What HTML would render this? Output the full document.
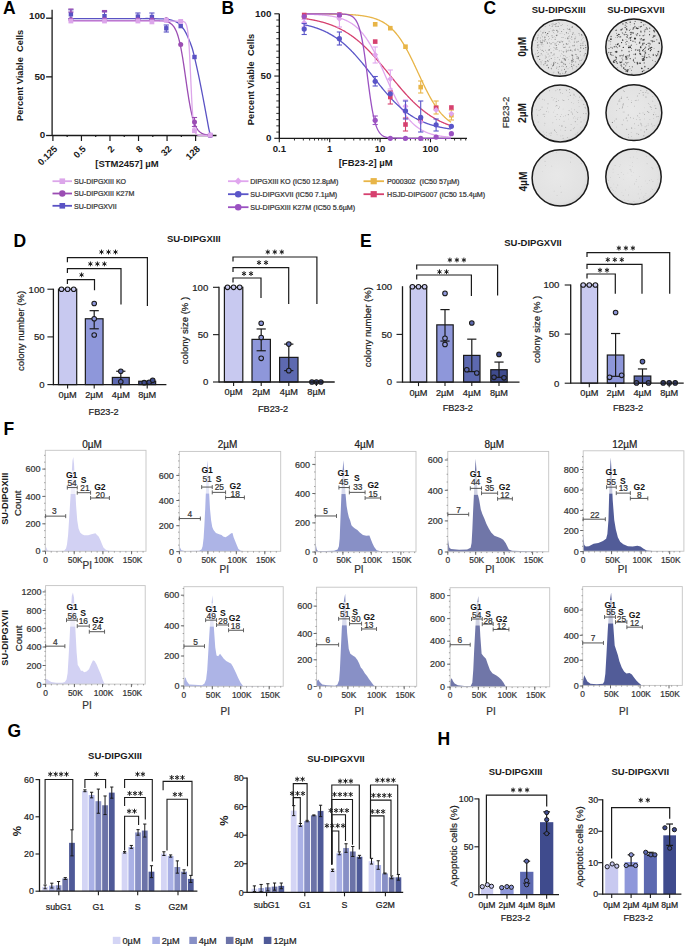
<!DOCTYPE html>
<html><head><meta charset="utf-8"><style>
html,body{margin:0;padding:0;background:#fff;}
svg{display:block;}
text{font-family:"Liberation Sans",sans-serif;}
</style></head><body>
<svg width="685" height="947" viewBox="0 0 685 947">
<rect width="685" height="947" fill="#fff"/>
<text x="3" y="13.7" font-size="17.5" font-weight="bold" text-anchor="start" fill="#000">A</text>
<line x1="52.1" y1="9.7" x2="52.1" y2="136" stroke="#1a1a1a" stroke-width="1.3"/>
<line x1="46.1" y1="18.2" x2="52.1" y2="18.2" stroke="#1a1a1a" stroke-width="1.3"/>
<text x="45.3" y="19.2" font-size="9.8" font-weight="bold" text-anchor="end" fill="#1a1a1a">100</text>
<line x1="46.1" y1="76.85" x2="52.1" y2="76.85" stroke="#1a1a1a" stroke-width="1.3"/>
<text x="45.3" y="79.65" font-size="9.8" font-weight="bold" text-anchor="end" fill="#1a1a1a">50</text>
<line x1="46.1" y1="135.5" x2="52.1" y2="135.5" stroke="#1a1a1a" stroke-width="1.3"/>
<text x="45.3" y="137.7" font-size="9.8" font-weight="bold" text-anchor="end" fill="#1a1a1a">0</text>
<text x="23.4" y="75.4" font-size="9.3" font-weight="bold" text-anchor="middle" fill="#1a1a1a" transform="rotate(-90 23.4 75.4)">Percent Viable  Cells</text>
<line x1="52.1" y1="135.5" x2="216.5" y2="135.5" stroke="#1a1a1a" stroke-width="1.3"/>
<line x1="52.9" y1="135.5" x2="52.9" y2="141" stroke="#1a1a1a" stroke-width="1.2"/>
<line x1="67.17" y1="135.5" x2="67.17" y2="137.1" stroke="#1a1a1a" stroke-width="1.2"/>
<line x1="81.44" y1="135.5" x2="81.44" y2="141" stroke="#1a1a1a" stroke-width="1.2"/>
<line x1="95.71" y1="135.5" x2="95.71" y2="137.1" stroke="#1a1a1a" stroke-width="1.2"/>
<line x1="109.98" y1="135.5" x2="109.98" y2="141" stroke="#1a1a1a" stroke-width="1.2"/>
<line x1="124.25" y1="135.5" x2="124.25" y2="137.1" stroke="#1a1a1a" stroke-width="1.2"/>
<line x1="138.52" y1="135.5" x2="138.52" y2="141" stroke="#1a1a1a" stroke-width="1.2"/>
<line x1="152.79" y1="135.5" x2="152.79" y2="137.1" stroke="#1a1a1a" stroke-width="1.2"/>
<line x1="167.06" y1="135.5" x2="167.06" y2="141" stroke="#1a1a1a" stroke-width="1.2"/>
<line x1="181.33" y1="135.5" x2="181.33" y2="137.1" stroke="#1a1a1a" stroke-width="1.2"/>
<line x1="195.6" y1="135.5" x2="195.6" y2="141" stroke="#1a1a1a" stroke-width="1.2"/>
<line x1="209.87" y1="135.5" x2="209.87" y2="137.1" stroke="#1a1a1a" stroke-width="1.2"/>
<text x="57.9" y="149.5" font-size="9.3" font-weight="bold" text-anchor="end" fill="#1a1a1a" transform="rotate(-45 57.9 149.5)">0.125</text>
<text x="86.44" y="149.5" font-size="9.3" font-weight="bold" text-anchor="end" fill="#1a1a1a" transform="rotate(-45 86.44 149.5)">0.5</text>
<text x="114.98" y="149.5" font-size="9.3" font-weight="bold" text-anchor="end" fill="#1a1a1a" transform="rotate(-45 114.98 149.5)">2</text>
<text x="143.52" y="149.5" font-size="9.3" font-weight="bold" text-anchor="end" fill="#1a1a1a" transform="rotate(-45 143.52 149.5)">8</text>
<text x="172.06" y="149.5" font-size="9.3" font-weight="bold" text-anchor="end" fill="#1a1a1a" transform="rotate(-45 172.06 149.5)">32</text>
<text x="200.6" y="149.5" font-size="9.3" font-weight="bold" text-anchor="end" fill="#1a1a1a" transform="rotate(-45 200.6 149.5)">128</text>
<text x="127" y="167" font-size="9.5" font-weight="bold" text-anchor="middle" fill="#1a1a1a">[STM2457] µM</text>
<path d="M142.87 18.54 C144.06 18.54 146.44 18.47 150 18.54 C153.56 18.62 160.69 18.71 164.26 18.97 C167.82 19.23 169.01 19.4 171.39 20.11 C173.76 20.83 176.38 21.61 178.51 23.25 C180.65 24.89 182.55 27.41 184.22 29.95 C185.88 32.49 187.19 35.53 188.49 38.5 C189.8 41.47 191.06 44.68 192.06 47.77 C193.06 50.86 193.41 52.52 194.48 57.04 C195.55 61.55 197.1 68.33 198.47 74.86 C199.85 81.39 201.33 88.88 202.75 96.25 C204.18 103.61 205.96 113.35 207.03 119.06 C208.1 124.76 208.57 127.8 209.17 130.46 C209.76 133.12 210.36 134.27 210.59 135.03" fill="none" stroke="#5a52c4" stroke-width="1.3"/>
<line x1="70.9" y1="18.6" x2="142.9" y2="18.6" stroke="#5a52c4" stroke-width="1.3"/>
<path d="M70.23 20.55 L70.63 20.55 L71.04 20.55 L71.45 20.55 L71.86 20.55 L72.26 20.55 L72.67 20.55 L73.08 20.55 L73.49 20.55 L73.89 20.55 L74.3 20.55 L74.71 20.55 L75.12 20.55 L75.53 20.55 L75.93 20.55 L76.34 20.55 L76.75 20.55 L77.16 20.55 L77.56 20.55 L77.97 20.55 L78.38 20.55 L78.79 20.55 L79.19 20.55 L79.6 20.55 L80.01 20.55 L80.42 20.55 L80.83 20.55 L81.23 20.55 L81.64 20.55 L82.05 20.55 L82.46 20.55 L82.86 20.55 L83.27 20.55 L83.68 20.55 L84.09 20.55 L84.49 20.55 L84.9 20.55 L85.31 20.55 L85.72 20.55 L86.13 20.55 L86.53 20.55 L86.94 20.55 L87.35 20.55 L87.76 20.55 L88.16 20.55 L88.57 20.55 L88.98 20.55 L89.39 20.55 L89.79 20.55 L90.2 20.55 L90.61 20.55 L91.02 20.55 L91.43 20.55 L91.83 20.55 L92.24 20.55 L92.65 20.55 L93.06 20.55 L93.46 20.55 L93.87 20.55 L94.28 20.55 L94.69 20.55 L95.09 20.55 L95.5 20.55 L95.91 20.55 L96.32 20.55 L96.72 20.55 L97.13 20.55 L97.54 20.55 L97.95 20.55 L98.36 20.55 L98.76 20.55 L99.17 20.55 L99.58 20.55 L99.99 20.55 L100.39 20.55 L100.8 20.55 L101.21 20.55 L101.62 20.55 L102.02 20.55 L102.43 20.55 L102.84 20.55 L103.25 20.55 L103.66 20.55 L104.06 20.55 L104.47 20.55 L104.88 20.55 L105.29 20.55 L105.69 20.55 L106.1 20.55 L106.51 20.55 L106.92 20.55 L107.32 20.55 L107.73 20.55 L108.14 20.55 L108.55 20.55 L108.96 20.55 L109.36 20.55 L109.77 20.55 L110.18 20.55 L110.59 20.55 L110.99 20.55 L111.4 20.55 L111.81 20.55 L112.22 20.55 L112.62 20.55 L113.03 20.55 L113.44 20.55 L113.85 20.55 L114.26 20.55 L114.66 20.55 L115.07 20.55 L115.48 20.55 L115.89 20.55 L116.29 20.55 L116.7 20.55 L117.11 20.55 L117.52 20.55 L117.92 20.55 L118.33 20.55 L118.74 20.55 L119.15 20.55 L119.56 20.55 L119.96 20.55 L120.37 20.55 L120.78 20.55 L121.19 20.55 L121.59 20.55 L122 20.55 L122.41 20.55 L122.82 20.55 L123.22 20.55 L123.63 20.55 L124.04 20.55 L124.45 20.55 L124.85 20.55 L125.26 20.55 L125.67 20.55 L126.08 20.55 L126.49 20.55 L126.89 20.55 L127.3 20.55 L127.71 20.55 L128.12 20.55 L128.52 20.55 L128.93 20.55 L129.34 20.55 L129.75 20.55 L130.15 20.55 L130.56 20.55 L130.97 20.55 L131.38 20.55 L131.79 20.55 L132.19 20.55 L132.6 20.55 L133.01 20.55 L133.42 20.55 L133.82 20.55 L134.23 20.55 L134.64 20.55 L135.05 20.55 L135.45 20.55 L135.86 20.55 L136.27 20.55 L136.68 20.55 L137.09 20.55 L137.49 20.55 L137.9 20.55 L138.31 20.55 L138.72 20.55 L139.12 20.55 L139.53 20.55 L139.94 20.55 L140.35 20.55 L140.75 20.55 L141.16 20.55 L141.57 20.55 L141.98 20.55 L142.39 20.55 L142.79 20.55 L143.2 20.55 L143.61 20.55 L144.02 20.55 L144.42 20.55 L144.83 20.55 L145.24 20.55 L145.65 20.55 L146.05 20.55 L146.46 20.55 L146.87 20.56 L147.28 20.56 L147.69 20.56 L148.09 20.56 L148.5 20.56 L148.91 20.56 L149.32 20.56 L149.72 20.56 L150.13 20.57 L150.54 20.57 L150.95 20.57 L151.35 20.57 L151.76 20.58 L152.17 20.58 L152.58 20.58 L152.98 20.59 L153.39 20.59 L153.8 20.6 L154.21 20.6 L154.62 20.61 L155.02 20.61 L155.43 20.62 L155.84 20.63 L156.25 20.64 L156.65 20.65 L157.06 20.66 L157.47 20.67 L157.88 20.68 L158.28 20.69 L158.69 20.71 L159.1 20.73 L159.51 20.75 L159.92 20.77 L160.32 20.79 L160.73 20.81 L161.14 20.84 L161.55 20.87 L161.95 20.91 L162.36 20.95 L162.77 20.99 L163.18 21.03 L163.58 21.08 L163.99 21.14 L164.4 21.2 L164.81 21.27 L165.22 21.34 L165.62 21.42 L166.03 21.51 L166.44 21.61 L166.85 21.72 L167.25 21.85 L167.66 21.98 L168.07 22.13 L168.48 22.29 L168.88 22.47 L169.29 22.66 L169.7 22.88 L170.11 23.12 L170.52 23.38 L170.92 23.66 L171.33 23.98 L171.74 24.32 L172.15 24.7 L172.55 25.12 L172.96 25.57 L173.37 26.07 L173.78 26.61 L174.18 27.21 L174.59 27.86 L175 28.57 L175.41 29.34 L175.82 30.18 L176.22 31.09 L176.63 32.07 L177.04 33.14 L177.45 34.3 L177.85 35.54 L178.26 36.88 L178.67 38.32 L179.08 39.85 L179.48 41.5 L179.89 43.25 L180.3 45.11 L180.71 47.07 L181.12 49.15 L181.52 51.33 L181.93 53.61 L182.34 55.99 L182.75 58.46 L183.15 61.02 L183.56 63.65 L183.97 66.35 L184.38 69.1 L184.78 71.9 L185.19 74.72 L185.6 77.57 L186.01 80.41 L186.41 83.24 L186.82 86.05 L187.23 88.82 L187.64 91.54 L188.05 94.19 L188.45 96.77 L188.86 99.27 L189.27 101.68 L189.68 104 L190.08 106.21 L190.49 108.32 L190.9 110.32 L191.31 112.21 L191.71 114 L192.12 115.68 L192.53 117.25 L192.94 118.72 L193.35 120.09 L193.75 121.36 L194.16 122.54 L194.57 123.64 L194.98 124.65 L195.38 125.59 L195.79 126.45 L196.2 127.24 L196.61 127.97 L197.01 128.63 L197.42 129.25 L197.83 129.81 L198.24 130.32 L198.65 130.79 L199.05 131.22 L199.46 131.61 L199.87 131.96 L200.28 132.29 L200.68 132.58 L201.09 132.85 L201.5 133.09 L201.91 133.32 L202.31 133.52 L202.72 133.7 L203.13 133.87 L203.54 134.02 L203.95 134.16 L204.35 134.28 L204.76 134.4 L205.17 134.5 L205.58 134.59 L205.98 134.68 L206.39 134.76 L206.8 134.83 L207.21 134.89 L207.61 134.95 L208.02 135 L208.43 135.05 L208.84 135.09 L209.25 135.13 L209.65 135.16 L209.87 135.18" fill="none" stroke="#9b4db3" stroke-width="1.3"/>
<path d="M70.23 21.13 L70.63 21.13 L71.04 21.13 L71.45 21.13 L71.86 21.13 L72.26 21.13 L72.67 21.13 L73.08 21.13 L73.49 21.13 L73.89 21.13 L74.3 21.13 L74.71 21.13 L75.12 21.13 L75.53 21.13 L75.93 21.13 L76.34 21.13 L76.75 21.13 L77.16 21.13 L77.56 21.13 L77.97 21.13 L78.38 21.13 L78.79 21.13 L79.19 21.13 L79.6 21.13 L80.01 21.13 L80.42 21.13 L80.83 21.13 L81.23 21.13 L81.64 21.13 L82.05 21.13 L82.46 21.13 L82.86 21.13 L83.27 21.13 L83.68 21.13 L84.09 21.13 L84.49 21.13 L84.9 21.13 L85.31 21.13 L85.72 21.13 L86.13 21.13 L86.53 21.13 L86.94 21.13 L87.35 21.13 L87.76 21.13 L88.16 21.13 L88.57 21.13 L88.98 21.13 L89.39 21.13 L89.79 21.13 L90.2 21.13 L90.61 21.13 L91.02 21.13 L91.43 21.13 L91.83 21.13 L92.24 21.13 L92.65 21.13 L93.06 21.13 L93.46 21.13 L93.87 21.13 L94.28 21.13 L94.69 21.13 L95.09 21.13 L95.5 21.13 L95.91 21.13 L96.32 21.13 L96.72 21.13 L97.13 21.13 L97.54 21.13 L97.95 21.13 L98.36 21.13 L98.76 21.13 L99.17 21.13 L99.58 21.13 L99.99 21.13 L100.39 21.13 L100.8 21.13 L101.21 21.13 L101.62 21.13 L102.02 21.13 L102.43 21.13 L102.84 21.13 L103.25 21.13 L103.66 21.13 L104.06 21.13 L104.47 21.13 L104.88 21.13 L105.29 21.13 L105.69 21.13 L106.1 21.13 L106.51 21.13 L106.92 21.13 L107.32 21.13 L107.73 21.13 L108.14 21.13 L108.55 21.13 L108.96 21.13 L109.36 21.13 L109.77 21.13 L110.18 21.13 L110.59 21.13 L110.99 21.13 L111.4 21.13 L111.81 21.13 L112.22 21.13 L112.62 21.13 L113.03 21.13 L113.44 21.13 L113.85 21.13 L114.26 21.13 L114.66 21.13 L115.07 21.13 L115.48 21.13 L115.89 21.13 L116.29 21.13 L116.7 21.13 L117.11 21.13 L117.52 21.13 L117.92 21.13 L118.33 21.13 L118.74 21.13 L119.15 21.13 L119.56 21.13 L119.96 21.13 L120.37 21.13 L120.78 21.13 L121.19 21.13 L121.59 21.13 L122 21.13 L122.41 21.13 L122.82 21.13 L123.22 21.13 L123.63 21.13 L124.04 21.13 L124.45 21.13 L124.85 21.13 L125.26 21.13 L125.67 21.13 L126.08 21.13 L126.49 21.13 L126.89 21.13 L127.3 21.13 L127.71 21.13 L128.12 21.13 L128.52 21.13 L128.93 21.13 L129.34 21.13 L129.75 21.13 L130.15 21.13 L130.56 21.13 L130.97 21.13 L131.38 21.13 L131.79 21.13 L132.19 21.13 L132.6 21.13 L133.01 21.13 L133.42 21.13 L133.82 21.13 L134.23 21.13 L134.64 21.13 L135.05 21.13 L135.45 21.13 L135.86 21.13 L136.27 21.13 L136.68 21.13 L137.09 21.13 L137.49 21.13 L137.9 21.13 L138.31 21.13 L138.72 21.13 L139.12 21.13 L139.53 21.13 L139.94 21.13 L140.35 21.13 L140.75 21.13 L141.16 21.13 L141.57 21.13 L141.98 21.13 L142.39 21.13 L142.79 21.13 L143.2 21.13 L143.61 21.13 L144.02 21.13 L144.42 21.13 L144.83 21.13 L145.24 21.13 L145.65 21.13 L146.05 21.13 L146.46 21.13 L146.87 21.13 L147.28 21.13 L147.69 21.13 L148.09 21.13 L148.5 21.13 L148.91 21.13 L149.32 21.13 L149.72 21.13 L150.13 21.13 L150.54 21.13 L150.95 21.13 L151.35 21.13 L151.76 21.13 L152.17 21.13 L152.58 21.13 L152.98 21.13 L153.39 21.13 L153.8 21.13 L154.21 21.13 L154.62 21.13 L155.02 21.13 L155.43 21.13 L155.84 21.13 L156.25 21.13 L156.65 21.13 L157.06 21.13 L157.47 21.13 L157.88 21.13 L158.28 21.13 L158.69 21.13 L159.1 21.13 L159.51 21.13 L159.92 21.13 L160.32 21.13 L160.73 21.13 L161.14 21.13 L161.55 21.13 L161.95 21.13 L162.36 21.13 L162.77 21.13 L163.18 21.13 L163.58 21.13 L163.99 21.13 L164.4 21.13 L164.81 21.13 L165.22 21.13 L165.62 21.13 L166.03 21.13 L166.44 21.13 L166.85 21.13 L167.25 21.13 L167.66 21.13 L168.07 21.13 L168.48 21.13 L168.88 21.13 L169.29 21.13 L169.7 21.13 L170.11 21.13 L170.52 21.13 L170.92 21.13 L171.33 21.13 L171.74 21.13 L172.15 21.13 L172.55 21.13 L172.96 21.13 L173.37 21.13 L173.78 21.13 L174.18 21.13 L174.59 21.13 L175 21.13 L175.41 21.13 L175.82 21.13 L176.22 21.13 L176.63 21.13 L177.04 21.14 L177.45 21.14 L177.85 21.14 L178.26 21.14 L178.67 21.14 L179.08 21.15 L179.48 21.15 L179.89 21.16 L180.3 21.17 L180.71 21.18 L181.12 21.2 L181.52 21.22 L181.93 21.26 L182.34 21.3 L182.75 21.36 L183.15 21.45 L183.56 21.57 L183.97 21.73 L184.38 21.95 L184.78 22.25 L185.19 22.67 L185.6 23.23 L186.01 23.99 L186.41 25.02 L186.82 26.4 L187.23 28.24 L187.64 30.67 L188.05 33.83 L188.45 37.87 L188.86 42.92 L189.27 49.06 L189.68 56.27 L190.08 64.41 L190.49 73.2 L190.9 82.24 L191.31 91.08 L191.71 99.33 L192.12 106.68 L192.53 112.96 L192.94 118.15 L193.35 122.32 L193.75 125.59 L194.16 128.11 L194.57 130.02 L194.98 131.45 L195.38 132.52 L195.79 133.32 L196.2 133.9 L196.61 134.33 L197.01 134.65 L197.42 134.88 L197.83 135.05 L198.24 135.17 L198.65 135.26 L199.05 135.32 L199.46 135.37 L199.87 135.41 L200.28 135.43 L200.68 135.45 L201.09 135.46 L201.5 135.47 L201.91 135.48 L202.31 135.49 L202.72 135.49 L203.13 135.49 L203.54 135.49 L203.95 135.5 L204.35 135.5 L204.76 135.5 L205.17 135.5 L205.58 135.5 L205.98 135.5 L206.39 135.5 L206.8 135.5 L207.21 135.5 L207.61 135.5 L208.02 135.5 L208.43 135.5 L208.84 135.5 L209.25 135.5 L209.65 135.5 L209.87 135.5" fill="none" stroke="#dca6ea" stroke-width="1.3"/>
<line x1="70.9" y1="9.8" x2="70.9" y2="18.5" stroke="#5a52c4" stroke-width="1.1"/>
<line x1="68.3" y1="9.8" x2="73.5" y2="9.8" stroke="#5a52c4" stroke-width="1.1"/>
<line x1="68.3" y1="18.5" x2="73.5" y2="18.5" stroke="#5a52c4" stroke-width="1.1"/>
<rect x="68.7" y="12.1" width="4.4" height="4.4" fill="#5a52c4" stroke="none" stroke-width="1"/>
<line x1="104.5" y1="11.4" x2="104.5" y2="19.5" stroke="#5a52c4" stroke-width="1.1"/>
<line x1="101.9" y1="11.4" x2="107.1" y2="11.4" stroke="#5a52c4" stroke-width="1.1"/>
<line x1="101.9" y1="19.5" x2="107.1" y2="19.5" stroke="#5a52c4" stroke-width="1.1"/>
<rect x="102.3" y="14" width="4.4" height="4.4" fill="#5a52c4" stroke="none" stroke-width="1"/>
<line x1="137.9" y1="13" x2="137.9" y2="19" stroke="#5a52c4" stroke-width="1.1"/>
<line x1="135.3" y1="13" x2="140.5" y2="13" stroke="#5a52c4" stroke-width="1.1"/>
<line x1="135.3" y1="19" x2="140.5" y2="19" stroke="#5a52c4" stroke-width="1.1"/>
<rect x="135.7" y="14.4" width="4.4" height="4.4" fill="#5a52c4" stroke="none" stroke-width="1"/>
<line x1="151.9" y1="13" x2="151.9" y2="19.5" stroke="#5a52c4" stroke-width="1.1"/>
<line x1="149.3" y1="13" x2="154.5" y2="13" stroke="#5a52c4" stroke-width="1.1"/>
<line x1="149.3" y1="19.5" x2="154.5" y2="19.5" stroke="#5a52c4" stroke-width="1.1"/>
<rect x="149.7" y="14.8" width="4.4" height="4.4" fill="#5a52c4" stroke="none" stroke-width="1"/>
<line x1="166.3" y1="25" x2="166.3" y2="32" stroke="#5a52c4" stroke-width="1.1"/>
<line x1="163.7" y1="25" x2="168.9" y2="25" stroke="#5a52c4" stroke-width="1.1"/>
<line x1="163.7" y1="32" x2="168.9" y2="32" stroke="#5a52c4" stroke-width="1.1"/>
<rect x="164.1" y="26.1" width="4.4" height="4.4" fill="#5a52c4" stroke="none" stroke-width="1"/>
<rect x="178.5" y="23.9" width="4.4" height="4.4" fill="#5a52c4" stroke="none" stroke-width="1"/>
<rect x="192.3" y="54.8" width="4.4" height="4.4" fill="#5a52c4" stroke="none" stroke-width="1"/>
<rect x="208" y="133.1" width="4.4" height="4.4" fill="#5a52c4" stroke="none" stroke-width="1"/>
<circle cx="70.9" cy="19.5" r="2.5" fill="#9b4db3" stroke="none" stroke-width="1"/>
<circle cx="104.5" cy="19.5" r="2.5" fill="#9b4db3" stroke="none" stroke-width="1"/>
<circle cx="137.9" cy="19.8" r="2.5" fill="#9b4db3" stroke="none" stroke-width="1"/>
<circle cx="151.9" cy="19.8" r="2.5" fill="#9b4db3" stroke="none" stroke-width="1"/>
<circle cx="166.3" cy="19.8" r="2.5" fill="#9b4db3" stroke="none" stroke-width="1"/>
<circle cx="180.7" cy="44.6" r="2.5" fill="#9b4db3" stroke="none" stroke-width="1"/>
<circle cx="194.5" cy="121.9" r="2.5" fill="#9b4db3" stroke="none" stroke-width="1"/>
<circle cx="210.2" cy="135.3" r="2.5" fill="#9b4db3" stroke="none" stroke-width="1"/>
<line x1="194.5" y1="117.5" x2="194.5" y2="126.5" stroke="#9b4db3" stroke-width="1.1"/>
<line x1="191.9" y1="117.5" x2="197.1" y2="117.5" stroke="#9b4db3" stroke-width="1.1"/>
<line x1="191.9" y1="126.5" x2="197.1" y2="126.5" stroke="#9b4db3" stroke-width="1.1"/>
<line x1="70.9" y1="9" x2="70.9" y2="12" stroke="#9b4db3" stroke-width="1.1"/>
<line x1="68.3" y1="9" x2="73.5" y2="9" stroke="#9b4db3" stroke-width="1.1"/>
<line x1="68.3" y1="12" x2="73.5" y2="12" stroke="#9b4db3" stroke-width="1.1"/>
<line x1="104.5" y1="10.5" x2="104.5" y2="12" stroke="#9b4db3" stroke-width="1.1"/>
<line x1="101.9" y1="10.5" x2="107.1" y2="10.5" stroke="#9b4db3" stroke-width="1.1"/>
<line x1="101.9" y1="12" x2="107.1" y2="12" stroke="#9b4db3" stroke-width="1.1"/>
<rect x="68.5" y="18.6" width="4.8" height="4.8" fill="#dca6ea" stroke="none" stroke-width="1"/>
<rect x="102.1" y="18.6" width="4.8" height="4.8" fill="#dca6ea" stroke="none" stroke-width="1"/>
<rect x="135.5" y="18.6" width="4.8" height="4.8" fill="#dca6ea" stroke="none" stroke-width="1"/>
<rect x="149.5" y="19.5" width="4.8" height="4.8" fill="#dca6ea" stroke="none" stroke-width="1"/>
<rect x="163.9" y="17.9" width="4.8" height="4.8" fill="#dca6ea" stroke="none" stroke-width="1"/>
<rect x="178.3" y="19" width="4.8" height="4.8" fill="#dca6ea" stroke="none" stroke-width="1"/>
<rect x="192.1" y="128.3" width="4.8" height="4.8" fill="#dca6ea" stroke="none" stroke-width="1"/>
<rect x="207.8" y="132.6" width="4.8" height="4.8" fill="#dca6ea" stroke="none" stroke-width="1"/>
<line x1="52.5" y1="181.2" x2="72" y2="181.2" stroke="#dca6ea" stroke-width="1.8"/>
<rect x="59.5" y="178.4" width="5.6" height="5.6" fill="#dca6ea" stroke="none" stroke-width="1"/>
<text x="74" y="184" font-size="7.05" text-anchor="start" fill="#333" stroke="#333" stroke-width="0.22">SU-DIPGXIII KO</text>
<line x1="52.5" y1="193.5" x2="72" y2="193.5" stroke="#9b4db3" stroke-width="1.8"/>
<circle cx="62.3" cy="193.5" r="3.2" fill="#9b4db3" stroke="none" stroke-width="1"/>
<text x="74" y="196.3" font-size="7.05" text-anchor="start" fill="#333" stroke="#333" stroke-width="0.22">SU-DIPGXIII K27M</text>
<line x1="52.5" y1="205.8" x2="72" y2="205.8" stroke="#5a52c4" stroke-width="1.8"/>
<rect x="59.5" y="203" width="5.6" height="5.6" fill="#5a52c4" stroke="none" stroke-width="1"/>
<text x="74" y="208.6" font-size="7.05" text-anchor="start" fill="#333" stroke="#333" stroke-width="0.22">SU-DIPGXVII</text>
<text x="221.5" y="13.7" font-size="17.5" font-weight="bold" text-anchor="start" fill="#000">B</text>
<line x1="279.3" y1="13.8" x2="279.3" y2="138.8" stroke="#1a1a1a" stroke-width="1.4"/>
<line x1="274.3" y1="138.3" x2="279.3" y2="138.3" stroke="#1a1a1a" stroke-width="1.1"/>
<text x="271.4" y="141.3" font-size="9.8" font-weight="bold" text-anchor="end" fill="#1a1a1a">0</text>
<line x1="276.3" y1="132.08" x2="279.3" y2="132.08" stroke="#1a1a1a" stroke-width="0.9"/>
<line x1="276.3" y1="125.85" x2="279.3" y2="125.85" stroke="#1a1a1a" stroke-width="0.9"/>
<line x1="276.3" y1="119.63" x2="279.3" y2="119.63" stroke="#1a1a1a" stroke-width="0.9"/>
<line x1="276.3" y1="113.4" x2="279.3" y2="113.4" stroke="#1a1a1a" stroke-width="0.9"/>
<line x1="276.3" y1="107.18" x2="279.3" y2="107.18" stroke="#1a1a1a" stroke-width="0.9"/>
<line x1="276.3" y1="100.95" x2="279.3" y2="100.95" stroke="#1a1a1a" stroke-width="0.9"/>
<line x1="276.3" y1="94.73" x2="279.3" y2="94.73" stroke="#1a1a1a" stroke-width="0.9"/>
<line x1="276.3" y1="88.5" x2="279.3" y2="88.5" stroke="#1a1a1a" stroke-width="0.9"/>
<line x1="276.3" y1="82.28" x2="279.3" y2="82.28" stroke="#1a1a1a" stroke-width="0.9"/>
<line x1="274.3" y1="76.05" x2="279.3" y2="76.05" stroke="#1a1a1a" stroke-width="1.1"/>
<text x="271.4" y="79.05" font-size="9.8" font-weight="bold" text-anchor="end" fill="#1a1a1a">50</text>
<line x1="276.3" y1="69.83" x2="279.3" y2="69.83" stroke="#1a1a1a" stroke-width="0.9"/>
<line x1="276.3" y1="63.6" x2="279.3" y2="63.6" stroke="#1a1a1a" stroke-width="0.9"/>
<line x1="276.3" y1="57.38" x2="279.3" y2="57.38" stroke="#1a1a1a" stroke-width="0.9"/>
<line x1="276.3" y1="51.15" x2="279.3" y2="51.15" stroke="#1a1a1a" stroke-width="0.9"/>
<line x1="276.3" y1="44.92" x2="279.3" y2="44.92" stroke="#1a1a1a" stroke-width="0.9"/>
<line x1="276.3" y1="38.7" x2="279.3" y2="38.7" stroke="#1a1a1a" stroke-width="0.9"/>
<line x1="276.3" y1="32.48" x2="279.3" y2="32.48" stroke="#1a1a1a" stroke-width="0.9"/>
<line x1="276.3" y1="26.25" x2="279.3" y2="26.25" stroke="#1a1a1a" stroke-width="0.9"/>
<line x1="276.3" y1="20.03" x2="279.3" y2="20.03" stroke="#1a1a1a" stroke-width="0.9"/>
<line x1="274.3" y1="13.8" x2="279.3" y2="13.8" stroke="#1a1a1a" stroke-width="1.1"/>
<text x="271.4" y="16.8" font-size="9.8" font-weight="bold" text-anchor="end" fill="#1a1a1a">100</text>
<text x="254" y="79.5" font-size="9.3" font-weight="bold" text-anchor="middle" fill="#1a1a1a" transform="rotate(-90 254 79.5)">Percent Viable  Cells</text>
<line x1="279.3" y1="138.3" x2="467" y2="138.3" stroke="#1a1a1a" stroke-width="1.3"/>
<line x1="279.3" y1="138.3" x2="279.3" y2="142.3" stroke="#1a1a1a" stroke-width="1.1"/>
<line x1="294.47" y1="138.3" x2="294.47" y2="140.5" stroke="#1a1a1a" stroke-width="0.9"/>
<line x1="303.35" y1="138.3" x2="303.35" y2="140.5" stroke="#1a1a1a" stroke-width="0.9"/>
<line x1="309.64" y1="138.3" x2="309.64" y2="140.5" stroke="#1a1a1a" stroke-width="0.9"/>
<line x1="314.53" y1="138.3" x2="314.53" y2="140.5" stroke="#1a1a1a" stroke-width="0.9"/>
<line x1="318.52" y1="138.3" x2="318.52" y2="140.5" stroke="#1a1a1a" stroke-width="0.9"/>
<line x1="321.89" y1="138.3" x2="321.89" y2="140.5" stroke="#1a1a1a" stroke-width="0.9"/>
<line x1="324.82" y1="138.3" x2="324.82" y2="140.5" stroke="#1a1a1a" stroke-width="0.9"/>
<line x1="327.39" y1="138.3" x2="327.39" y2="140.5" stroke="#1a1a1a" stroke-width="0.9"/>
<line x1="329.7" y1="138.3" x2="329.7" y2="142.3" stroke="#1a1a1a" stroke-width="1.1"/>
<line x1="344.87" y1="138.3" x2="344.87" y2="140.5" stroke="#1a1a1a" stroke-width="0.9"/>
<line x1="353.75" y1="138.3" x2="353.75" y2="140.5" stroke="#1a1a1a" stroke-width="0.9"/>
<line x1="360.04" y1="138.3" x2="360.04" y2="140.5" stroke="#1a1a1a" stroke-width="0.9"/>
<line x1="364.93" y1="138.3" x2="364.93" y2="140.5" stroke="#1a1a1a" stroke-width="0.9"/>
<line x1="368.92" y1="138.3" x2="368.92" y2="140.5" stroke="#1a1a1a" stroke-width="0.9"/>
<line x1="372.29" y1="138.3" x2="372.29" y2="140.5" stroke="#1a1a1a" stroke-width="0.9"/>
<line x1="375.22" y1="138.3" x2="375.22" y2="140.5" stroke="#1a1a1a" stroke-width="0.9"/>
<line x1="377.79" y1="138.3" x2="377.79" y2="140.5" stroke="#1a1a1a" stroke-width="0.9"/>
<line x1="380.1" y1="138.3" x2="380.1" y2="142.3" stroke="#1a1a1a" stroke-width="1.1"/>
<line x1="395.27" y1="138.3" x2="395.27" y2="140.5" stroke="#1a1a1a" stroke-width="0.9"/>
<line x1="404.15" y1="138.3" x2="404.15" y2="140.5" stroke="#1a1a1a" stroke-width="0.9"/>
<line x1="410.44" y1="138.3" x2="410.44" y2="140.5" stroke="#1a1a1a" stroke-width="0.9"/>
<line x1="415.33" y1="138.3" x2="415.33" y2="140.5" stroke="#1a1a1a" stroke-width="0.9"/>
<line x1="419.32" y1="138.3" x2="419.32" y2="140.5" stroke="#1a1a1a" stroke-width="0.9"/>
<line x1="422.69" y1="138.3" x2="422.69" y2="140.5" stroke="#1a1a1a" stroke-width="0.9"/>
<line x1="425.62" y1="138.3" x2="425.62" y2="140.5" stroke="#1a1a1a" stroke-width="0.9"/>
<line x1="428.19" y1="138.3" x2="428.19" y2="140.5" stroke="#1a1a1a" stroke-width="0.9"/>
<line x1="430.5" y1="138.3" x2="430.5" y2="142.3" stroke="#1a1a1a" stroke-width="1.1"/>
<line x1="445.67" y1="138.3" x2="445.67" y2="140.5" stroke="#1a1a1a" stroke-width="0.9"/>
<line x1="454.55" y1="138.3" x2="454.55" y2="140.5" stroke="#1a1a1a" stroke-width="0.9"/>
<line x1="460.84" y1="138.3" x2="460.84" y2="140.5" stroke="#1a1a1a" stroke-width="0.9"/>
<line x1="465.73" y1="138.3" x2="465.73" y2="140.5" stroke="#1a1a1a" stroke-width="0.9"/>
<text x="279.3" y="152.3" font-size="9.6" font-weight="bold" text-anchor="middle" fill="#1a1a1a">0.1</text>
<text x="329.7" y="152.3" font-size="9.6" font-weight="bold" text-anchor="middle" fill="#1a1a1a">1</text>
<text x="380.1" y="152.3" font-size="9.6" font-weight="bold" text-anchor="middle" fill="#1a1a1a">10</text>
<text x="430.5" y="152.3" font-size="9.6" font-weight="bold" text-anchor="middle" fill="#1a1a1a">100</text>
<text x="365.7" y="166" font-size="9.5" font-weight="bold" text-anchor="middle" fill="#1a1a1a">[FB23-2] µM</text>
<path d="M304.06 13.83 L304.5 13.83 L304.93 13.83 L305.36 13.83 L305.8 13.83 L306.23 13.83 L306.67 13.83 L307.1 13.84 L307.53 13.84 L307.97 13.84 L308.4 13.84 L308.83 13.84 L309.27 13.84 L309.7 13.84 L310.13 13.84 L310.57 13.85 L311 13.85 L311.43 13.85 L311.87 13.85 L312.3 13.85 L312.73 13.85 L313.17 13.85 L313.6 13.86 L314.03 13.86 L314.47 13.86 L314.9 13.86 L315.33 13.86 L315.77 13.87 L316.2 13.87 L316.63 13.87 L317.07 13.87 L317.5 13.88 L317.93 13.88 L318.37 13.88 L318.8 13.88 L319.24 13.89 L319.67 13.89 L320.1 13.89 L320.54 13.89 L320.97 13.9 L321.4 13.9 L321.84 13.9 L322.27 13.91 L322.7 13.91 L323.14 13.91 L323.57 13.92 L324 13.92 L324.44 13.92 L324.87 13.93 L325.3 13.93 L325.74 13.94 L326.17 13.94 L326.6 13.95 L327.04 13.95 L327.47 13.96 L327.9 13.96 L328.34 13.97 L328.77 13.97 L329.2 13.98 L329.64 13.98 L330.07 13.99 L330.5 13.99 L330.94 14 L331.37 14.01 L331.81 14.01 L332.24 14.02 L332.67 14.03 L333.11 14.03 L333.54 14.04 L333.97 14.05 L334.41 14.06 L334.84 14.07 L335.27 14.08 L335.71 14.08 L336.14 14.09 L336.57 14.1 L337.01 14.11 L337.44 14.12 L337.87 14.13 L338.31 14.14 L338.74 14.15 L339.17 14.17 L339.61 14.18 L340.04 14.19 L340.47 14.2 L340.91 14.21 L341.34 14.23 L341.77 14.24 L342.21 14.26 L342.64 14.27 L343.08 14.29 L343.51 14.3 L343.94 14.32 L344.38 14.33 L344.81 14.35 L345.24 14.37 L345.68 14.39 L346.11 14.41 L346.54 14.42 L346.98 14.45 L347.41 14.47 L347.84 14.49 L348.28 14.51 L348.71 14.53 L349.14 14.56 L349.58 14.58 L350.01 14.6 L350.44 14.63 L350.88 14.66 L351.31 14.68 L351.74 14.71 L352.18 14.74 L352.61 14.77 L353.04 14.8 L353.48 14.83 L353.91 14.87 L354.34 14.9 L354.78 14.94 L355.21 14.97 L355.65 15.01 L356.08 15.05 L356.51 15.09 L356.95 15.13 L357.38 15.17 L357.81 15.21 L358.25 15.26 L358.68 15.31 L359.11 15.35 L359.55 15.4 L359.98 15.45 L360.41 15.51 L360.85 15.56 L361.28 15.62 L361.71 15.67 L362.15 15.73 L362.58 15.79 L363.01 15.86 L363.45 15.92 L363.88 15.99 L364.31 16.06 L364.75 16.13 L365.18 16.2 L365.61 16.28 L366.05 16.36 L366.48 16.44 L366.91 16.52 L367.35 16.61 L367.78 16.7 L368.22 16.79 L368.65 16.88 L369.08 16.98 L369.52 17.08 L369.95 17.18 L370.38 17.28 L370.82 17.39 L371.25 17.5 L371.68 17.62 L372.12 17.74 L372.55 17.86 L372.98 17.99 L373.42 18.12 L373.85 18.25 L374.28 18.39 L374.72 18.53 L375.15 18.68 L375.58 18.83 L376.02 18.98 L376.45 19.14 L376.88 19.3 L377.32 19.47 L377.75 19.65 L378.18 19.83 L378.62 20.01 L379.05 20.2 L379.48 20.39 L379.92 20.59 L380.35 20.8 L380.79 21.01 L381.22 21.23 L381.65 21.45 L382.09 21.68 L382.52 21.92 L382.95 22.16 L383.39 22.41 L383.82 22.67 L384.25 22.93 L384.69 23.2 L385.12 23.48 L385.55 23.76 L385.99 24.06 L386.42 24.36 L386.85 24.67 L387.29 24.98 L387.72 25.31 L388.15 25.64 L388.59 25.98 L389.02 26.33 L389.45 26.69 L389.89 27.06 L390.32 27.44 L390.75 27.83 L391.19 28.22 L391.62 28.63 L392.05 29.04 L392.49 29.47 L392.92 29.9 L393.36 30.35 L393.79 30.81 L394.22 31.27 L394.66 31.75 L395.09 32.24 L395.52 32.74 L395.96 33.25 L396.39 33.77 L396.82 34.3 L397.26 34.84 L397.69 35.39 L398.12 35.96 L398.56 36.54 L398.99 37.12 L399.42 37.72 L399.86 38.33 L400.29 38.95 L400.72 39.59 L401.16 40.23 L401.59 40.89 L402.02 41.56 L402.46 42.23 L402.89 42.92 L403.32 43.62 L403.76 44.34 L404.19 45.06 L404.62 45.79 L405.06 46.54 L405.49 47.29 L405.93 48.06 L406.36 48.84 L406.79 49.62 L407.23 50.42 L407.66 51.23 L408.09 52.04 L408.53 52.86 L408.96 53.7 L409.39 54.54 L409.83 55.39 L410.26 56.25 L410.69 57.11 L411.13 57.99 L411.56 58.87 L411.99 59.76 L412.43 60.65 L412.86 61.55 L413.29 62.45 L413.73 63.36 L414.16 64.28 L414.59 65.2 L415.03 66.12 L415.46 67.05 L415.89 67.97 L416.33 68.91 L416.76 69.84 L417.19 70.77 L417.63 71.71 L418.06 72.65 L418.5 73.58 L418.93 74.52 L419.36 75.46 L419.8 76.39 L420.23 77.32 L420.66 78.25 L421.1 79.18 L421.53 80.11 L421.96 81.03 L422.4 81.94 L422.83 82.86 L423.26 83.77 L423.7 84.67 L424.13 85.57 L424.56 86.46 L425 87.34 L425.43 88.22 L425.86 89.09 L426.3 89.95 L426.73 90.81 L427.16 91.66 L427.6 92.49 L428.03 93.32 L428.46 94.15 L428.9 94.96 L429.33 95.76 L429.76 96.55 L430.2 97.33 L430.63 98.11 L431.07 98.87 L431.5 99.62 L431.93 100.36 L432.37 101.09 L432.8 101.81 L433.23 102.52 L433.67 103.21 L434.1 103.9 L434.53 104.57 L434.97 105.24 L435.4 105.89 L435.83 106.53 L436.27 107.16 L436.7 107.78 L437.13 108.38 L437.57 108.98 L438 109.56 L438.43 110.13 L438.87 110.69 L439.3 111.24 L439.73 111.78 L440.17 112.31 L440.6 112.82 L441.03 113.33 L441.47 113.82 L441.9 114.31 L442.33 114.78 L442.77 115.24 L443.2 115.69 L443.64 116.14 L444.07 116.57 L444.5 116.99 L444.94 117.4 L445.37 117.8 L445.8 118.2 L446.24 118.58 L446.67 118.96 L447.1 119.32 L447.54 119.68 L447.97 120.02 L448.4 120.36 L448.84 120.69 L449.27 121.01 L449.7 121.33 L450.14 121.63 L450.57 121.93 L451 122.22" fill="none" stroke="#e8b548" stroke-width="1.3"/>
<path d="M304.06 18.5 L304.5 18.56 L304.93 18.62 L305.36 18.68 L305.8 18.74 L306.23 18.81 L306.67 18.87 L307.1 18.94 L307.53 19.01 L307.97 19.08 L308.4 19.15 L308.83 19.22 L309.27 19.29 L309.7 19.37 L310.13 19.44 L310.57 19.52 L311 19.59 L311.43 19.67 L311.87 19.75 L312.3 19.83 L312.73 19.92 L313.17 20 L313.6 20.09 L314.03 20.17 L314.47 20.26 L314.9 20.35 L315.33 20.44 L315.77 20.53 L316.2 20.63 L316.63 20.72 L317.07 20.82 L317.5 20.92 L317.93 21.02 L318.37 21.12 L318.8 21.23 L319.24 21.33 L319.67 21.44 L320.1 21.55 L320.54 21.66 L320.97 21.77 L321.4 21.88 L321.84 22 L322.27 22.12 L322.7 22.24 L323.14 22.36 L323.57 22.48 L324 22.61 L324.44 22.73 L324.87 22.86 L325.3 22.99 L325.74 23.13 L326.17 23.26 L326.6 23.4 L327.04 23.54 L327.47 23.68 L327.9 23.82 L328.34 23.97 L328.77 24.12 L329.2 24.27 L329.64 24.42 L330.07 24.58 L330.5 24.74 L330.94 24.89 L331.37 25.06 L331.81 25.22 L332.24 25.39 L332.67 25.56 L333.11 25.73 L333.54 25.91 L333.97 26.08 L334.41 26.26 L334.84 26.45 L335.27 26.63 L335.71 26.82 L336.14 27.01 L336.57 27.2 L337.01 27.4 L337.44 27.6 L337.87 27.8 L338.31 28 L338.74 28.21 L339.17 28.42 L339.61 28.63 L340.04 28.85 L340.47 29.07 L340.91 29.29 L341.34 29.52 L341.77 29.74 L342.21 29.98 L342.64 30.21 L343.08 30.45 L343.51 30.69 L343.94 30.93 L344.38 31.18 L344.81 31.43 L345.24 31.68 L345.68 31.94 L346.11 32.2 L346.54 32.46 L346.98 32.73 L347.41 33 L347.84 33.27 L348.28 33.55 L348.71 33.83 L349.14 34.12 L349.58 34.4 L350.01 34.69 L350.44 34.99 L350.88 35.29 L351.31 35.59 L351.74 35.89 L352.18 36.2 L352.61 36.51 L353.04 36.83 L353.48 37.15 L353.91 37.47 L354.34 37.8 L354.78 38.13 L355.21 38.46 L355.65 38.8 L356.08 39.14 L356.51 39.49 L356.95 39.83 L357.38 40.19 L357.81 40.54 L358.25 40.9 L358.68 41.26 L359.11 41.63 L359.55 42 L359.98 42.37 L360.41 42.75 L360.85 43.13 L361.28 43.52 L361.71 43.91 L362.15 44.3 L362.58 44.69 L363.01 45.09 L363.45 45.5 L363.88 45.9 L364.31 46.31 L364.75 46.72 L365.18 47.14 L365.61 47.56 L366.05 47.98 L366.48 48.41 L366.91 48.84 L367.35 49.28 L367.78 49.71 L368.22 50.15 L368.65 50.6 L369.08 51.04 L369.52 51.49 L369.95 51.95 L370.38 52.4 L370.82 52.86 L371.25 53.32 L371.68 53.79 L372.12 54.26 L372.55 54.73 L372.98 55.2 L373.42 55.68 L373.85 56.16 L374.28 56.64 L374.72 57.12 L375.15 57.61 L375.58 58.1 L376.02 58.59 L376.45 59.09 L376.88 59.58 L377.32 60.08 L377.75 60.59 L378.18 61.09 L378.62 61.59 L379.05 62.1 L379.48 62.61 L379.92 63.12 L380.35 63.64 L380.79 64.15 L381.22 64.67 L381.65 65.18 L382.09 65.7 L382.52 66.22 L382.95 66.75 L383.39 67.27 L383.82 67.8 L384.25 68.32 L384.69 68.85 L385.12 69.38 L385.55 69.9 L385.99 70.43 L386.42 70.96 L386.85 71.49 L387.29 72.03 L387.72 72.56 L388.15 73.09 L388.59 73.62 L389.02 74.15 L389.45 74.69 L389.89 75.22 L390.32 75.75 L390.75 76.28 L391.19 76.82 L391.62 77.35 L392.05 77.88 L392.49 78.41 L392.92 78.94 L393.36 79.47 L393.79 80 L394.22 80.53 L394.66 81.05 L395.09 81.58 L395.52 82.1 L395.96 82.63 L396.39 83.15 L396.82 83.67 L397.26 84.19 L397.69 84.71 L398.12 85.23 L398.56 85.74 L398.99 86.26 L399.42 86.77 L399.86 87.28 L400.29 87.79 L400.72 88.3 L401.16 88.8 L401.59 89.3 L402.02 89.8 L402.46 90.3 L402.89 90.8 L403.32 91.29 L403.76 91.78 L404.19 92.27 L404.62 92.75 L405.06 93.24 L405.49 93.72 L405.93 94.2 L406.36 94.67 L406.79 95.14 L407.23 95.61 L407.66 96.08 L408.09 96.54 L408.53 97 L408.96 97.46 L409.39 97.91 L409.83 98.37 L410.26 98.81 L410.69 99.26 L411.13 99.7 L411.56 100.14 L411.99 100.57 L412.43 101.01 L412.86 101.43 L413.29 101.86 L413.73 102.28 L414.16 102.7 L414.59 103.11 L415.03 103.53 L415.46 103.93 L415.89 104.34 L416.33 104.74 L416.76 105.14 L417.19 105.53 L417.63 105.92 L418.06 106.31 L418.5 106.69 L418.93 107.07 L419.36 107.44 L419.8 107.81 L420.23 108.18 L420.66 108.55 L421.1 108.91 L421.53 109.27 L421.96 109.62 L422.4 109.97 L422.83 110.32 L423.26 110.66 L423.7 111 L424.13 111.33 L424.56 111.66 L425 111.99 L425.43 112.32 L425.86 112.64 L426.3 112.96 L426.73 113.27 L427.16 113.58 L427.6 113.89 L428.03 114.19 L428.46 114.49 L428.9 114.78 L429.33 115.08 L429.76 115.37 L430.2 115.65 L430.63 115.93 L431.07 116.21 L431.5 116.49 L431.93 116.76 L432.37 117.03 L432.8 117.29 L433.23 117.55 L433.67 117.81 L434.1 118.07 L434.53 118.32 L434.97 118.57 L435.4 118.81 L435.83 119.06 L436.27 119.29 L436.7 119.53 L437.13 119.76 L437.57 119.99 L438 120.22 L438.43 120.44 L438.87 120.66 L439.3 120.88 L439.73 121.09 L440.17 121.31 L440.6 121.51 L441.03 121.72 L441.47 121.92 L441.9 122.12 L442.33 122.32 L442.77 122.52 L443.2 122.71 L443.64 122.9 L444.07 123.08 L444.5 123.27 L444.94 123.45 L445.37 123.63 L445.8 123.8 L446.24 123.97 L446.67 124.15 L447.1 124.31 L447.54 124.48 L447.97 124.64 L448.4 124.8 L448.84 124.96 L449.27 125.12 L449.7 125.27 L450.14 125.42 L450.57 125.57 L451 125.72" fill="none" stroke="#d6416f" stroke-width="1.3"/>
<path d="M304.06 14.12 L304.5 14.13 L304.93 14.14 L305.36 14.15 L305.8 14.17 L306.23 14.18 L306.67 14.19 L307.1 14.2 L307.53 14.22 L307.97 14.23 L308.4 14.24 L308.83 14.26 L309.27 14.27 L309.7 14.29 L310.13 14.3 L310.57 14.32 L311 14.33 L311.43 14.35 L311.87 14.37 L312.3 14.39 L312.73 14.41 L313.17 14.43 L313.6 14.45 L314.03 14.47 L314.47 14.49 L314.9 14.51 L315.33 14.53 L315.77 14.56 L316.2 14.58 L316.63 14.61 L317.07 14.63 L317.5 14.66 L317.93 14.69 L318.37 14.71 L318.8 14.74 L319.24 14.77 L319.67 14.8 L320.1 14.84 L320.54 14.87 L320.97 14.9 L321.4 14.94 L321.84 14.97 L322.27 15.01 L322.7 15.05 L323.14 15.09 L323.57 15.13 L324 15.17 L324.44 15.22 L324.87 15.26 L325.3 15.31 L325.74 15.36 L326.17 15.41 L326.6 15.46 L327.04 15.51 L327.47 15.56 L327.9 15.62 L328.34 15.68 L328.77 15.74 L329.2 15.8 L329.64 15.86 L330.07 15.93 L330.5 16 L330.94 16.06 L331.37 16.14 L331.81 16.21 L332.24 16.29 L332.67 16.36 L333.11 16.44 L333.54 16.53 L333.97 16.61 L334.41 16.7 L334.84 16.79 L335.27 16.89 L335.71 16.98 L336.14 17.08 L336.57 17.19 L337.01 17.29 L337.44 17.4 L337.87 17.51 L338.31 17.63 L338.74 17.75 L339.17 17.87 L339.61 18 L340.04 18.13 L340.47 18.26 L340.91 18.4 L341.34 18.55 L341.77 18.69 L342.21 18.84 L342.64 19 L343.08 19.16 L343.51 19.32 L343.94 19.49 L344.38 19.67 L344.81 19.85 L345.24 20.03 L345.68 20.22 L346.11 20.42 L346.54 20.62 L346.98 20.83 L347.41 21.04 L347.84 21.26 L348.28 21.49 L348.71 21.72 L349.14 21.96 L349.58 22.2 L350.01 22.45 L350.44 22.71 L350.88 22.98 L351.31 23.25 L351.74 23.53 L352.18 23.82 L352.61 24.11 L353.04 24.42 L353.48 24.73 L353.91 25.05 L354.34 25.38 L354.78 25.71 L355.21 26.06 L355.65 26.42 L356.08 26.78 L356.51 27.15 L356.95 27.53 L357.38 27.93 L357.81 28.33 L358.25 28.74 L358.68 29.16 L359.11 29.59 L359.55 30.03 L359.98 30.49 L360.41 30.95 L360.85 31.42 L361.28 31.91 L361.71 32.41 L362.15 32.91 L362.58 33.43 L363.01 33.96 L363.45 34.5 L363.88 35.05 L364.31 35.62 L364.75 36.19 L365.18 36.78 L365.61 37.38 L366.05 37.99 L366.48 38.62 L366.91 39.25 L367.35 39.9 L367.78 40.56 L368.22 41.23 L368.65 41.91 L369.08 42.61 L369.52 43.32 L369.95 44.04 L370.38 44.77 L370.82 45.51 L371.25 46.27 L371.68 47.03 L372.12 47.81 L372.55 48.6 L372.98 49.4 L373.42 50.21 L373.85 51.03 L374.28 51.86 L374.72 52.71 L375.15 53.56 L375.58 54.42 L376.02 55.29 L376.45 56.17 L376.88 57.06 L377.32 57.96 L377.75 58.87 L378.18 59.78 L378.62 60.71 L379.05 61.64 L379.48 62.57 L379.92 63.52 L380.35 64.47 L380.79 65.42 L381.22 66.38 L381.65 67.34 L382.09 68.31 L382.52 69.29 L382.95 70.26 L383.39 71.24 L383.82 72.22 L384.25 73.21 L384.69 74.19 L385.12 75.18 L385.55 76.16 L385.99 77.15 L386.42 78.13 L386.85 79.12 L387.29 80.1 L387.72 81.08 L388.15 82.06 L388.59 83.04 L389.02 84.01 L389.45 84.98 L389.89 85.94 L390.32 86.9 L390.75 87.85 L391.19 88.8 L391.62 89.74 L392.05 90.68 L392.49 91.61 L392.92 92.53 L393.36 93.44 L393.79 94.34 L394.22 95.24 L394.66 96.13 L395.09 97.01 L395.52 97.88 L395.96 98.74 L396.39 99.59 L396.82 100.43 L397.26 101.26 L397.69 102.08 L398.12 102.89 L398.56 103.68 L398.99 104.47 L399.42 105.24 L399.86 106.01 L400.29 106.76 L400.72 107.5 L401.16 108.23 L401.59 108.95 L402.02 109.65 L402.46 110.34 L402.89 111.02 L403.32 111.69 L403.76 112.35 L404.19 112.99 L404.62 113.63 L405.06 114.25 L405.49 114.86 L405.93 115.45 L406.36 116.04 L406.79 116.61 L407.23 117.17 L407.66 117.72 L408.09 118.26 L408.53 118.79 L408.96 119.3 L409.39 119.81 L409.83 120.3 L410.26 120.78 L410.69 121.26 L411.13 121.72 L411.56 122.17 L411.99 122.61 L412.43 123.04 L412.86 123.46 L413.29 123.86 L413.73 124.26 L414.16 124.65 L414.59 125.03 L415.03 125.41 L415.46 125.77 L415.89 126.12 L416.33 126.46 L416.76 126.8 L417.19 127.12 L417.63 127.44 L418.06 127.75 L418.5 128.05 L418.93 128.35 L419.36 128.64 L419.8 128.91 L420.23 129.19 L420.66 129.45 L421.1 129.71 L421.53 129.96 L421.96 130.2 L422.4 130.44 L422.83 130.67 L423.26 130.89 L423.7 131.11 L424.13 131.32 L424.56 131.53 L425 131.73 L425.43 131.92 L425.86 132.11 L426.3 132.29 L426.73 132.47 L427.16 132.65 L427.6 132.81 L428.03 132.98 L428.46 133.14 L428.9 133.29 L429.33 133.44 L429.76 133.59 L430.2 133.73 L430.63 133.87 L431.07 134 L431.5 134.13 L431.93 134.26 L432.37 134.38 L432.8 134.5 L433.23 134.61 L433.67 134.72 L434.1 134.83 L434.53 134.94 L434.97 135.04 L435.4 135.14 L435.83 135.23 L436.27 135.33 L436.7 135.42 L437.13 135.51 L437.57 135.59 L438 135.67 L438.43 135.75 L438.87 135.83 L439.3 135.91 L439.73 135.98 L440.17 136.05 L440.6 136.12 L441.03 136.19 L441.47 136.25 L441.9 136.31 L442.33 136.38 L442.77 136.43 L443.2 136.49 L443.64 136.55 L444.07 136.6 L444.5 136.65 L444.94 136.7 L445.37 136.75 L445.8 136.8 L446.24 136.85 L446.67 136.89 L447.1 136.94 L447.54 136.98 L447.97 137.02 L448.4 137.06 L448.84 137.1 L449.27 137.13 L449.7 137.17 L450.14 137.2 L450.57 137.24 L451 137.27" fill="none" stroke="#e0a6ee" stroke-width="1.3"/>
<path d="M304.06 24.71 L304.5 24.8 L304.93 24.89 L305.36 24.99 L305.8 25.08 L306.23 25.18 L306.67 25.28 L307.1 25.38 L307.53 25.48 L307.97 25.58 L308.4 25.69 L308.83 25.79 L309.27 25.9 L309.7 26.02 L310.13 26.13 L310.57 26.24 L311 26.36 L311.43 26.48 L311.87 26.6 L312.3 26.73 L312.73 26.85 L313.17 26.98 L313.6 27.11 L314.03 27.24 L314.47 27.38 L314.9 27.51 L315.33 27.65 L315.77 27.8 L316.2 27.94 L316.63 28.09 L317.07 28.24 L317.5 28.39 L317.93 28.54 L318.37 28.7 L318.8 28.86 L319.24 29.02 L319.67 29.19 L320.1 29.36 L320.54 29.53 L320.97 29.7 L321.4 29.88 L321.84 30.06 L322.27 30.24 L322.7 30.42 L323.14 30.61 L323.57 30.8 L324 31 L324.44 31.2 L324.87 31.4 L325.3 31.6 L325.74 31.81 L326.17 32.02 L326.6 32.23 L327.04 32.45 L327.47 32.67 L327.9 32.89 L328.34 33.12 L328.77 33.35 L329.2 33.59 L329.64 33.82 L330.07 34.07 L330.5 34.31 L330.94 34.56 L331.37 34.81 L331.81 35.07 L332.24 35.33 L332.67 35.59 L333.11 35.86 L333.54 36.13 L333.97 36.4 L334.41 36.68 L334.84 36.97 L335.27 37.25 L335.71 37.54 L336.14 37.84 L336.57 38.14 L337.01 38.44 L337.44 38.75 L337.87 39.06 L338.31 39.37 L338.74 39.69 L339.17 40.01 L339.61 40.34 L340.04 40.67 L340.47 41.01 L340.91 41.35 L341.34 41.69 L341.77 42.04 L342.21 42.39 L342.64 42.75 L343.08 43.11 L343.51 43.48 L343.94 43.84 L344.38 44.22 L344.81 44.6 L345.24 44.98 L345.68 45.36 L346.11 45.75 L346.54 46.15 L346.98 46.55 L347.41 46.95 L347.84 47.36 L348.28 47.77 L348.71 48.18 L349.14 48.6 L349.58 49.03 L350.01 49.46 L350.44 49.89 L350.88 50.32 L351.31 50.76 L351.74 51.21 L352.18 51.65 L352.61 52.11 L353.04 52.56 L353.48 53.02 L353.91 53.48 L354.34 53.95 L354.78 54.42 L355.21 54.89 L355.65 55.37 L356.08 55.85 L356.51 56.34 L356.95 56.82 L357.38 57.32 L357.81 57.81 L358.25 58.31 L358.68 58.81 L359.11 59.31 L359.55 59.82 L359.98 60.33 L360.41 60.84 L360.85 61.36 L361.28 61.87 L361.71 62.39 L362.15 62.92 L362.58 63.44 L363.01 63.97 L363.45 64.5 L363.88 65.03 L364.31 65.57 L364.75 66.1 L365.18 66.64 L365.61 67.18 L366.05 67.72 L366.48 68.27 L366.91 68.81 L367.35 69.36 L367.78 69.9 L368.22 70.45 L368.65 71 L369.08 71.55 L369.52 72.1 L369.95 72.66 L370.38 73.21 L370.82 73.76 L371.25 74.32 L371.68 74.87 L372.12 75.43 L372.55 75.98 L372.98 76.54 L373.42 77.09 L373.85 77.64 L374.28 78.2 L374.72 78.75 L375.15 79.31 L375.58 79.86 L376.02 80.41 L376.45 80.96 L376.88 81.51 L377.32 82.06 L377.75 82.61 L378.18 83.15 L378.62 83.7 L379.05 84.24 L379.48 84.78 L379.92 85.33 L380.35 85.86 L380.79 86.4 L381.22 86.94 L381.65 87.47 L382.09 88 L382.52 88.53 L382.95 89.05 L383.39 89.58 L383.82 90.1 L384.25 90.62 L384.69 91.13 L385.12 91.65 L385.55 92.16 L385.99 92.66 L386.42 93.17 L386.85 93.67 L387.29 94.17 L387.72 94.66 L388.15 95.15 L388.59 95.64 L389.02 96.13 L389.45 96.61 L389.89 97.09 L390.32 97.56 L390.75 98.03 L391.19 98.5 L391.62 98.97 L392.05 99.43 L392.49 99.88 L392.92 100.33 L393.36 100.78 L393.79 101.23 L394.22 101.67 L394.66 102.1 L395.09 102.54 L395.52 102.97 L395.96 103.39 L396.39 103.81 L396.82 104.23 L397.26 104.64 L397.69 105.05 L398.12 105.45 L398.56 105.85 L398.99 106.25 L399.42 106.64 L399.86 107.03 L400.29 107.41 L400.72 107.79 L401.16 108.16 L401.59 108.53 L402.02 108.9 L402.46 109.26 L402.89 109.62 L403.32 109.97 L403.76 110.32 L404.19 110.67 L404.62 111.01 L405.06 111.34 L405.49 111.68 L405.93 112 L406.36 112.33 L406.79 112.65 L407.23 112.97 L407.66 113.28 L408.09 113.58 L408.53 113.89 L408.96 114.19 L409.39 114.48 L409.83 114.78 L410.26 115.06 L410.69 115.35 L411.13 115.63 L411.56 115.9 L411.99 116.17 L412.43 116.44 L412.86 116.71 L413.29 116.97 L413.73 117.23 L414.16 117.48 L414.59 117.73 L415.03 117.97 L415.46 118.22 L415.89 118.45 L416.33 118.69 L416.76 118.92 L417.19 119.15 L417.63 119.37 L418.06 119.6 L418.5 119.81 L418.93 120.03 L419.36 120.24 L419.8 120.45 L420.23 120.65 L420.66 120.85 L421.1 121.05 L421.53 121.25 L421.96 121.44 L422.4 121.63 L422.83 121.81 L423.26 122 L423.7 122.18 L424.13 122.36 L424.56 122.53 L425 122.7 L425.43 122.87 L425.86 123.04 L426.3 123.2 L426.73 123.36 L427.16 123.52 L427.6 123.67 L428.03 123.83 L428.46 123.98 L428.9 124.12 L429.33 124.27 L429.76 124.41 L430.2 124.55 L430.63 124.69 L431.07 124.82 L431.5 124.96 L431.93 125.09 L432.37 125.22 L432.8 125.34 L433.23 125.47 L433.67 125.59 L434.1 125.71 L434.53 125.83 L434.97 125.94 L435.4 126.06 L435.83 126.17 L436.27 126.28 L436.7 126.39 L437.13 126.49 L437.57 126.6 L438 126.7 L438.43 126.8 L438.87 126.9 L439.3 126.99 L439.73 127.09 L440.17 127.18 L440.6 127.28 L441.03 127.37 L441.47 127.45 L441.9 127.54 L442.33 127.63 L442.77 127.71 L443.2 127.79 L443.64 127.87 L444.07 127.95 L444.5 128.03 L444.94 128.11 L445.37 128.18 L445.8 128.26 L446.24 128.33 L446.67 128.4 L447.1 128.47 L447.54 128.54 L447.97 128.6 L448.4 128.67 L448.84 128.74 L449.27 128.8 L449.7 128.86 L450.14 128.92 L450.57 128.98 L451 129.04" fill="none" stroke="#5a55c8" stroke-width="1.3"/>
<path d="M304.06 13.8 L304.5 13.8 L304.93 13.8 L305.36 13.8 L305.8 13.8 L306.23 13.8 L306.67 13.8 L307.1 13.8 L307.53 13.8 L307.97 13.8 L308.4 13.8 L308.83 13.8 L309.27 13.8 L309.7 13.8 L310.13 13.8 L310.57 13.8 L311 13.8 L311.43 13.8 L311.87 13.8 L312.3 13.8 L312.73 13.8 L313.17 13.8 L313.6 13.8 L314.03 13.8 L314.47 13.8 L314.9 13.8 L315.33 13.8 L315.77 13.8 L316.2 13.8 L316.63 13.8 L317.07 13.8 L317.5 13.8 L317.93 13.8 L318.37 13.8 L318.8 13.8 L319.24 13.8 L319.67 13.8 L320.1 13.8 L320.54 13.8 L320.97 13.8 L321.4 13.8 L321.84 13.8 L322.27 13.8 L322.7 13.8 L323.14 13.8 L323.57 13.8 L324 13.8 L324.44 13.8 L324.87 13.8 L325.3 13.8 L325.74 13.8 L326.17 13.8 L326.6 13.8 L327.04 13.8 L327.47 13.81 L327.9 13.81 L328.34 13.81 L328.77 13.81 L329.2 13.81 L329.64 13.81 L330.07 13.81 L330.5 13.81 L330.94 13.81 L331.37 13.81 L331.81 13.82 L332.24 13.82 L332.67 13.82 L333.11 13.82 L333.54 13.83 L333.97 13.83 L334.41 13.83 L334.84 13.83 L335.27 13.84 L335.71 13.84 L336.14 13.85 L336.57 13.85 L337.01 13.86 L337.44 13.87 L337.87 13.87 L338.31 13.88 L338.74 13.89 L339.17 13.9 L339.61 13.92 L340.04 13.93 L340.47 13.94 L340.91 13.96 L341.34 13.98 L341.77 14 L342.21 14.02 L342.64 14.05 L343.08 14.07 L343.51 14.11 L343.94 14.14 L344.38 14.18 L344.81 14.22 L345.24 14.27 L345.68 14.33 L346.11 14.39 L346.54 14.45 L346.98 14.53 L347.41 14.61 L347.84 14.71 L348.28 14.81 L348.71 14.92 L349.14 15.05 L349.58 15.19 L350.01 15.35 L350.44 15.53 L350.88 15.72 L351.31 15.94 L351.74 16.18 L352.18 16.45 L352.61 16.75 L353.04 17.08 L353.48 17.45 L353.91 17.85 L354.34 18.3 L354.78 18.8 L355.21 19.35 L355.65 19.96 L356.08 20.63 L356.51 21.37 L356.95 22.18 L357.38 23.07 L357.81 24.05 L358.25 25.12 L358.68 26.29 L359.11 27.57 L359.55 28.96 L359.98 30.47 L360.41 32.11 L360.85 33.88 L361.28 35.78 L361.71 37.82 L362.15 40 L362.58 42.33 L363.01 44.79 L363.45 47.39 L363.88 50.13 L364.31 53 L364.75 55.98 L365.18 59.07 L365.61 62.25 L366.05 65.51 L366.48 68.83 L366.91 72.19 L367.35 75.58 L367.78 78.96 L368.22 82.33 L368.65 85.67 L369.08 88.95 L369.52 92.15 L369.95 95.27 L370.38 98.28 L370.82 101.18 L371.25 103.95 L371.68 106.6 L372.12 109.1 L372.55 111.46 L372.98 113.69 L373.42 115.77 L373.85 117.71 L374.28 119.51 L374.72 121.18 L375.15 122.73 L375.58 124.15 L376.02 125.46 L376.45 126.66 L376.88 127.76 L377.32 128.77 L377.75 129.68 L378.18 130.52 L378.62 131.27 L379.05 131.96 L379.48 132.59 L379.92 133.15 L380.35 133.66 L380.79 134.13 L381.22 134.54 L381.65 134.92 L382.09 135.26 L382.52 135.57 L382.95 135.84 L383.39 136.09 L383.82 136.32 L384.25 136.52 L384.69 136.7 L385.12 136.86 L385.55 137.01 L385.99 137.14 L386.42 137.26 L386.85 137.37 L387.29 137.46 L387.72 137.55 L388.15 137.63 L388.59 137.69 L389.02 137.76 L389.45 137.81 L389.89 137.86 L390.32 137.91 L390.75 137.95 L391.19 137.98 L391.62 138.02 L392.05 138.05 L392.49 138.07 L392.92 138.1 L393.36 138.12 L393.79 138.14 L394.22 138.15 L394.66 138.17 L395.09 138.18 L395.52 138.19 L395.96 138.2 L396.39 138.21 L396.82 138.22 L397.26 138.23 L397.69 138.24 L398.12 138.24 L398.56 138.25 L398.99 138.26 L399.42 138.26 L399.86 138.26 L400.29 138.27 L400.72 138.27 L401.16 138.27 L401.59 138.28 L402.02 138.28 L402.46 138.28 L402.89 138.28 L403.32 138.29 L403.76 138.29 L404.19 138.29 L404.62 138.29 L405.06 138.29 L405.49 138.29 L405.93 138.29 L406.36 138.29 L406.79 138.29 L407.23 138.29 L407.66 138.29 L408.09 138.3 L408.53 138.3 L408.96 138.3 L409.39 138.3 L409.83 138.3 L410.26 138.3 L410.69 138.3 L411.13 138.3 L411.56 138.3 L411.99 138.3 L412.43 138.3 L412.86 138.3 L413.29 138.3 L413.73 138.3 L414.16 138.3 L414.59 138.3 L415.03 138.3 L415.46 138.3 L415.89 138.3 L416.33 138.3 L416.76 138.3 L417.19 138.3 L417.63 138.3 L418.06 138.3 L418.5 138.3 L418.93 138.3 L419.36 138.3 L419.8 138.3 L420.23 138.3 L420.66 138.3 L421.1 138.3 L421.53 138.3 L421.96 138.3 L422.4 138.3 L422.83 138.3 L423.26 138.3 L423.7 138.3 L424.13 138.3 L424.56 138.3 L425 138.3 L425.43 138.3 L425.86 138.3 L426.3 138.3 L426.73 138.3 L427.16 138.3 L427.6 138.3 L428.03 138.3 L428.46 138.3 L428.9 138.3 L429.33 138.3 L429.76 138.3 L430.2 138.3 L430.63 138.3 L431.07 138.3 L431.5 138.3 L431.93 138.3 L432.37 138.3 L432.8 138.3 L433.23 138.3 L433.67 138.3 L434.1 138.3 L434.53 138.3 L434.97 138.3 L435.4 138.3 L435.83 138.3 L436.27 138.3 L436.7 138.3 L437.13 138.3 L437.57 138.3 L438 138.3 L438.43 138.3 L438.87 138.3 L439.3 138.3 L439.73 138.3 L440.17 138.3 L440.6 138.3 L441.03 138.3 L441.47 138.3 L441.9 138.3 L442.33 138.3 L442.77 138.3 L443.2 138.3 L443.64 138.3 L444.07 138.3 L444.5 138.3 L444.94 138.3 L445.37 138.3 L445.8 138.3 L446.24 138.3 L446.67 138.3 L447.1 138.3 L447.54 138.3 L447.97 138.3 L448.4 138.3 L448.84 138.3 L449.27 138.3 L449.7 138.3 L450.14 138.3 L450.57 138.3 L451 138.3" fill="none" stroke="#9b52c2" stroke-width="1.3"/>
<rect x="301.9" y="14.7" width="4.6" height="4.6" fill="#e8b548" stroke="none" stroke-width="1"/>
<rect x="372.9" y="22" width="4.6" height="4.6" fill="#e8b548" stroke="none" stroke-width="1"/>
<rect x="388" y="25.9" width="4.6" height="4.6" fill="#e8b548" stroke="none" stroke-width="1"/>
<rect x="403.2" y="44.4" width="4.6" height="4.6" fill="#e8b548" stroke="none" stroke-width="1"/>
<rect x="418.4" y="84.8" width="4.6" height="4.6" fill="#e8b548" stroke="none" stroke-width="1"/>
<rect x="433.8" y="105.5" width="4.6" height="4.6" fill="#e8b548" stroke="none" stroke-width="1"/>
<rect x="449.1" y="112.9" width="4.6" height="4.6" fill="#e8b548" stroke="none" stroke-width="1"/>
<line x1="420.7" y1="81" x2="420.7" y2="93" stroke="#e8b548" stroke-width="1.1"/>
<line x1="418.1" y1="81" x2="423.3" y2="81" stroke="#e8b548" stroke-width="1.1"/>
<line x1="418.1" y1="93" x2="423.3" y2="93" stroke="#e8b548" stroke-width="1.1"/>
<line x1="436.1" y1="101" x2="436.1" y2="114" stroke="#e8b548" stroke-width="1.1"/>
<line x1="433.5" y1="101" x2="438.7" y2="101" stroke="#e8b548" stroke-width="1.1"/>
<line x1="433.5" y1="114" x2="438.7" y2="114" stroke="#e8b548" stroke-width="1.1"/>
<line x1="451.4" y1="110" x2="451.4" y2="120" stroke="#e8b548" stroke-width="1.1"/>
<line x1="448.8" y1="110" x2="454" y2="110" stroke="#e8b548" stroke-width="1.1"/>
<line x1="448.8" y1="120" x2="454" y2="120" stroke="#e8b548" stroke-width="1.1"/>
<rect x="301.9" y="12.7" width="4.6" height="4.6" fill="#d6416f" stroke="none" stroke-width="1"/>
<rect x="337.1" y="12.3" width="4.6" height="4.6" fill="#d6416f" stroke="none" stroke-width="1"/>
<rect x="372.9" y="39.3" width="4.6" height="4.6" fill="#d6416f" stroke="none" stroke-width="1"/>
<rect x="388" y="94.7" width="4.6" height="4.6" fill="#d6416f" stroke="none" stroke-width="1"/>
<rect x="403.2" y="122.2" width="4.6" height="4.6" fill="#d6416f" stroke="none" stroke-width="1"/>
<rect x="418.4" y="116.9" width="4.6" height="4.6" fill="#d6416f" stroke="none" stroke-width="1"/>
<rect x="433.8" y="105.5" width="4.6" height="4.6" fill="#d6416f" stroke="none" stroke-width="1"/>
<rect x="449.1" y="105.2" width="4.6" height="4.6" fill="#d6416f" stroke="none" stroke-width="1"/>
<line x1="390.3" y1="91" x2="390.3" y2="104" stroke="#d6416f" stroke-width="1.1"/>
<line x1="387.7" y1="91" x2="392.9" y2="91" stroke="#d6416f" stroke-width="1.1"/>
<line x1="387.7" y1="104" x2="392.9" y2="104" stroke="#d6416f" stroke-width="1.1"/>
<line x1="405.5" y1="118" x2="405.5" y2="131" stroke="#d6416f" stroke-width="1.1"/>
<line x1="402.9" y1="118" x2="408.1" y2="118" stroke="#d6416f" stroke-width="1.1"/>
<line x1="402.9" y1="131" x2="408.1" y2="131" stroke="#d6416f" stroke-width="1.1"/>
<path d="M304.2 19.7 L307.2 22.7 L304.2 25.7 L301.2 22.7 Z" fill="#e0a6ee" stroke="none" stroke-width="1"/>
<path d="M339.4 15.7 L342.4 18.7 L339.4 21.7 L336.4 18.7 Z" fill="#e0a6ee" stroke="none" stroke-width="1"/>
<path d="M375.2 51.8 L378.2 54.8 L375.2 57.8 L372.2 54.8 Z" fill="#e0a6ee" stroke="none" stroke-width="1"/>
<path d="M390.3 76 L393.3 79 L390.3 82 L387.3 79 Z" fill="#e0a6ee" stroke="none" stroke-width="1"/>
<path d="M405.5 103.3 L408.5 106.3 L405.5 109.3 L402.5 106.3 Z" fill="#e0a6ee" stroke="none" stroke-width="1"/>
<path d="M420.7 118.9 L423.7 121.9 L420.7 124.9 L417.7 121.9 Z" fill="#e0a6ee" stroke="none" stroke-width="1"/>
<path d="M436.1 107 L439.1 110 L436.1 113 L433.1 110 Z" fill="#e0a6ee" stroke="none" stroke-width="1"/>
<path d="M451.4 110.7 L454.4 113.7 L451.4 116.7 L448.4 113.7 Z" fill="#e0a6ee" stroke="none" stroke-width="1"/>
<line x1="304.2" y1="19.5" x2="304.2" y2="27" stroke="#e0a6ee" stroke-width="1.1"/>
<line x1="301.6" y1="19.5" x2="306.8" y2="19.5" stroke="#e0a6ee" stroke-width="1.1"/>
<line x1="301.6" y1="27" x2="306.8" y2="27" stroke="#e0a6ee" stroke-width="1.1"/>
<line x1="339.4" y1="14" x2="339.4" y2="27" stroke="#e0a6ee" stroke-width="1.1"/>
<line x1="336.8" y1="14" x2="342" y2="14" stroke="#e0a6ee" stroke-width="1.1"/>
<line x1="336.8" y1="27" x2="342" y2="27" stroke="#e0a6ee" stroke-width="1.1"/>
<line x1="375.2" y1="47" x2="375.2" y2="63" stroke="#e0a6ee" stroke-width="1.1"/>
<line x1="372.6" y1="47" x2="377.8" y2="47" stroke="#e0a6ee" stroke-width="1.1"/>
<line x1="372.6" y1="63" x2="377.8" y2="63" stroke="#e0a6ee" stroke-width="1.1"/>
<line x1="390.3" y1="70" x2="390.3" y2="89" stroke="#e0a6ee" stroke-width="1.1"/>
<line x1="387.7" y1="70" x2="392.9" y2="70" stroke="#e0a6ee" stroke-width="1.1"/>
<line x1="387.7" y1="89" x2="392.9" y2="89" stroke="#e0a6ee" stroke-width="1.1"/>
<line x1="405.5" y1="100" x2="405.5" y2="112" stroke="#e0a6ee" stroke-width="1.1"/>
<line x1="402.9" y1="100" x2="408.1" y2="100" stroke="#e0a6ee" stroke-width="1.1"/>
<line x1="402.9" y1="112" x2="408.1" y2="112" stroke="#e0a6ee" stroke-width="1.1"/>
<circle cx="304.2" cy="29.1" r="2.6" fill="#5a55c8" stroke="none" stroke-width="1"/>
<circle cx="339.4" cy="38.7" r="2.6" fill="#5a55c8" stroke="none" stroke-width="1"/>
<circle cx="375.2" cy="81.3" r="2.6" fill="#5a55c8" stroke="none" stroke-width="1"/>
<circle cx="390.3" cy="93.8" r="2.6" fill="#5a55c8" stroke="none" stroke-width="1"/>
<circle cx="405.5" cy="110.8" r="2.6" fill="#5a55c8" stroke="none" stroke-width="1"/>
<circle cx="420.7" cy="117.4" r="2.6" fill="#5a55c8" stroke="none" stroke-width="1"/>
<circle cx="436.1" cy="124.8" r="2.6" fill="#5a55c8" stroke="none" stroke-width="1"/>
<circle cx="451.4" cy="126.3" r="2.6" fill="#5a55c8" stroke="none" stroke-width="1"/>
<line x1="304.2" y1="23.5" x2="304.2" y2="34.5" stroke="#5a55c8" stroke-width="1.1"/>
<line x1="301.6" y1="23.5" x2="306.8" y2="23.5" stroke="#5a55c8" stroke-width="1.1"/>
<line x1="301.6" y1="34.5" x2="306.8" y2="34.5" stroke="#5a55c8" stroke-width="1.1"/>
<line x1="339.4" y1="32" x2="339.4" y2="45" stroke="#5a55c8" stroke-width="1.1"/>
<line x1="336.8" y1="32" x2="342" y2="32" stroke="#5a55c8" stroke-width="1.1"/>
<line x1="336.8" y1="45" x2="342" y2="45" stroke="#5a55c8" stroke-width="1.1"/>
<line x1="375.2" y1="76.5" x2="375.2" y2="86" stroke="#5a55c8" stroke-width="1.1"/>
<line x1="372.6" y1="76.5" x2="377.8" y2="76.5" stroke="#5a55c8" stroke-width="1.1"/>
<line x1="372.6" y1="86" x2="377.8" y2="86" stroke="#5a55c8" stroke-width="1.1"/>
<line x1="405.5" y1="101" x2="405.5" y2="119" stroke="#5a55c8" stroke-width="1.1"/>
<line x1="402.9" y1="101" x2="408.1" y2="101" stroke="#5a55c8" stroke-width="1.1"/>
<line x1="402.9" y1="119" x2="408.1" y2="119" stroke="#5a55c8" stroke-width="1.1"/>
<line x1="420.7" y1="101" x2="420.7" y2="132" stroke="#5a55c8" stroke-width="1.1"/>
<line x1="418.1" y1="101" x2="423.3" y2="101" stroke="#5a55c8" stroke-width="1.1"/>
<line x1="418.1" y1="132" x2="423.3" y2="132" stroke="#5a55c8" stroke-width="1.1"/>
<line x1="436.1" y1="119" x2="436.1" y2="131" stroke="#5a55c8" stroke-width="1.1"/>
<line x1="433.5" y1="119" x2="438.7" y2="119" stroke="#5a55c8" stroke-width="1.1"/>
<line x1="433.5" y1="131" x2="438.7" y2="131" stroke="#5a55c8" stroke-width="1.1"/>
<circle cx="304.2" cy="16.6" r="2.6" fill="#9b52c2" stroke="none" stroke-width="1"/>
<circle cx="339.4" cy="15" r="2.6" fill="#9b52c2" stroke="none" stroke-width="1"/>
<circle cx="375.2" cy="120.3" r="2.6" fill="#9b52c2" stroke="none" stroke-width="1"/>
<circle cx="390.3" cy="138.3" r="2.6" fill="#9b52c2" stroke="none" stroke-width="1"/>
<circle cx="405.5" cy="138.3" r="2.6" fill="#9b52c2" stroke="none" stroke-width="1"/>
<circle cx="420.7" cy="138.3" r="2.6" fill="#9b52c2" stroke="none" stroke-width="1"/>
<circle cx="436.1" cy="137.1" r="2.6" fill="#9b52c2" stroke="none" stroke-width="1"/>
<circle cx="451.4" cy="133.7" r="2.6" fill="#9b52c2" stroke="none" stroke-width="1"/>
<line x1="375.2" y1="116" x2="375.2" y2="124.5" stroke="#9b52c2" stroke-width="1.1"/>
<line x1="372.6" y1="116" x2="377.8" y2="116" stroke="#9b52c2" stroke-width="1.1"/>
<line x1="372.6" y1="124.5" x2="377.8" y2="124.5" stroke="#9b52c2" stroke-width="1.1"/>
<line x1="228" y1="181.2" x2="248.5" y2="181.2" stroke="#e0a6ee" stroke-width="1.8"/>
<path d="M238.2 177.6 L241.8 181.2 L238.2 184.8 L234.6 181.2 Z" fill="#e0a6ee" stroke="none" stroke-width="1"/>
<text x="250.2" y="183.9" font-size="7.15" text-anchor="start" fill="#333" stroke="#333" stroke-width="0.22">DIPGXIII KO (IC50 12.8µM)</text>
<line x1="228" y1="194.2" x2="248.5" y2="194.2" stroke="#5a55c8" stroke-width="1.8"/>
<circle cx="238.2" cy="194.2" r="3.3" fill="#5a55c8" stroke="none" stroke-width="1"/>
<text x="250.2" y="196.9" font-size="7.15" text-anchor="start" fill="#333" stroke="#333" stroke-width="0.22">SU-DIPGXVII (IC50 7.1µM)</text>
<line x1="228" y1="207.2" x2="248.5" y2="207.2" stroke="#9b52c2" stroke-width="1.8"/>
<circle cx="238.2" cy="207.2" r="3.3" fill="#9b52c2" stroke="none" stroke-width="1"/>
<text x="250.2" y="209.9" font-size="7.15" text-anchor="start" fill="#333" stroke="#333" stroke-width="0.22">SU-DIPGXIII K27M (IC50 5.6µM)</text>
<line x1="363.5" y1="181.2" x2="384" y2="181.2" stroke="#e8b548" stroke-width="1.8"/>
<rect x="370.6" y="178.1" width="6.2" height="6.2" fill="#e8b548" stroke="none" stroke-width="1"/>
<text x="387" y="183.9" font-size="7.15" text-anchor="start" fill="#333" stroke="#333" stroke-width="0.22">P000302  (IC50 57µM)</text>
<line x1="363.5" y1="194.2" x2="384" y2="194.2" stroke="#d6416f" stroke-width="1.8"/>
<rect x="370.6" y="191.1" width="6.2" height="6.2" fill="#d6416f" stroke="none" stroke-width="1"/>
<text x="387" y="196.9" font-size="7.15" text-anchor="start" fill="#333" stroke="#333" stroke-width="0.22">HSJD-DIPG007 (IC50 15.4µM)</text>
<text x="483.5" y="13.7" font-size="17.5" font-weight="bold" text-anchor="start" fill="#000">C</text>
<text x="558.7" y="12.6" font-size="9.5" font-weight="bold" text-anchor="middle" fill="#1a1a1a">SU-DIPGXIII</text>
<text x="635.9" y="12.6" font-size="9.5" font-weight="bold" text-anchor="middle" fill="#1a1a1a">SU-DIPGXVII</text>
<text x="526" y="46.8" font-size="10.2" font-weight="bold" text-anchor="middle" fill="#1a1a1a" transform="rotate(-90 526 46.8)">0µM</text>
<text x="525.8" y="113" font-size="10.2" font-weight="bold" text-anchor="middle" fill="#1a1a1a" transform="rotate(-90 525.8 113)">2µM</text>
<text x="527.5" y="181.6" font-size="10.2" font-weight="bold" text-anchor="middle" fill="#1a1a1a" transform="rotate(-90 527.5 181.6)">4µM</text>
<text x="509.3" y="112.5" font-size="9.6" text-anchor="middle" fill="#333" stroke="#333" stroke-width="0.22" transform="rotate(-90 509.3 112.5)">FB23-2</text>
<defs><radialGradient id="pgr" cx="45%" cy="45%" r="60%"><stop offset="0" stop-color="#e8e8e8"/><stop offset="0.8" stop-color="#e2e2e2"/><stop offset="1" stop-color="#d6d6d6"/></radialGradient></defs>
<circle cx="559.9" cy="48" r="28.3" fill="url(#pgr)" stroke="none" stroke-width="1"/>
<g fill="#2a2a2a"><circle cx="541.24" cy="53.76" r="0.58" fill-opacity="0.48"/><circle cx="539.92" cy="47.01" r="0.36" fill-opacity="0.51"/><circle cx="543.98" cy="31.07" r="0.33" fill-opacity="0.40"/><circle cx="579.68" cy="60.67" r="0.51" fill-opacity="0.27"/><circle cx="585.38" cy="45.14" r="0.5" fill-opacity="0.56"/><circle cx="561.66" cy="50.67" r="0.46" fill-opacity="0.28"/><circle cx="564.61" cy="59.94" r="0.31" fill-opacity="0.48"/><circle cx="537.6" cy="56.74" r="0.46" fill-opacity="0.57"/><circle cx="538.66" cy="48.03" r="0.44" fill-opacity="0.39"/><circle cx="585.94" cy="47.62" r="0.55" fill-opacity="0.60"/><circle cx="554.91" cy="59.47" r="0.39" fill-opacity="0.29"/><circle cx="561.59" cy="31.57" r="0.55" fill-opacity="0.44"/><circle cx="583.09" cy="41.74" r="0.3" fill-opacity="0.35"/><circle cx="575.02" cy="38.44" r="0.59" fill-opacity="0.45"/><circle cx="578.46" cy="57.17" r="0.53" fill-opacity="0.38"/><circle cx="572.75" cy="55.84" r="0.59" fill-opacity="0.63"/><circle cx="569.46" cy="56.75" r="0.33" fill-opacity="0.28"/><circle cx="563.1" cy="37.48" r="0.47" fill-opacity="0.47"/><circle cx="568.03" cy="68.8" r="0.34" fill-opacity="0.57"/><circle cx="572.49" cy="59.32" r="0.36" fill-opacity="0.38"/><circle cx="582.91" cy="43.75" r="0.39" fill-opacity="0.69"/><circle cx="563.9" cy="63.89" r="0.56" fill-opacity="0.57"/><circle cx="580.87" cy="63.3" r="0.36" fill-opacity="0.38"/><circle cx="562.03" cy="33.18" r="0.39" fill-opacity="0.29"/><circle cx="576.71" cy="58.69" r="0.37" fill-opacity="0.55"/><circle cx="547.74" cy="60.68" r="0.59" fill-opacity="0.49"/><circle cx="538.22" cy="37.03" r="0.35" fill-opacity="0.33"/><circle cx="579.7" cy="35.16" r="0.37" fill-opacity="0.34"/><circle cx="558.22" cy="22.75" r="0.36" fill-opacity="0.73"/><circle cx="574.87" cy="34.32" r="0.43" fill-opacity="0.30"/><circle cx="584.76" cy="54.17" r="0.37" fill-opacity="0.60"/><circle cx="558.86" cy="71.67" r="0.48" fill-opacity="0.40"/><circle cx="569.9" cy="67.76" r="0.32" fill-opacity="0.36"/><circle cx="537.46" cy="39.22" r="0.48" fill-opacity="0.39"/><circle cx="570.13" cy="42.15" r="0.3" fill-opacity="0.38"/><circle cx="553.85" cy="50.15" r="0.35" fill-opacity="0.43"/><circle cx="551.39" cy="43.85" r="0.41" fill-opacity="0.70"/><circle cx="580.9" cy="45.41" r="0.51" fill-opacity="0.54"/><circle cx="563.01" cy="51.77" r="0.31" fill-opacity="0.71"/><circle cx="552.13" cy="23.6" r="0.31" fill-opacity="0.57"/><circle cx="537.73" cy="50.48" r="0.4" fill-opacity="0.75"/><circle cx="577.07" cy="56.78" r="0.52" fill-opacity="0.70"/><circle cx="558.13" cy="26.18" r="0.54" fill-opacity="0.71"/><circle cx="547" cy="65.33" r="0.57" fill-opacity="0.69"/><circle cx="539.77" cy="59.54" r="0.56" fill-opacity="0.54"/><circle cx="548.49" cy="36.59" r="0.47" fill-opacity="0.55"/><circle cx="578.18" cy="58.08" r="0.6" fill-opacity="0.69"/><circle cx="557.68" cy="31.89" r="0.52" fill-opacity="0.54"/><circle cx="537.65" cy="56.72" r="0.33" fill-opacity="0.63"/><circle cx="579.79" cy="51.77" r="0.44" fill-opacity="0.37"/><circle cx="554.03" cy="30.56" r="0.48" fill-opacity="0.71"/><circle cx="559.8" cy="50.77" r="0.39" fill-opacity="0.59"/><circle cx="563.06" cy="58.28" r="0.57" fill-opacity="0.58"/><circle cx="536.88" cy="56.79" r="0.4" fill-opacity="0.58"/><circle cx="565.35" cy="64.24" r="0.54" fill-opacity="0.71"/><circle cx="571.72" cy="36.94" r="0.47" fill-opacity="0.41"/><circle cx="571.96" cy="61.88" r="0.55" fill-opacity="0.67"/><circle cx="553.76" cy="23.31" r="0.38" fill-opacity="0.33"/><circle cx="546.86" cy="52.18" r="0.36" fill-opacity="0.46"/><circle cx="546.99" cy="34.97" r="0.39" fill-opacity="0.67"/><circle cx="577.34" cy="46.02" r="0.32" fill-opacity="0.27"/><circle cx="563.61" cy="44.19" r="0.51" fill-opacity="0.54"/><circle cx="551.48" cy="69.64" r="0.31" fill-opacity="0.32"/><circle cx="555.96" cy="49.15" r="0.55" fill-opacity="0.37"/><circle cx="563.48" cy="52.38" r="0.49" fill-opacity="0.47"/><circle cx="545.44" cy="32.6" r="0.54" fill-opacity="0.73"/><circle cx="555.24" cy="37.32" r="0.44" fill-opacity="0.34"/><circle cx="577.79" cy="49.21" r="0.51" fill-opacity="0.34"/><circle cx="557.75" cy="63.2" r="0.51" fill-opacity="0.51"/><circle cx="542.82" cy="33.05" r="0.42" fill-opacity="0.65"/><circle cx="566.31" cy="43.72" r="0.58" fill-opacity="0.61"/><circle cx="571.94" cy="60.81" r="0.49" fill-opacity="0.70"/><circle cx="545.82" cy="61.76" r="0.56" fill-opacity="0.65"/><circle cx="576.59" cy="41.9" r="0.5" fill-opacity="0.35"/><circle cx="555.76" cy="24.76" r="0.49" fill-opacity="0.61"/><circle cx="565.56" cy="72.1" r="0.59" fill-opacity="0.74"/><circle cx="537.31" cy="42.66" r="0.4" fill-opacity="0.70"/><circle cx="569.4" cy="35.87" r="0.32" fill-opacity="0.47"/><circle cx="538.16" cy="40.89" r="0.45" fill-opacity="0.26"/><circle cx="562.3" cy="41.85" r="0.54" fill-opacity="0.34"/><circle cx="548.11" cy="67.94" r="0.34" fill-opacity="0.32"/><circle cx="537.82" cy="45.7" r="0.55" fill-opacity="0.59"/><circle cx="577.16" cy="41.88" r="0.58" fill-opacity="0.29"/><circle cx="563.28" cy="66.64" r="0.39" fill-opacity="0.61"/><circle cx="547.77" cy="33.55" r="0.55" fill-opacity="0.53"/><circle cx="553.81" cy="62.92" r="0.55" fill-opacity="0.70"/><circle cx="566.14" cy="71.25" r="0.59" fill-opacity="0.51"/><circle cx="549.41" cy="42.82" r="0.46" fill-opacity="0.50"/><circle cx="556.47" cy="45.33" r="0.59" fill-opacity="0.51"/><circle cx="540.95" cy="61.66" r="0.47" fill-opacity="0.50"/><circle cx="557.47" cy="41.76" r="0.46" fill-opacity="0.46"/><circle cx="584.07" cy="41.29" r="0.38" fill-opacity="0.49"/><circle cx="571.9" cy="60.3" r="0.54" fill-opacity="0.70"/><circle cx="545.36" cy="50.16" r="0.36" fill-opacity="0.56"/><circle cx="568.27" cy="43.75" r="0.53" fill-opacity="0.26"/><circle cx="564.18" cy="59.68" r="0.51" fill-opacity="0.41"/><circle cx="547.27" cy="64.21" r="0.33" fill-opacity="0.62"/><circle cx="573.27" cy="61" r="0.38" fill-opacity="0.35"/><circle cx="542.96" cy="44.73" r="0.41" fill-opacity="0.46"/><circle cx="549.65" cy="46.09" r="0.36" fill-opacity="0.57"/><circle cx="547.65" cy="33.48" r="0.56" fill-opacity="0.56"/><circle cx="567.73" cy="38.14" r="0.52" fill-opacity="0.66"/><circle cx="571.91" cy="39.58" r="0.39" fill-opacity="0.71"/><circle cx="565.08" cy="73.56" r="0.57" fill-opacity="0.32"/><circle cx="561.39" cy="70.2" r="0.38" fill-opacity="0.30"/><circle cx="568.27" cy="33.26" r="0.54" fill-opacity="0.31"/><circle cx="542.2" cy="60.39" r="0.31" fill-opacity="0.35"/><circle cx="549.63" cy="25.3" r="0.59" fill-opacity="0.31"/><circle cx="537.19" cy="47.19" r="0.45" fill-opacity="0.59"/><circle cx="562.49" cy="54.43" r="0.33" fill-opacity="0.27"/><circle cx="542.15" cy="42.03" r="0.47" fill-opacity="0.32"/><circle cx="564.61" cy="58.8" r="0.55" fill-opacity="0.75"/><circle cx="567.12" cy="44.43" r="0.32" fill-opacity="0.73"/><circle cx="537.72" cy="53.39" r="0.4" fill-opacity="0.48"/><circle cx="542.86" cy="46.36" r="0.48" fill-opacity="0.26"/><circle cx="552.64" cy="25.14" r="0.35" fill-opacity="0.48"/><circle cx="558.79" cy="31.42" r="0.36" fill-opacity="0.33"/><circle cx="556.67" cy="47.74" r="0.57" fill-opacity="0.65"/><circle cx="553.1" cy="24.76" r="0.49" fill-opacity="0.45"/><circle cx="544.88" cy="37.14" r="0.59" fill-opacity="0.65"/><circle cx="558.61" cy="72.88" r="0.52" fill-opacity="0.64"/><circle cx="566.47" cy="32.73" r="0.57" fill-opacity="0.69"/><circle cx="552.13" cy="26.5" r="0.53" fill-opacity="0.45"/><circle cx="558.71" cy="41.17" r="0.4" fill-opacity="0.48"/><circle cx="575.43" cy="49.04" r="0.49" fill-opacity="0.56"/><circle cx="562.75" cy="73.21" r="0.5" fill-opacity="0.42"/><circle cx="549.32" cy="31.38" r="0.46" fill-opacity="0.44"/><circle cx="580.82" cy="47.99" r="0.51" fill-opacity="0.63"/><circle cx="563.81" cy="47.51" r="0.48" fill-opacity="0.62"/><circle cx="559.21" cy="64.52" r="0.32" fill-opacity="0.35"/><circle cx="554.08" cy="53.77" r="0.38" fill-opacity="0.70"/><circle cx="542.21" cy="42.25" r="0.59" fill-opacity="0.53"/><circle cx="580.74" cy="47.36" r="0.54" fill-opacity="0.29"/><circle cx="541.3" cy="34.92" r="0.31" fill-opacity="0.72"/><circle cx="569.51" cy="63.13" r="0.35" fill-opacity="0.50"/><circle cx="555.06" cy="43.94" r="0.58" fill-opacity="0.46"/><circle cx="540" cy="44.62" r="0.41" fill-opacity="0.39"/><circle cx="548.93" cy="31.83" r="0.39" fill-opacity="0.61"/><circle cx="559.02" cy="50.96" r="0.37" fill-opacity="0.27"/><circle cx="572.46" cy="66.88" r="0.42" fill-opacity="0.70"/><circle cx="559.84" cy="42.15" r="0.6" fill-opacity="0.72"/><circle cx="582.13" cy="59.07" r="0.43" fill-opacity="0.49"/><circle cx="572.6" cy="45.84" r="0.46" fill-opacity="0.72"/><circle cx="556.86" cy="30.4" r="0.59" fill-opacity="0.66"/><circle cx="552.86" cy="42.63" r="0.49" fill-opacity="0.48"/><circle cx="561.61" cy="53.7" r="0.46" fill-opacity="0.31"/><circle cx="539.93" cy="55.49" r="0.44" fill-opacity="0.38"/><circle cx="545.2" cy="39.65" r="0.53" fill-opacity="0.52"/><circle cx="585.37" cy="47.62" r="0.52" fill-opacity="0.37"/><circle cx="578.51" cy="64.18" r="0.54" fill-opacity="0.56"/><circle cx="551.28" cy="58.52" r="0.51" fill-opacity="0.53"/><circle cx="542.48" cy="36.69" r="0.53" fill-opacity="0.34"/><circle cx="560.07" cy="73.83" r="0.57" fill-opacity="0.69"/><circle cx="566.14" cy="49.58" r="0.38" fill-opacity="0.46"/><circle cx="553.93" cy="42.15" r="0.46" fill-opacity="0.29"/><circle cx="578.27" cy="59.09" r="0.47" fill-opacity="0.57"/><circle cx="547.28" cy="60.91" r="0.36" fill-opacity="0.42"/><circle cx="559.12" cy="24.11" r="0.32" fill-opacity="0.31"/><circle cx="567.39" cy="28.8" r="0.53" fill-opacity="0.36"/><circle cx="548.11" cy="54.07" r="0.54" fill-opacity="0.43"/><circle cx="545.13" cy="26.65" r="0.4" fill-opacity="0.52"/><circle cx="559.29" cy="22.96" r="0.43" fill-opacity="0.43"/><circle cx="579.92" cy="61.98" r="0.32" fill-opacity="0.29"/><circle cx="543.19" cy="40.86" r="0.51" fill-opacity="0.40"/><circle cx="561.05" cy="40.89" r="0.36" fill-opacity="0.58"/><circle cx="572.43" cy="55.07" r="0.52" fill-opacity="0.60"/><circle cx="557.87" cy="57.66" r="0.41" fill-opacity="0.61"/><circle cx="553.93" cy="54.66" r="0.51" fill-opacity="0.53"/><circle cx="581.96" cy="35.61" r="0.57" fill-opacity="0.47"/><circle cx="564.61" cy="34.38" r="0.4" fill-opacity="0.45"/><circle cx="582.54" cy="38.15" r="0.37" fill-opacity="0.43"/><circle cx="549.45" cy="59.76" r="0.42" fill-opacity="0.44"/><circle cx="566.54" cy="66.44" r="0.54" fill-opacity="0.52"/><circle cx="570.01" cy="31.23" r="0.35" fill-opacity="0.63"/><circle cx="570.05" cy="38.58" r="0.31" fill-opacity="0.51"/><circle cx="540.99" cy="42.62" r="0.59" fill-opacity="0.58"/><circle cx="562.11" cy="41.78" r="0.46" fill-opacity="0.64"/><circle cx="566.34" cy="51.76" r="0.52" fill-opacity="0.70"/><circle cx="577.81" cy="58.55" r="0.34" fill-opacity="0.62"/><circle cx="552.23" cy="37.59" r="0.37" fill-opacity="0.63"/><circle cx="537.29" cy="44.92" r="0.42" fill-opacity="0.42"/><circle cx="580.88" cy="43.76" r="0.45" fill-opacity="0.52"/><circle cx="555.91" cy="26.4" r="0.57" fill-opacity="0.46"/><circle cx="569.72" cy="29.09" r="0.56" fill-opacity="0.65"/><circle cx="572.27" cy="26.73" r="0.59" fill-opacity="0.57"/><circle cx="538.15" cy="44.72" r="0.54" fill-opacity="0.46"/><circle cx="551.14" cy="52.78" r="0.52" fill-opacity="0.75"/><circle cx="552.32" cy="55.53" r="0.36" fill-opacity="0.46"/><circle cx="553.19" cy="72.81" r="0.32" fill-opacity="0.40"/><circle cx="575.68" cy="61.88" r="0.53" fill-opacity="0.34"/><circle cx="576.24" cy="54.75" r="0.48" fill-opacity="0.70"/><circle cx="568.28" cy="49.95" r="0.36" fill-opacity="0.36"/><circle cx="561.92" cy="70.01" r="0.48" fill-opacity="0.36"/><circle cx="565.4" cy="60.7" r="0.35" fill-opacity="0.63"/><circle cx="552.59" cy="65.89" r="0.55" fill-opacity="0.49"/><circle cx="558.28" cy="72.53" r="0.57" fill-opacity="0.42"/><circle cx="535.49" cy="40.52" r="0.44" fill-opacity="0.36"/><circle cx="584.08" cy="55.81" r="0.54" fill-opacity="0.44"/><circle cx="541.44" cy="44.77" r="0.38" fill-opacity="0.75"/><circle cx="552.92" cy="37.36" r="0.3" fill-opacity="0.49"/><circle cx="543.79" cy="64.83" r="0.51" fill-opacity="0.55"/><circle cx="565.59" cy="56.63" r="0.4" fill-opacity="0.38"/><circle cx="572.67" cy="34.27" r="0.49" fill-opacity="0.75"/><circle cx="557.92" cy="66.98" r="0.35" fill-opacity="0.64"/><circle cx="583.55" cy="48.2" r="0.55" fill-opacity="0.66"/><circle cx="571.68" cy="54.71" r="0.51" fill-opacity="0.30"/><circle cx="542.17" cy="50.23" r="0.59" fill-opacity="0.54"/><circle cx="568.88" cy="36.77" r="0.54" fill-opacity="0.46"/><circle cx="566.72" cy="44.07" r="0.55" fill-opacity="0.35"/><circle cx="541.67" cy="42.91" r="0.35" fill-opacity="0.67"/><circle cx="554.42" cy="61.48" r="0.32" fill-opacity="0.40"/><circle cx="538.29" cy="52.51" r="0.41" fill-opacity="0.59"/><circle cx="572.8" cy="58.11" r="0.44" fill-opacity="0.73"/><circle cx="570.04" cy="29.49" r="0.3" fill-opacity="0.44"/><circle cx="556.74" cy="35.68" r="0.47" fill-opacity="0.48"/><circle cx="585.83" cy="49.71" r="0.54" fill-opacity="0.35"/><circle cx="549.41" cy="38.63" r="0.41" fill-opacity="0.52"/><circle cx="555.38" cy="62.47" r="0.42" fill-opacity="0.58"/><circle cx="559.43" cy="59.66" r="0.52" fill-opacity="0.41"/><circle cx="578.32" cy="41.37" r="0.52" fill-opacity="0.42"/><circle cx="563.58" cy="40.98" r="0.34" fill-opacity="0.30"/><circle cx="550.26" cy="28.26" r="0.35" fill-opacity="0.45"/><circle cx="570.34" cy="30.83" r="0.33" fill-opacity="0.36"/><circle cx="564.97" cy="55.67" r="0.42" fill-opacity="0.29"/><circle cx="574.88" cy="39.84" r="0.45" fill-opacity="0.57"/><circle cx="562.4" cy="24.48" r="0.42" fill-opacity="0.42"/><circle cx="557.14" cy="49.7" r="0.42" fill-opacity="0.60"/><circle cx="582.94" cy="45.38" r="0.5" fill-opacity="0.55"/><circle cx="574.81" cy="49.75" r="0.4" fill-opacity="0.58"/><circle cx="572.49" cy="57.93" r="0.45" fill-opacity="0.64"/><circle cx="569.19" cy="29.83" r="0.35" fill-opacity="0.63"/><circle cx="575.75" cy="36.94" r="0.41" fill-opacity="0.50"/><circle cx="573.76" cy="65.14" r="0.6" fill-opacity="0.51"/><circle cx="554.75" cy="24.7" r="0.36" fill-opacity="0.72"/><circle cx="551.8" cy="39.68" r="0.32" fill-opacity="0.37"/><circle cx="540.58" cy="37.93" r="0.4" fill-opacity="0.71"/><circle cx="548.48" cy="61.6" r="0.34" fill-opacity="0.74"/><circle cx="576.24" cy="66.68" r="0.46" fill-opacity="0.53"/><circle cx="547.43" cy="43.03" r="0.57" fill-opacity="0.75"/><circle cx="568.23" cy="29.55" r="0.34" fill-opacity="0.66"/><circle cx="553.97" cy="72" r="0.37" fill-opacity="0.54"/><circle cx="565.36" cy="38.17" r="0.46" fill-opacity="0.29"/><circle cx="570.75" cy="50.21" r="0.6" fill-opacity="0.72"/><circle cx="552.02" cy="35.86" r="0.5" fill-opacity="0.62"/><circle cx="545.12" cy="61.59" r="0.54" fill-opacity="0.26"/><circle cx="565.47" cy="64.97" r="0.34" fill-opacity="0.44"/><circle cx="550.04" cy="43.4" r="0.46" fill-opacity="0.38"/><circle cx="546.21" cy="41.76" r="0.49" fill-opacity="0.27"/><circle cx="555.17" cy="39.27" r="0.59" fill-opacity="0.55"/><circle cx="543.46" cy="51.15" r="0.49" fill-opacity="0.59"/><circle cx="561.04" cy="25.4" r="0.45" fill-opacity="0.75"/><circle cx="572.61" cy="27.48" r="0.42" fill-opacity="0.47"/><circle cx="537.17" cy="38" r="0.46" fill-opacity="0.51"/><circle cx="537.3" cy="58.25" r="0.4" fill-opacity="0.28"/><circle cx="556.12" cy="23.53" r="0.52" fill-opacity="0.55"/><circle cx="560.07" cy="33.59" r="0.48" fill-opacity="0.28"/><circle cx="572.28" cy="60.3" r="0.45" fill-opacity="0.45"/><circle cx="580.51" cy="54.98" r="0.46" fill-opacity="0.37"/><circle cx="554.21" cy="63.4" r="0.37" fill-opacity="0.28"/><circle cx="581.68" cy="34.43" r="0.5" fill-opacity="0.68"/><circle cx="539.28" cy="59.1" r="0.37" fill-opacity="0.62"/><circle cx="537.25" cy="37.89" r="0.33" fill-opacity="0.65"/><circle cx="573.53" cy="61.43" r="0.59" fill-opacity="0.25"/><circle cx="560.44" cy="62.27" r="0.4" fill-opacity="0.28"/><circle cx="578.53" cy="33.57" r="0.42" fill-opacity="0.43"/><circle cx="555.1" cy="45.14" r="0.31" fill-opacity="0.70"/><circle cx="553.35" cy="65.22" r="0.58" fill-opacity="0.74"/><circle cx="548.21" cy="50.03" r="0.39" fill-opacity="0.71"/><circle cx="569.1" cy="41.03" r="0.55" fill-opacity="0.43"/><circle cx="549.24" cy="49.86" r="0.56" fill-opacity="0.75"/><circle cx="566.06" cy="67.82" r="0.36" fill-opacity="0.69"/><circle cx="567.99" cy="50.63" r="0.52" fill-opacity="0.41"/><circle cx="579.62" cy="33.73" r="0.51" fill-opacity="0.32"/><circle cx="551.48" cy="24.17" r="0.43" fill-opacity="0.29"/><circle cx="562.32" cy="62.26" r="0.51" fill-opacity="0.35"/><circle cx="565.22" cy="59.49" r="0.5" fill-opacity="0.65"/><circle cx="545.12" cy="63.25" r="0.57" fill-opacity="0.54"/><circle cx="561.78" cy="62.19" r="0.58" fill-opacity="0.58"/><circle cx="556.4" cy="68.58" r="0.33" fill-opacity="0.74"/><circle cx="542.25" cy="54.95" r="0.46" fill-opacity="0.27"/><circle cx="548.62" cy="39.84" r="0.38" fill-opacity="0.65"/><circle cx="571.8" cy="55.26" r="0.53" fill-opacity="0.37"/><circle cx="556.39" cy="67" r="0.36" fill-opacity="0.70"/><circle cx="564.67" cy="47.63" r="0.44" fill-opacity="0.63"/><circle cx="541.06" cy="64.67" r="0.45" fill-opacity="0.34"/><circle cx="540.22" cy="40.78" r="0.41" fill-opacity="0.58"/><circle cx="563.76" cy="29.64" r="0.45" fill-opacity="0.67"/><circle cx="552.34" cy="30.75" r="0.59" fill-opacity="0.34"/><circle cx="561.87" cy="37.58" r="0.48" fill-opacity="0.37"/><circle cx="538.54" cy="56.39" r="0.54" fill-opacity="0.65"/><circle cx="561.51" cy="66.18" r="0.37" fill-opacity="0.54"/><circle cx="554.99" cy="48.03" r="0.48" fill-opacity="0.61"/><circle cx="538.01" cy="37.25" r="0.35" fill-opacity="0.33"/><circle cx="578.17" cy="50.05" r="0.43" fill-opacity="0.47"/><circle cx="558.01" cy="71.25" r="0.32" fill-opacity="0.70"/><circle cx="542.44" cy="39.93" r="0.54" fill-opacity="0.37"/><circle cx="568.73" cy="59.57" r="0.31" fill-opacity="0.41"/><circle cx="546.21" cy="34.95" r="0.38" fill-opacity="0.54"/><circle cx="579.98" cy="60.48" r="0.35" fill-opacity="0.38"/><circle cx="571.54" cy="66.3" r="0.55" fill-opacity="0.64"/><circle cx="575.41" cy="54.27" r="0.41" fill-opacity="0.36"/><circle cx="565.16" cy="47.01" r="0.45" fill-opacity="0.63"/><circle cx="569.79" cy="47.14" r="0.44" fill-opacity="0.62"/><circle cx="572.32" cy="51.12" r="0.57" fill-opacity="0.32"/><circle cx="548.76" cy="56.88" r="0.43" fill-opacity="0.29"/><circle cx="585.35" cy="53.57" r="0.53" fill-opacity="0.62"/><circle cx="561.56" cy="61.03" r="0.47" fill-opacity="0.37"/><circle cx="535.43" cy="54.03" r="0.41" fill-opacity="0.42"/><circle cx="580.16" cy="45.6" r="0.31" fill-opacity="0.45"/><circle cx="556.18" cy="42.9" r="0.4" fill-opacity="0.60"/><circle cx="573.11" cy="32.91" r="0.57" fill-opacity="0.48"/><circle cx="541.16" cy="62.93" r="0.41" fill-opacity="0.64"/><circle cx="563.22" cy="63.02" r="0.36" fill-opacity="0.52"/><circle cx="565.97" cy="58.1" r="0.36" fill-opacity="0.48"/><circle cx="553.62" cy="64.28" r="0.6" fill-opacity="0.59"/><circle cx="567.58" cy="39.03" r="0.41" fill-opacity="0.29"/><circle cx="554.24" cy="33.33" r="0.38" fill-opacity="0.26"/><circle cx="565.44" cy="60.17" r="0.42" fill-opacity="0.71"/><circle cx="556.97" cy="34.79" r="0.41" fill-opacity="0.33"/><circle cx="574.33" cy="41.93" r="0.53" fill-opacity="0.61"/><circle cx="563.01" cy="45.95" r="0.4" fill-opacity="0.44"/><circle cx="581.15" cy="60.24" r="0.4" fill-opacity="0.64"/><circle cx="553.83" cy="47.26" r="0.42" fill-opacity="0.37"/><circle cx="569.71" cy="50.57" r="0.48" fill-opacity="0.27"/><circle cx="553.42" cy="63.71" r="0.46" fill-opacity="0.32"/><circle cx="556.31" cy="35.17" r="0.52" fill-opacity="0.58"/><circle cx="567.01" cy="57.43" r="0.38" fill-opacity="0.61"/><circle cx="546.46" cy="57.09" r="0.56" fill-opacity="0.36"/><circle cx="555.89" cy="62.8" r="0.36" fill-opacity="0.27"/><circle cx="580.38" cy="51.18" r="0.47" fill-opacity="0.65"/><circle cx="573.98" cy="45.82" r="0.5" fill-opacity="0.71"/><circle cx="564.47" cy="69.18" r="0.5" fill-opacity="0.73"/><circle cx="568.46" cy="38.7" r="0.49" fill-opacity="0.29"/><circle cx="545.21" cy="55.17" r="0.32" fill-opacity="0.44"/><circle cx="551.22" cy="64.23" r="0.38" fill-opacity="0.33"/><circle cx="545.18" cy="58.35" r="0.35" fill-opacity="0.58"/><circle cx="560.41" cy="55.95" r="0.4" fill-opacity="0.46"/><circle cx="571.53" cy="64.18" r="0.51" fill-opacity="0.53"/><circle cx="558.68" cy="44.23" r="0.42" fill-opacity="0.43"/><circle cx="575.22" cy="54.39" r="0.32" fill-opacity="0.50"/><circle cx="544.57" cy="38.82" r="0.4" fill-opacity="0.38"/><circle cx="575.11" cy="50.26" r="0.57" fill-opacity="0.53"/><circle cx="558.31" cy="69.27" r="0.36" fill-opacity="0.48"/><circle cx="540.8" cy="31.1" r="0.41" fill-opacity="0.54"/><circle cx="581.34" cy="39.88" r="0.49" fill-opacity="0.56"/><circle cx="545.64" cy="56.93" r="0.38" fill-opacity="0.66"/><circle cx="571.64" cy="36.94" r="0.57" fill-opacity="0.27"/><circle cx="572.12" cy="62.01" r="0.39" fill-opacity="0.43"/><circle cx="569.9" cy="46.54" r="0.36" fill-opacity="0.36"/><circle cx="554.53" cy="36.56" r="0.3" fill-opacity="0.52"/><circle cx="549.86" cy="55.9" r="0.45" fill-opacity="0.58"/><circle cx="540.21" cy="41.86" r="0.47" fill-opacity="0.67"/><circle cx="574.68" cy="45.07" r="0.4" fill-opacity="0.69"/><circle cx="551.34" cy="68.36" r="0.51" fill-opacity="0.59"/><circle cx="582.99" cy="42.67" r="0.35" fill-opacity="0.56"/><circle cx="540.34" cy="49.15" r="0.41" fill-opacity="0.39"/><circle cx="559.78" cy="28.93" r="0.37" fill-opacity="0.37"/><circle cx="554.9" cy="57.81" r="0.45" fill-opacity="0.31"/><circle cx="566.21" cy="50.65" r="0.33" fill-opacity="0.60"/><circle cx="573.22" cy="59.41" r="0.53" fill-opacity="0.49"/><circle cx="572.58" cy="68.72" r="0.56" fill-opacity="0.28"/><circle cx="559.44" cy="66.59" r="0.54" fill-opacity="0.45"/><circle cx="557.12" cy="35.2" r="0.51" fill-opacity="0.41"/><circle cx="548.47" cy="67.66" r="0.55" fill-opacity="0.66"/><circle cx="544.47" cy="41.04" r="0.51" fill-opacity="0.56"/><circle cx="571.28" cy="27.6" r="0.34" fill-opacity="0.44"/><circle cx="553.81" cy="37.03" r="0.36" fill-opacity="0.26"/><circle cx="538.15" cy="35.04" r="0.59" fill-opacity="0.32"/><circle cx="553.44" cy="32.38" r="0.49" fill-opacity="0.45"/><circle cx="583.61" cy="37.45" r="0.31" fill-opacity="0.61"/><circle cx="563.85" cy="51.64" r="0.39" fill-opacity="0.62"/><circle cx="568.94" cy="47.64" r="0.4" fill-opacity="0.26"/><circle cx="542.4" cy="43.21" r="0.41" fill-opacity="0.40"/><circle cx="567.35" cy="25.29" r="0.39" fill-opacity="0.45"/><circle cx="543.04" cy="32.6" r="0.59" fill-opacity="0.44"/><circle cx="553.26" cy="29.89" r="0.54" fill-opacity="0.32"/><circle cx="563.77" cy="55.61" r="0.58" fill-opacity="0.38"/><circle cx="550.87" cy="48.67" r="0.4" fill-opacity="0.26"/><circle cx="550.84" cy="44.02" r="0.49" fill-opacity="0.39"/><circle cx="562.45" cy="65.94" r="0.41" fill-opacity="0.38"/></g>
<circle cx="559.9" cy="48" r="28.3" fill="none" stroke="#1c1c1c" stroke-width="1.5"/>
<circle cx="633.9" cy="47.1" r="28.1" fill="url(#pgr)" stroke="none" stroke-width="1"/>
<g fill="#2a2a2a"><circle cx="630.33" cy="47.34" r="0.82" fill-opacity="0.89"/><circle cx="639.36" cy="49.8" r="0.85" fill-opacity="0.53"/><circle cx="630.8" cy="34.51" r="0.76" fill-opacity="0.73"/><circle cx="641.51" cy="38.53" r="0.53" fill-opacity="0.82"/><circle cx="615.95" cy="44.73" r="0.51" fill-opacity="0.90"/><circle cx="636.4" cy="28.07" r="0.81" fill-opacity="0.90"/><circle cx="637.48" cy="63.71" r="0.82" fill-opacity="0.98"/><circle cx="630.29" cy="38.48" r="0.57" fill-opacity="0.92"/><circle cx="639.56" cy="43.08" r="0.84" fill-opacity="0.60"/><circle cx="649.68" cy="31.63" r="0.49" fill-opacity="0.83"/><circle cx="648.92" cy="48.56" r="0.54" fill-opacity="0.81"/><circle cx="636.71" cy="44.14" r="0.46" fill-opacity="0.85"/><circle cx="639.98" cy="53.5" r="0.82" fill-opacity="0.81"/><circle cx="642.47" cy="71.47" r="0.71" fill-opacity="0.87"/><circle cx="627.78" cy="62.48" r="0.47" fill-opacity="0.82"/><circle cx="640.97" cy="32.12" r="0.61" fill-opacity="0.75"/><circle cx="621.54" cy="64.96" r="0.51" fill-opacity="0.79"/><circle cx="630.15" cy="37.61" r="0.69" fill-opacity="0.61"/><circle cx="639.18" cy="62.91" r="0.5" fill-opacity="0.82"/><circle cx="624.01" cy="64.25" r="0.7" fill-opacity="0.63"/><circle cx="654.07" cy="48.71" r="0.41" fill-opacity="0.69"/><circle cx="644.66" cy="35.08" r="0.53" fill-opacity="0.55"/><circle cx="634.9" cy="38.79" r="0.7" fill-opacity="0.73"/><circle cx="637.25" cy="62.45" r="0.67" fill-opacity="0.85"/><circle cx="643.61" cy="24.93" r="0.7" fill-opacity="0.58"/><circle cx="614.91" cy="60.34" r="0.7" fill-opacity="0.80"/><circle cx="659.42" cy="43.3" r="0.58" fill-opacity="0.91"/><circle cx="626.07" cy="22.44" r="0.43" fill-opacity="0.73"/><circle cx="627.17" cy="37.05" r="0.85" fill-opacity="0.60"/><circle cx="644.04" cy="59.83" r="0.73" fill-opacity="0.54"/><circle cx="643.16" cy="35.71" r="0.61" fill-opacity="0.94"/><circle cx="642.7" cy="60.19" r="0.56" fill-opacity="0.92"/><circle cx="646.8" cy="57.62" r="0.65" fill-opacity="0.99"/><circle cx="655.38" cy="61.55" r="0.65" fill-opacity="0.53"/><circle cx="611.65" cy="54.8" r="0.56" fill-opacity="0.62"/><circle cx="608.71" cy="52.5" r="0.66" fill-opacity="0.59"/><circle cx="645.51" cy="47.23" r="0.78" fill-opacity="0.58"/><circle cx="617.59" cy="44.52" r="0.68" fill-opacity="0.93"/><circle cx="631.61" cy="48.49" r="0.47" fill-opacity="0.91"/><circle cx="631.51" cy="37.13" r="0.64" fill-opacity="0.51"/><circle cx="626.16" cy="58.98" r="0.74" fill-opacity="0.89"/><circle cx="630.23" cy="58.52" r="0.64" fill-opacity="0.83"/><circle cx="643.16" cy="39.97" r="0.85" fill-opacity="0.78"/><circle cx="618.88" cy="36.37" r="0.68" fill-opacity="0.63"/><circle cx="635.31" cy="54.49" r="0.76" fill-opacity="0.69"/><circle cx="629.45" cy="54.75" r="0.54" fill-opacity="0.77"/><circle cx="629.42" cy="66.49" r="0.5" fill-opacity="0.55"/><circle cx="626.8" cy="63.66" r="0.5" fill-opacity="0.87"/><circle cx="650.39" cy="48.03" r="0.83" fill-opacity="0.50"/><circle cx="649.09" cy="43.28" r="0.67" fill-opacity="0.68"/><circle cx="618.51" cy="34.5" r="0.54" fill-opacity="0.75"/><circle cx="634.04" cy="41.14" r="0.44" fill-opacity="0.63"/><circle cx="615.85" cy="30.53" r="0.44" fill-opacity="0.79"/><circle cx="642.83" cy="60.12" r="0.55" fill-opacity="0.66"/><circle cx="638.85" cy="26.94" r="0.43" fill-opacity="0.88"/><circle cx="646.47" cy="27.63" r="0.69" fill-opacity="0.51"/><circle cx="634.24" cy="27.38" r="0.4" fill-opacity="0.87"/><circle cx="622.91" cy="23.88" r="0.81" fill-opacity="0.54"/><circle cx="613" cy="55.3" r="0.57" fill-opacity="0.72"/><circle cx="644.71" cy="56.99" r="0.73" fill-opacity="0.54"/><circle cx="611.22" cy="55.53" r="0.45" fill-opacity="0.56"/><circle cx="652.48" cy="41.56" r="0.82" fill-opacity="0.61"/><circle cx="610.79" cy="41.73" r="0.46" fill-opacity="0.94"/><circle cx="650.59" cy="50.43" r="0.57" fill-opacity="0.84"/><circle cx="612.41" cy="47.96" r="0.57" fill-opacity="0.89"/><circle cx="616.47" cy="58.63" r="0.41" fill-opacity="0.91"/><circle cx="617.28" cy="63.3" r="0.71" fill-opacity="0.73"/><circle cx="611.8" cy="52.44" r="0.47" fill-opacity="0.85"/><circle cx="649.18" cy="56.85" r="0.68" fill-opacity="0.68"/><circle cx="657.77" cy="54.06" r="0.76" fill-opacity="0.63"/><circle cx="621.57" cy="42.61" r="0.65" fill-opacity="0.99"/><circle cx="616.52" cy="52.06" r="0.5" fill-opacity="0.88"/><circle cx="650.25" cy="48.12" r="0.85" fill-opacity="0.68"/><circle cx="629.08" cy="47.48" r="0.83" fill-opacity="0.88"/><circle cx="652.65" cy="60.31" r="0.5" fill-opacity="0.60"/><circle cx="626.96" cy="41.37" r="0.74" fill-opacity="0.79"/><circle cx="652.99" cy="37.21" r="0.56" fill-opacity="0.98"/><circle cx="627.81" cy="70.3" r="0.73" fill-opacity="0.63"/><circle cx="644.65" cy="55" r="0.7" fill-opacity="0.64"/><circle cx="633.34" cy="54.21" r="0.41" fill-opacity="0.90"/><circle cx="643.22" cy="60.31" r="0.77" fill-opacity="0.77"/><circle cx="610.52" cy="54.18" r="0.64" fill-opacity="0.83"/><circle cx="635.98" cy="34.06" r="0.42" fill-opacity="0.97"/><circle cx="636.8" cy="34.93" r="0.6" fill-opacity="0.69"/><circle cx="651.17" cy="40.71" r="0.65" fill-opacity="0.67"/><circle cx="635.53" cy="49.97" r="0.73" fill-opacity="0.65"/><circle cx="621.02" cy="64.95" r="0.56" fill-opacity="0.57"/><circle cx="628.94" cy="38.74" r="0.59" fill-opacity="0.57"/><circle cx="659.13" cy="42.98" r="0.81" fill-opacity="0.77"/><circle cx="630.64" cy="40.24" r="0.71" fill-opacity="0.81"/><circle cx="639.91" cy="41.43" r="0.46" fill-opacity="0.60"/><circle cx="658.58" cy="51.73" r="0.8" fill-opacity="0.54"/><circle cx="633.44" cy="59.22" r="0.52" fill-opacity="0.58"/><circle cx="640.99" cy="39.78" r="0.59" fill-opacity="0.90"/><circle cx="641.18" cy="22.29" r="0.66" fill-opacity="0.95"/><circle cx="644.9" cy="66.97" r="0.47" fill-opacity="0.96"/><circle cx="627.19" cy="57.09" r="0.41" fill-opacity="0.52"/><circle cx="626.86" cy="29.81" r="0.66" fill-opacity="0.88"/><circle cx="640.65" cy="47.13" r="0.76" fill-opacity="0.99"/><circle cx="621.35" cy="55.33" r="0.56" fill-opacity="0.51"/><circle cx="632.37" cy="66.86" r="0.64" fill-opacity="0.67"/><circle cx="621.86" cy="50.61" r="0.8" fill-opacity="0.59"/><circle cx="644.27" cy="39.67" r="0.81" fill-opacity="0.59"/><circle cx="618.52" cy="34.34" r="0.66" fill-opacity="0.79"/><circle cx="651.32" cy="49.47" r="0.55" fill-opacity="0.86"/><circle cx="638.67" cy="28.67" r="0.44" fill-opacity="0.88"/><circle cx="625.56" cy="42.27" r="0.46" fill-opacity="0.83"/><circle cx="631.47" cy="70.31" r="0.46" fill-opacity="0.89"/><circle cx="621.79" cy="66.68" r="0.57" fill-opacity="0.64"/><circle cx="632.95" cy="29.26" r="0.77" fill-opacity="0.51"/><circle cx="629.07" cy="51.61" r="0.81" fill-opacity="0.57"/><circle cx="626.13" cy="34.49" r="0.55" fill-opacity="0.97"/><circle cx="623.52" cy="54.64" r="0.46" fill-opacity="0.84"/><circle cx="630.18" cy="22.14" r="0.6" fill-opacity="0.69"/><circle cx="635.27" cy="38.47" r="0.84" fill-opacity="0.86"/><circle cx="644.4" cy="57.36" r="0.66" fill-opacity="0.64"/><circle cx="640.85" cy="31.34" r="0.76" fill-opacity="0.63"/><circle cx="626.16" cy="57.04" r="0.84" fill-opacity="0.97"/><circle cx="643.87" cy="70.51" r="0.69" fill-opacity="0.55"/><circle cx="649.58" cy="34.65" r="0.56" fill-opacity="1.00"/><circle cx="643.55" cy="49.51" r="0.61" fill-opacity="0.84"/><circle cx="617.43" cy="37.44" r="0.53" fill-opacity="0.52"/><circle cx="645.09" cy="24.3" r="0.41" fill-opacity="0.71"/><circle cx="628.94" cy="42.88" r="0.41" fill-opacity="0.67"/><circle cx="616.66" cy="51.31" r="0.65" fill-opacity="0.84"/><circle cx="622.99" cy="55.77" r="0.66" fill-opacity="0.81"/><circle cx="622.69" cy="40.29" r="0.83" fill-opacity="0.75"/><circle cx="616.28" cy="30.15" r="0.7" fill-opacity="0.73"/><circle cx="653.71" cy="36.11" r="0.82" fill-opacity="0.66"/><circle cx="616.05" cy="59.45" r="0.55" fill-opacity="0.82"/><circle cx="651.83" cy="47.46" r="0.45" fill-opacity="0.87"/><circle cx="621.36" cy="29.7" r="0.7" fill-opacity="0.70"/><circle cx="645.06" cy="31.07" r="0.43" fill-opacity="0.66"/><circle cx="642.97" cy="50.81" r="0.41" fill-opacity="0.77"/><circle cx="633.49" cy="27.97" r="0.77" fill-opacity="0.90"/><circle cx="619.43" cy="37.58" r="0.43" fill-opacity="0.54"/><circle cx="642.35" cy="58.96" r="0.7" fill-opacity="0.75"/><circle cx="620.89" cy="29.97" r="0.6" fill-opacity="0.65"/><circle cx="642.83" cy="56.37" r="0.73" fill-opacity="0.64"/><circle cx="645.27" cy="29.44" r="0.72" fill-opacity="0.52"/><circle cx="654.12" cy="41.39" r="0.61" fill-opacity="0.82"/><circle cx="613.6" cy="61.88" r="0.79" fill-opacity="0.99"/><circle cx="648.84" cy="54.61" r="0.54" fill-opacity="0.59"/><circle cx="635.21" cy="21.43" r="0.68" fill-opacity="0.56"/><circle cx="656.41" cy="55.78" r="0.75" fill-opacity="0.89"/><circle cx="611.08" cy="36.51" r="0.69" fill-opacity="0.75"/><circle cx="631.53" cy="50.22" r="0.47" fill-opacity="0.90"/><circle cx="619.85" cy="61.7" r="0.54" fill-opacity="0.64"/><circle cx="631.82" cy="32.38" r="0.55" fill-opacity="0.96"/><circle cx="627.53" cy="71.56" r="0.68" fill-opacity="0.98"/><circle cx="627.06" cy="58.96" r="0.64" fill-opacity="0.74"/><circle cx="634.44" cy="23.75" r="0.64" fill-opacity="0.64"/><circle cx="622.68" cy="59.95" r="0.58" fill-opacity="0.67"/><circle cx="627.11" cy="70.14" r="0.79" fill-opacity="0.77"/><circle cx="621.92" cy="58.29" r="0.44" fill-opacity="0.71"/><circle cx="616.15" cy="57.45" r="0.76" fill-opacity="0.96"/><circle cx="652.66" cy="40.66" r="0.59" fill-opacity="0.51"/><circle cx="641.67" cy="45.87" r="0.47" fill-opacity="0.78"/><circle cx="622.21" cy="57.83" r="0.42" fill-opacity="0.53"/><circle cx="644.79" cy="48.47" r="0.51" fill-opacity="0.95"/><circle cx="651.56" cy="47.34" r="0.68" fill-opacity="0.93"/><circle cx="610.96" cy="47.36" r="0.51" fill-opacity="0.91"/><circle cx="626.37" cy="36.59" r="0.46" fill-opacity="0.53"/><circle cx="640.85" cy="47.84" r="0.58" fill-opacity="0.73"/><circle cx="627.16" cy="55.85" r="0.66" fill-opacity="0.66"/><circle cx="644.32" cy="56.87" r="0.5" fill-opacity="0.93"/><circle cx="620.07" cy="55.83" r="0.8" fill-opacity="0.63"/><circle cx="629.39" cy="30.36" r="0.56" fill-opacity="0.72"/><circle cx="625.71" cy="65.85" r="0.59" fill-opacity="0.65"/><circle cx="616.78" cy="52.06" r="0.8" fill-opacity="0.73"/><circle cx="654.41" cy="31.8" r="0.75" fill-opacity="0.70"/><circle cx="633.1" cy="33.03" r="0.73" fill-opacity="0.97"/><circle cx="625.56" cy="32.19" r="0.69" fill-opacity="0.61"/><circle cx="609.03" cy="40.86" r="0.55" fill-opacity="0.86"/><circle cx="626" cy="39.66" r="0.44" fill-opacity="0.69"/><circle cx="626.12" cy="71.2" r="0.74" fill-opacity="0.72"/><circle cx="645.29" cy="50.93" r="0.69" fill-opacity="0.53"/><circle cx="630.36" cy="32.43" r="0.56" fill-opacity="0.74"/><circle cx="619.42" cy="34.57" r="0.46" fill-opacity="0.89"/><circle cx="630.2" cy="22.12" r="0.52" fill-opacity="0.78"/><circle cx="623.32" cy="47.42" r="0.68" fill-opacity="0.95"/><circle cx="628.24" cy="69.65" r="0.59" fill-opacity="0.57"/><circle cx="615.63" cy="51.75" r="0.85" fill-opacity="0.78"/><circle cx="620.34" cy="65.13" r="0.43" fill-opacity="0.65"/><circle cx="625.25" cy="25.17" r="0.57" fill-opacity="0.64"/><circle cx="629.98" cy="46.16" r="0.57" fill-opacity="0.83"/><circle cx="649.04" cy="45.96" r="0.68" fill-opacity="0.60"/><circle cx="649.7" cy="28.53" r="0.49" fill-opacity="0.51"/><circle cx="608.99" cy="48.49" r="0.55" fill-opacity="0.81"/><circle cx="623.75" cy="68.11" r="0.81" fill-opacity="0.92"/><circle cx="658.33" cy="51.39" r="0.75" fill-opacity="0.64"/><circle cx="621.75" cy="61.95" r="0.67" fill-opacity="0.66"/><circle cx="654.17" cy="36.24" r="0.8" fill-opacity="0.59"/><circle cx="614.12" cy="60.4" r="0.56" fill-opacity="0.88"/><circle cx="644.8" cy="32.87" r="0.43" fill-opacity="0.75"/><circle cx="647.06" cy="29.02" r="0.74" fill-opacity="0.84"/><circle cx="648.47" cy="49.35" r="0.67" fill-opacity="0.88"/><circle cx="618.15" cy="43.76" r="0.76" fill-opacity="0.71"/><circle cx="619.41" cy="34.39" r="0.42" fill-opacity="0.58"/><circle cx="655.48" cy="54.67" r="0.5" fill-opacity="0.51"/><circle cx="639.78" cy="50.39" r="0.52" fill-opacity="0.51"/><circle cx="622.66" cy="39.76" r="0.45" fill-opacity="0.92"/><circle cx="619.48" cy="46.03" r="0.8" fill-opacity="0.88"/><circle cx="622.29" cy="28.95" r="0.63" fill-opacity="0.71"/><circle cx="616.18" cy="46.64" r="0.64" fill-opacity="0.77"/><circle cx="643.47" cy="39.44" r="0.41" fill-opacity="0.65"/><circle cx="617.31" cy="47.75" r="0.49" fill-opacity="0.93"/><circle cx="625.18" cy="27.4" r="0.74" fill-opacity="0.73"/><circle cx="610.93" cy="39.17" r="0.85" fill-opacity="0.96"/><circle cx="645.39" cy="52.9" r="0.84" fill-opacity="0.77"/><circle cx="625.07" cy="69.47" r="0.63" fill-opacity="1.00"/><circle cx="639.7" cy="51.7" r="0.58" fill-opacity="0.82"/><circle cx="644.2" cy="30.82" r="0.43" fill-opacity="0.85"/><circle cx="625.55" cy="56.34" r="0.6" fill-opacity="0.77"/><circle cx="615.73" cy="37.44" r="0.41" fill-opacity="0.61"/><circle cx="635.45" cy="53.91" r="0.74" fill-opacity="0.67"/><circle cx="626.21" cy="44.13" r="0.69" fill-opacity="0.63"/><circle cx="630.25" cy="24.84" r="0.43" fill-opacity="0.52"/><circle cx="641.29" cy="56.09" r="0.41" fill-opacity="0.58"/><circle cx="648.07" cy="43.28" r="0.52" fill-opacity="0.91"/><circle cx="635.99" cy="49.15" r="0.42" fill-opacity="0.78"/><circle cx="639.71" cy="35.46" r="0.72" fill-opacity="0.59"/><circle cx="646.34" cy="44.59" r="0.53" fill-opacity="0.96"/><circle cx="644.14" cy="51.6" r="0.51" fill-opacity="0.64"/><circle cx="626.06" cy="22.69" r="0.7" fill-opacity="0.81"/><circle cx="630.2" cy="29.29" r="0.43" fill-opacity="0.75"/><circle cx="628.29" cy="45.99" r="0.41" fill-opacity="0.99"/><circle cx="629.09" cy="55.84" r="0.67" fill-opacity="0.96"/><circle cx="620.57" cy="36.85" r="0.69" fill-opacity="0.81"/><circle cx="628.56" cy="47.62" r="0.64" fill-opacity="0.98"/><circle cx="643.99" cy="43.25" r="0.68" fill-opacity="0.87"/><circle cx="632.88" cy="41.3" r="0.77" fill-opacity="0.57"/><circle cx="641.57" cy="68.08" r="0.69" fill-opacity="0.57"/><circle cx="643.65" cy="58.7" r="0.84" fill-opacity="0.90"/><circle cx="635.28" cy="58" r="0.6" fill-opacity="0.72"/><circle cx="610.53" cy="52.7" r="0.64" fill-opacity="0.69"/><circle cx="642.69" cy="43.23" r="0.54" fill-opacity="0.99"/><circle cx="641.87" cy="68.41" r="0.75" fill-opacity="0.93"/><circle cx="630.33" cy="37.48" r="0.57" fill-opacity="0.85"/><circle cx="627.28" cy="23.32" r="0.42" fill-opacity="0.64"/><circle cx="631.16" cy="33.54" r="0.48" fill-opacity="0.70"/><circle cx="634.75" cy="38.45" r="0.84" fill-opacity="0.87"/><circle cx="620.85" cy="62.46" r="0.83" fill-opacity="0.95"/><circle cx="653.84" cy="30.6" r="0.78" fill-opacity="0.83"/><circle cx="644.09" cy="60.02" r="0.65" fill-opacity="0.57"/><circle cx="652.89" cy="54.92" r="0.53" fill-opacity="0.66"/><circle cx="640.13" cy="63.27" r="0.79" fill-opacity="0.99"/><circle cx="634.68" cy="62.32" r="0.64" fill-opacity="0.63"/><circle cx="616.61" cy="33.21" r="0.45" fill-opacity="0.84"/><circle cx="622.71" cy="33.34" r="0.63" fill-opacity="0.51"/><circle cx="654.17" cy="35.84" r="0.48" fill-opacity="0.73"/><circle cx="627.61" cy="35.26" r="0.65" fill-opacity="0.62"/><circle cx="637.63" cy="28.46" r="0.68" fill-opacity="0.96"/><circle cx="642.77" cy="44.73" r="0.67" fill-opacity="0.84"/><circle cx="644.61" cy="31.25" r="0.49" fill-opacity="0.84"/><circle cx="624.35" cy="34.59" r="0.82" fill-opacity="0.57"/><circle cx="633.39" cy="60.19" r="0.61" fill-opacity="0.92"/><circle cx="653.41" cy="54.45" r="0.61" fill-opacity="0.55"/><circle cx="640.14" cy="38.82" r="0.56" fill-opacity="0.55"/><circle cx="649.76" cy="28" r="0.57" fill-opacity="0.82"/><circle cx="615.39" cy="56.36" r="0.51" fill-opacity="0.53"/><circle cx="625.9" cy="62.39" r="0.53" fill-opacity="0.71"/><circle cx="614.29" cy="46.72" r="0.67" fill-opacity="0.75"/><circle cx="642.66" cy="50.49" r="0.67" fill-opacity="0.84"/><circle cx="637.6" cy="33.65" r="0.61" fill-opacity="0.75"/><circle cx="614.31" cy="62.39" r="0.62" fill-opacity="0.70"/><circle cx="617.73" cy="67.32" r="0.42" fill-opacity="0.70"/><circle cx="610.31" cy="44.07" r="0.44" fill-opacity="0.62"/><circle cx="640.57" cy="54.25" r="0.81" fill-opacity="0.86"/><circle cx="615.42" cy="60.12" r="0.46" fill-opacity="0.95"/><circle cx="653.46" cy="55.48" r="0.5" fill-opacity="0.72"/><circle cx="657.68" cy="54.98" r="0.55" fill-opacity="0.57"/><circle cx="637.77" cy="50.26" r="0.69" fill-opacity="0.74"/><circle cx="636.88" cy="35.71" r="0.42" fill-opacity="0.80"/><circle cx="626.07" cy="70.63" r="0.49" fill-opacity="0.82"/><circle cx="641.5" cy="26.21" r="0.54" fill-opacity="0.86"/><circle cx="635.36" cy="42.08" r="0.63" fill-opacity="0.57"/><circle cx="656.81" cy="39.66" r="0.51" fill-opacity="0.78"/><circle cx="644.85" cy="66.57" r="0.74" fill-opacity="0.67"/><circle cx="626.61" cy="26.25" r="0.61" fill-opacity="0.56"/><circle cx="616.34" cy="61.7" r="0.78" fill-opacity="0.74"/><circle cx="631.84" cy="74.28" r="0.67" fill-opacity="0.56"/><circle cx="617.34" cy="35.39" r="0.75" fill-opacity="0.80"/><circle cx="650.12" cy="43.97" r="0.69" fill-opacity="0.69"/><circle cx="620.01" cy="62.63" r="0.56" fill-opacity="0.68"/><circle cx="640.45" cy="26.83" r="0.78" fill-opacity="0.69"/><circle cx="633.79" cy="61.64" r="0.45" fill-opacity="0.90"/><circle cx="628.72" cy="62.16" r="0.45" fill-opacity="0.57"/><circle cx="639.74" cy="42.39" r="0.51" fill-opacity="0.88"/><circle cx="622.17" cy="32.49" r="0.49" fill-opacity="0.65"/><circle cx="630" cy="68.87" r="0.41" fill-opacity="0.82"/><circle cx="628.68" cy="57.16" r="0.45" fill-opacity="0.54"/><circle cx="631.36" cy="45.18" r="0.6" fill-opacity="0.80"/><circle cx="650.3" cy="50.75" r="0.56" fill-opacity="0.99"/><circle cx="655.23" cy="35.81" r="0.66" fill-opacity="0.56"/><circle cx="650.21" cy="57.48" r="0.44" fill-opacity="0.55"/><circle cx="648.22" cy="68.55" r="0.66" fill-opacity="0.95"/><circle cx="634.94" cy="26.31" r="0.61" fill-opacity="0.89"/><circle cx="644.2" cy="62.89" r="0.59" fill-opacity="0.76"/><circle cx="626.59" cy="28.97" r="0.75" fill-opacity="0.91"/></g>
<circle cx="633.9" cy="47.1" r="28.1" fill="none" stroke="#1c1c1c" stroke-width="1.5"/>
<circle cx="560.2" cy="113.5" r="28.5" fill="url(#pgr)" stroke="none" stroke-width="1"/>
<g fill="#2a2a2a"><circle cx="568.58" cy="118.99" r="0.31" fill-opacity="0.26"/><circle cx="574.35" cy="109.77" r="0.39" fill-opacity="0.39"/><circle cx="547.42" cy="108.03" r="0.46" fill-opacity="0.33"/><circle cx="573.52" cy="94.05" r="0.3" fill-opacity="0.42"/><circle cx="580.82" cy="127.15" r="0.31" fill-opacity="0.31"/><circle cx="562.58" cy="93.42" r="0.43" fill-opacity="0.37"/><circle cx="548.44" cy="111.97" r="0.39" fill-opacity="0.30"/><circle cx="556.32" cy="105.83" r="0.33" fill-opacity="0.28"/><circle cx="540.57" cy="109.38" r="0.3" fill-opacity="0.59"/><circle cx="568.48" cy="99.57" r="0.33" fill-opacity="0.53"/><circle cx="571.18" cy="111.9" r="0.45" fill-opacity="0.53"/><circle cx="571.29" cy="108.88" r="0.32" fill-opacity="0.27"/><circle cx="563.13" cy="138.28" r="0.48" fill-opacity="0.39"/><circle cx="571.07" cy="124.71" r="0.35" fill-opacity="0.46"/><circle cx="555.86" cy="90.74" r="0.39" fill-opacity="0.38"/><circle cx="544.52" cy="116.71" r="0.39" fill-opacity="0.47"/><circle cx="556.58" cy="98.92" r="0.41" fill-opacity="0.26"/><circle cx="575.9" cy="118.09" r="0.37" fill-opacity="0.21"/><circle cx="575.26" cy="121.72" r="0.49" fill-opacity="0.54"/><circle cx="574.74" cy="116.29" r="0.37" fill-opacity="0.32"/><circle cx="573.36" cy="128.83" r="0.47" fill-opacity="0.35"/><circle cx="564.01" cy="121.14" r="0.3" fill-opacity="0.51"/><circle cx="562.89" cy="135.72" r="0.46" fill-opacity="0.23"/><circle cx="565.73" cy="127.2" r="0.45" fill-opacity="0.49"/><circle cx="554.44" cy="130.21" r="0.37" fill-opacity="0.39"/><circle cx="563.84" cy="100.55" r="0.46" fill-opacity="0.57"/><circle cx="539.46" cy="98.23" r="0.49" fill-opacity="0.27"/><circle cx="571.96" cy="112.87" r="0.46" fill-opacity="0.25"/><circle cx="554.52" cy="130.04" r="0.47" fill-opacity="0.47"/><circle cx="567.33" cy="137.38" r="0.47" fill-opacity="0.40"/><circle cx="573.55" cy="117.9" r="0.36" fill-opacity="0.37"/><circle cx="579.18" cy="106.34" r="0.46" fill-opacity="0.23"/><circle cx="560.84" cy="135.98" r="0.37" fill-opacity="0.29"/><circle cx="565.67" cy="115.79" r="0.38" fill-opacity="0.42"/><circle cx="544.21" cy="125.13" r="0.36" fill-opacity="0.21"/><circle cx="553.23" cy="99.95" r="0.4" fill-opacity="0.35"/><circle cx="559.45" cy="119.44" r="0.36" fill-opacity="0.32"/><circle cx="563.59" cy="116.49" r="0.4" fill-opacity="0.21"/><circle cx="571.64" cy="102.62" r="0.39" fill-opacity="0.41"/><circle cx="568.48" cy="114.76" r="0.46" fill-opacity="0.42"/><circle cx="544.79" cy="114.15" r="0.45" fill-opacity="0.40"/><circle cx="566.52" cy="90.3" r="0.48" fill-opacity="0.49"/><circle cx="551.98" cy="97.63" r="0.41" fill-opacity="0.43"/><circle cx="536.7" cy="109.74" r="0.47" fill-opacity="0.22"/><circle cx="560.46" cy="92.86" r="0.42" fill-opacity="0.56"/><circle cx="577.45" cy="119.06" r="0.38" fill-opacity="0.58"/><circle cx="570.29" cy="130.46" r="0.33" fill-opacity="0.50"/><circle cx="537.7" cy="115.05" r="0.36" fill-opacity="0.55"/><circle cx="572.65" cy="114.05" r="0.45" fill-opacity="0.55"/><circle cx="562.55" cy="99.91" r="0.32" fill-opacity="0.48"/><circle cx="559.45" cy="107.07" r="0.49" fill-opacity="0.41"/><circle cx="578.01" cy="117.31" r="0.37" fill-opacity="0.24"/><circle cx="579.31" cy="96.73" r="0.32" fill-opacity="0.38"/><circle cx="557.04" cy="134.83" r="0.32" fill-opacity="0.33"/><circle cx="544.91" cy="123.16" r="0.39" fill-opacity="0.44"/><circle cx="583.81" cy="104.19" r="0.48" fill-opacity="0.53"/><circle cx="561.96" cy="126.38" r="0.39" fill-opacity="0.46"/><circle cx="547.99" cy="103.87" r="0.5" fill-opacity="0.32"/><circle cx="568.07" cy="114.46" r="0.34" fill-opacity="0.49"/><circle cx="563.1" cy="108.98" r="0.35" fill-opacity="0.30"/><circle cx="565.87" cy="89.24" r="0.35" fill-opacity="0.24"/><circle cx="585.56" cy="108.14" r="0.44" fill-opacity="0.39"/><circle cx="559.74" cy="90.47" r="0.4" fill-opacity="0.31"/><circle cx="539.06" cy="110.13" r="0.36" fill-opacity="0.46"/><circle cx="575.86" cy="134.15" r="0.34" fill-opacity="0.29"/><circle cx="585.04" cy="107.17" r="0.49" fill-opacity="0.54"/><circle cx="574.04" cy="94.1" r="0.41" fill-opacity="0.23"/><circle cx="557.45" cy="89.61" r="0.47" fill-opacity="0.22"/><circle cx="581.03" cy="121.95" r="0.4" fill-opacity="0.56"/><circle cx="577.75" cy="112.48" r="0.44" fill-opacity="0.47"/><circle cx="554.67" cy="98.54" r="0.43" fill-opacity="0.23"/><circle cx="578.3" cy="100.36" r="0.46" fill-opacity="0.38"/><circle cx="565.12" cy="130.47" r="0.44" fill-opacity="0.42"/><circle cx="561.45" cy="114.51" r="0.38" fill-opacity="0.30"/><circle cx="562" cy="125.75" r="0.38" fill-opacity="0.48"/><circle cx="578.68" cy="102.26" r="0.3" fill-opacity="0.55"/><circle cx="542.77" cy="99.28" r="0.42" fill-opacity="0.34"/><circle cx="556.46" cy="119.45" r="0.43" fill-opacity="0.22"/><circle cx="549.66" cy="90.71" r="0.43" fill-opacity="0.44"/><circle cx="569.4" cy="89.43" r="0.46" fill-opacity="0.60"/><circle cx="557.12" cy="114.3" r="0.42" fill-opacity="0.46"/><circle cx="573.62" cy="97.9" r="0.37" fill-opacity="0.20"/><circle cx="570.29" cy="95.32" r="0.5" fill-opacity="0.44"/><circle cx="574.1" cy="95.04" r="0.5" fill-opacity="0.38"/><circle cx="573.43" cy="103.53" r="0.3" fill-opacity="0.33"/><circle cx="544.63" cy="134.57" r="0.38" fill-opacity="0.31"/><circle cx="557.22" cy="105.86" r="0.36" fill-opacity="0.36"/><circle cx="574.64" cy="127.82" r="0.38" fill-opacity="0.52"/><circle cx="546.34" cy="135.5" r="0.34" fill-opacity="0.41"/><circle cx="560.67" cy="116.6" r="0.36" fill-opacity="0.56"/><circle cx="555.46" cy="131.26" r="0.4" fill-opacity="0.31"/><circle cx="553.63" cy="112.04" r="0.37" fill-opacity="0.31"/><circle cx="569.42" cy="92.35" r="0.44" fill-opacity="0.44"/><circle cx="575.33" cy="96.66" r="0.31" fill-opacity="0.25"/><circle cx="559.88" cy="89.4" r="0.5" fill-opacity="0.51"/><circle cx="571.04" cy="130.08" r="0.42" fill-opacity="0.44"/><circle cx="577.38" cy="132.85" r="0.4" fill-opacity="0.31"/><circle cx="576.4" cy="111.55" r="0.31" fill-opacity="0.47"/><circle cx="559.45" cy="125.76" r="0.36" fill-opacity="0.44"/><circle cx="551.09" cy="132.91" r="0.48" fill-opacity="0.60"/><circle cx="579.55" cy="97.28" r="0.35" fill-opacity="0.53"/><circle cx="577.15" cy="124.22" r="0.32" fill-opacity="0.24"/><circle cx="569.09" cy="110.54" r="0.44" fill-opacity="0.41"/><circle cx="583.62" cy="113.68" r="0.31" fill-opacity="0.55"/><circle cx="567.93" cy="96.66" r="0.39" fill-opacity="0.21"/><circle cx="558.59" cy="108.55" r="0.41" fill-opacity="0.57"/><circle cx="556.28" cy="105.42" r="0.44" fill-opacity="0.48"/><circle cx="549.16" cy="133.8" r="0.42" fill-opacity="0.37"/><circle cx="546.57" cy="111.27" r="0.36" fill-opacity="0.56"/><circle cx="546.68" cy="132.23" r="0.37" fill-opacity="0.28"/><circle cx="586.01" cy="113.73" r="0.45" fill-opacity="0.59"/><circle cx="554.63" cy="110.01" r="0.33" fill-opacity="0.22"/><circle cx="544.41" cy="100.05" r="0.49" fill-opacity="0.32"/><circle cx="561.5" cy="125.8" r="0.33" fill-opacity="0.21"/><circle cx="543.17" cy="114.17" r="0.37" fill-opacity="0.58"/><circle cx="550.88" cy="135.53" r="0.41" fill-opacity="0.24"/><circle cx="580.38" cy="117.3" r="0.47" fill-opacity="0.22"/><circle cx="556.44" cy="101.39" r="0.44" fill-opacity="0.53"/><circle cx="558.34" cy="100.63" r="0.33" fill-opacity="0.59"/><circle cx="582.01" cy="100.73" r="0.41" fill-opacity="0.22"/><circle cx="543.16" cy="131.92" r="0.31" fill-opacity="0.32"/><circle cx="584.01" cy="119.98" r="0.37" fill-opacity="0.23"/><circle cx="552.86" cy="122.83" r="0.39" fill-opacity="0.45"/><circle cx="555.74" cy="106.66" r="0.41" fill-opacity="0.22"/><circle cx="538.14" cy="121.99" r="0.35" fill-opacity="0.53"/><circle cx="560.81" cy="129.98" r="0.46" fill-opacity="0.20"/><circle cx="542.04" cy="107.08" r="0.44" fill-opacity="0.58"/><circle cx="555.95" cy="101.81" r="0.34" fill-opacity="0.39"/><circle cx="556.37" cy="132.68" r="0.32" fill-opacity="0.48"/><circle cx="555.11" cy="116.44" r="0.32" fill-opacity="0.57"/></g>
<circle cx="560.2" cy="113.5" r="28.5" fill="none" stroke="#1c1c1c" stroke-width="1.5"/>
<circle cx="633.9" cy="112.7" r="27.9" fill="url(#pgr)" stroke="none" stroke-width="1"/>
<g fill="#2a2a2a"><circle cx="647.97" cy="93.11" r="0.4" fill-opacity="0.59"/><circle cx="644.44" cy="131.89" r="0.54" fill-opacity="0.28"/><circle cx="643.03" cy="112.94" r="0.32" fill-opacity="0.52"/><circle cx="619.96" cy="101.73" r="0.33" fill-opacity="0.46"/><circle cx="640.03" cy="119.82" r="0.45" fill-opacity="0.46"/><circle cx="641.24" cy="90.52" r="0.33" fill-opacity="0.32"/><circle cx="645.04" cy="126.86" r="0.31" fill-opacity="0.55"/><circle cx="624.28" cy="91.69" r="0.42" fill-opacity="0.56"/><circle cx="645.8" cy="92.55" r="0.5" fill-opacity="0.29"/><circle cx="630.46" cy="117.74" r="0.49" fill-opacity="0.39"/><circle cx="647.68" cy="111.52" r="0.41" fill-opacity="0.55"/><circle cx="655.83" cy="108.35" r="0.52" fill-opacity="0.57"/><circle cx="631.16" cy="132.7" r="0.32" fill-opacity="0.47"/><circle cx="651.37" cy="107.33" r="0.34" fill-opacity="0.43"/><circle cx="649.9" cy="119.68" r="0.32" fill-opacity="0.37"/><circle cx="643.04" cy="92.58" r="0.51" fill-opacity="0.38"/><circle cx="628.28" cy="114.88" r="0.5" fill-opacity="0.43"/><circle cx="625.7" cy="118.05" r="0.41" fill-opacity="0.23"/><circle cx="639.18" cy="117.65" r="0.41" fill-opacity="0.25"/><circle cx="643.27" cy="94.95" r="0.52" fill-opacity="0.42"/><circle cx="641.16" cy="124.09" r="0.51" fill-opacity="0.43"/><circle cx="621.5" cy="96.45" r="0.31" fill-opacity="0.28"/><circle cx="612.44" cy="122.55" r="0.54" fill-opacity="0.44"/><circle cx="633.57" cy="118.23" r="0.44" fill-opacity="0.36"/><circle cx="644.49" cy="107.78" r="0.35" fill-opacity="0.21"/><circle cx="656.62" cy="116.84" r="0.52" fill-opacity="0.26"/><circle cx="653.32" cy="114.58" r="0.36" fill-opacity="0.45"/><circle cx="652.79" cy="101.01" r="0.37" fill-opacity="0.44"/><circle cx="628.39" cy="134.41" r="0.36" fill-opacity="0.55"/><circle cx="623.34" cy="90.85" r="0.39" fill-opacity="0.58"/><circle cx="622.57" cy="106.26" r="0.46" fill-opacity="0.32"/><circle cx="637.78" cy="116.05" r="0.45" fill-opacity="0.30"/><circle cx="652.22" cy="126.02" r="0.34" fill-opacity="0.50"/><circle cx="631.67" cy="128.03" r="0.53" fill-opacity="0.53"/><circle cx="646.8" cy="90.77" r="0.45" fill-opacity="0.57"/><circle cx="619.82" cy="99.05" r="0.38" fill-opacity="0.35"/><circle cx="622.33" cy="107.28" r="0.46" fill-opacity="0.55"/><circle cx="631.64" cy="100.72" r="0.31" fill-opacity="0.35"/><circle cx="612.25" cy="122.21" r="0.44" fill-opacity="0.41"/><circle cx="618.85" cy="100.92" r="0.47" fill-opacity="0.42"/><circle cx="622.09" cy="108.64" r="0.33" fill-opacity="0.38"/><circle cx="652.82" cy="96.35" r="0.37" fill-opacity="0.43"/><circle cx="616.7" cy="110.71" r="0.34" fill-opacity="0.52"/><circle cx="644.45" cy="118.97" r="0.37" fill-opacity="0.28"/><circle cx="636.43" cy="119.5" r="0.43" fill-opacity="0.27"/><circle cx="621.46" cy="97.15" r="0.46" fill-opacity="0.39"/><circle cx="623.27" cy="103.63" r="0.42" fill-opacity="0.48"/><circle cx="638.65" cy="134.19" r="0.45" fill-opacity="0.59"/><circle cx="619.72" cy="99.99" r="0.49" fill-opacity="0.32"/><circle cx="622.14" cy="124.83" r="0.48" fill-opacity="0.49"/><circle cx="643.84" cy="135.75" r="0.55" fill-opacity="0.40"/><circle cx="654.15" cy="112.13" r="0.4" fill-opacity="0.23"/><circle cx="653.54" cy="114.85" r="0.48" fill-opacity="0.45"/><circle cx="637.37" cy="96.09" r="0.49" fill-opacity="0.44"/><circle cx="621.24" cy="98.49" r="0.47" fill-opacity="0.42"/><circle cx="651.69" cy="124.08" r="0.48" fill-opacity="0.37"/><circle cx="651.41" cy="109.35" r="0.34" fill-opacity="0.40"/><circle cx="627.33" cy="120.83" r="0.52" fill-opacity="0.27"/><circle cx="631.41" cy="102.4" r="0.43" fill-opacity="0.60"/><circle cx="654.11" cy="125.31" r="0.3" fill-opacity="0.59"/><circle cx="648.34" cy="103.34" r="0.46" fill-opacity="0.38"/><circle cx="641.81" cy="125.83" r="0.41" fill-opacity="0.55"/><circle cx="648.13" cy="125.1" r="0.42" fill-opacity="0.42"/><circle cx="639.13" cy="93.5" r="0.38" fill-opacity="0.58"/><circle cx="623.02" cy="104.91" r="0.44" fill-opacity="0.55"/><circle cx="653.71" cy="118.65" r="0.42" fill-opacity="0.32"/><circle cx="640.57" cy="123.12" r="0.41" fill-opacity="0.37"/><circle cx="623.16" cy="104.75" r="0.46" fill-opacity="0.39"/><circle cx="640.42" cy="90.59" r="0.36" fill-opacity="0.59"/><circle cx="619.65" cy="108.42" r="0.36" fill-opacity="0.49"/><circle cx="614.3" cy="120.92" r="0.36" fill-opacity="0.54"/><circle cx="631.73" cy="136.57" r="0.41" fill-opacity="0.36"/><circle cx="617.48" cy="104" r="0.44" fill-opacity="0.42"/><circle cx="654.97" cy="105.85" r="0.32" fill-opacity="0.60"/><circle cx="639.77" cy="113.27" r="0.5" fill-opacity="0.31"/><circle cx="644.5" cy="114.68" r="0.42" fill-opacity="0.54"/><circle cx="644.27" cy="114" r="0.3" fill-opacity="0.22"/><circle cx="626.73" cy="129.22" r="0.54" fill-opacity="0.46"/><circle cx="645.98" cy="97.07" r="0.53" fill-opacity="0.47"/><circle cx="634.89" cy="128.35" r="0.42" fill-opacity="0.24"/><circle cx="649.77" cy="104.51" r="0.35" fill-opacity="0.40"/><circle cx="638.47" cy="100.06" r="0.45" fill-opacity="0.24"/><circle cx="634.5" cy="123.81" r="0.43" fill-opacity="0.48"/><circle cx="636.93" cy="133.81" r="0.45" fill-opacity="0.50"/><circle cx="648.73" cy="112.29" r="0.55" fill-opacity="0.38"/><circle cx="623.09" cy="112.04" r="0.32" fill-opacity="0.46"/><circle cx="637.72" cy="115.59" r="0.32" fill-opacity="0.42"/><circle cx="638.29" cy="125.14" r="0.49" fill-opacity="0.38"/><circle cx="646.65" cy="129.62" r="0.55" fill-opacity="0.45"/><circle cx="616.16" cy="119.08" r="0.48" fill-opacity="0.54"/><circle cx="636.74" cy="100.21" r="0.5" fill-opacity="0.24"/><circle cx="646.57" cy="125.91" r="0.35" fill-opacity="0.42"/><circle cx="628.61" cy="137.1" r="0.41" fill-opacity="0.53"/><circle cx="650.16" cy="106.82" r="0.49" fill-opacity="0.40"/><circle cx="626.59" cy="118.05" r="0.46" fill-opacity="0.57"/><circle cx="628.39" cy="99.32" r="0.43" fill-opacity="0.34"/><circle cx="616.38" cy="126.96" r="0.3" fill-opacity="0.39"/><circle cx="624.07" cy="111.96" r="0.48" fill-opacity="0.30"/><circle cx="623.39" cy="120" r="0.45" fill-opacity="0.37"/><circle cx="627.13" cy="97.37" r="0.5" fill-opacity="0.42"/><circle cx="648.14" cy="123.75" r="0.36" fill-opacity="0.32"/><circle cx="650.76" cy="106.99" r="0.48" fill-opacity="0.26"/><circle cx="627.83" cy="106.27" r="0.36" fill-opacity="0.25"/><circle cx="658.08" cy="116.5" r="0.54" fill-opacity="0.35"/><circle cx="655.85" cy="114.45" r="0.47" fill-opacity="0.22"/><circle cx="634.6" cy="106.06" r="0.36" fill-opacity="0.51"/><circle cx="635.24" cy="100.34" r="0.43" fill-opacity="0.52"/><circle cx="619.09" cy="101.41" r="0.35" fill-opacity="0.23"/><circle cx="640.98" cy="129.91" r="0.45" fill-opacity="0.38"/><circle cx="621.23" cy="98.14" r="0.46" fill-opacity="0.36"/></g>
<circle cx="633.9" cy="112.7" r="27.9" fill="none" stroke="#1c1c1c" stroke-width="1.5"/>
<circle cx="560.2" cy="177.9" r="28.1" fill="url(#pgr)" stroke="none" stroke-width="1"/>
<g fill="#2a2a2a"><circle cx="570.52" cy="162.09" r="0.43" fill-opacity="0.35"/><circle cx="570.89" cy="157.81" r="0.4" fill-opacity="0.26"/><circle cx="560.32" cy="186.19" r="0.4" fill-opacity="0.20"/><circle cx="545.59" cy="165.44" r="0.39" fill-opacity="0.24"/><circle cx="561.15" cy="192.14" r="0.4" fill-opacity="0.33"/><circle cx="554.12" cy="191.07" r="0.37" fill-opacity="0.24"/><circle cx="545.03" cy="161.26" r="0.42" fill-opacity="0.31"/><circle cx="556.28" cy="152.67" r="0.37" fill-opacity="0.24"/><circle cx="551.78" cy="166.08" r="0.42" fill-opacity="0.23"/><circle cx="542.71" cy="171.37" r="0.35" fill-opacity="0.15"/><circle cx="557.04" cy="195.49" r="0.44" fill-opacity="0.18"/><circle cx="581.13" cy="163.26" r="0.42" fill-opacity="0.21"/></g>
<circle cx="560.2" cy="177.9" r="28.1" fill="none" stroke="#1c1c1c" stroke-width="1.5"/>
<circle cx="633.5" cy="176.7" r="27.7" fill="url(#pgr)" stroke="none" stroke-width="1"/>
<g fill="#2a2a2a"><circle cx="657.25" cy="179.58" r="0.31" fill-opacity="0.17"/><circle cx="652.9" cy="168.85" r="0.42" fill-opacity="0.31"/><circle cx="641.4" cy="193" r="0.31" fill-opacity="0.19"/><circle cx="610.46" cy="177.31" r="0.34" fill-opacity="0.27"/><circle cx="641.67" cy="186.7" r="0.31" fill-opacity="0.25"/><circle cx="615.05" cy="165.6" r="0.36" fill-opacity="0.33"/><circle cx="630.19" cy="157.76" r="0.43" fill-opacity="0.14"/><circle cx="628.54" cy="194.98" r="0.39" fill-opacity="0.34"/><circle cx="631.13" cy="171.73" r="0.44" fill-opacity="0.22"/><circle cx="639.64" cy="198.1" r="0.39" fill-opacity="0.31"/><circle cx="621.27" cy="172.62" r="0.37" fill-opacity="0.22"/><circle cx="621.89" cy="192.28" r="0.32" fill-opacity="0.16"/><circle cx="636.59" cy="179.54" r="0.38" fill-opacity="0.28"/><circle cx="613.67" cy="190.61" r="0.39" fill-opacity="0.26"/><circle cx="628.05" cy="200.25" r="0.35" fill-opacity="0.31"/><circle cx="634.42" cy="201.56" r="0.4" fill-opacity="0.14"/><circle cx="632.34" cy="166.71" r="0.36" fill-opacity="0.19"/><circle cx="625.71" cy="189.92" r="0.32" fill-opacity="0.20"/><circle cx="652.44" cy="189.3" r="0.35" fill-opacity="0.28"/><circle cx="610.86" cy="187.71" r="0.43" fill-opacity="0.28"/><circle cx="646.68" cy="156.2" r="0.44" fill-opacity="0.20"/><circle cx="627.91" cy="173.01" r="0.35" fill-opacity="0.18"/><circle cx="631.92" cy="175.17" r="0.41" fill-opacity="0.12"/><circle cx="617.79" cy="184.98" r="0.43" fill-opacity="0.26"/><circle cx="645.98" cy="193.36" r="0.34" fill-opacity="0.25"/><circle cx="612.17" cy="189.6" r="0.37" fill-opacity="0.17"/><circle cx="624.3" cy="199.9" r="0.35" fill-opacity="0.16"/><circle cx="613.13" cy="172.14" r="0.44" fill-opacity="0.12"/><circle cx="623.13" cy="195.74" r="0.37" fill-opacity="0.27"/><circle cx="629.96" cy="169.81" r="0.31" fill-opacity="0.14"/><circle cx="629.88" cy="186.96" r="0.34" fill-opacity="0.13"/><circle cx="651.72" cy="179.72" r="0.41" fill-opacity="0.14"/><circle cx="651.56" cy="188.84" r="0.31" fill-opacity="0.14"/><circle cx="619.62" cy="177.52" r="0.42" fill-opacity="0.23"/><circle cx="618.07" cy="174.42" r="0.3" fill-opacity="0.31"/><circle cx="615.68" cy="191.54" r="0.32" fill-opacity="0.21"/><circle cx="623.78" cy="174.23" r="0.31" fill-opacity="0.33"/><circle cx="657.12" cy="167.09" r="0.38" fill-opacity="0.28"/><circle cx="619.33" cy="166.22" r="0.33" fill-opacity="0.26"/><circle cx="613.82" cy="184.04" r="0.31" fill-opacity="0.17"/><circle cx="650.41" cy="191.2" r="0.37" fill-opacity="0.17"/><circle cx="637.11" cy="158.66" r="0.34" fill-opacity="0.20"/><circle cx="639.77" cy="176.77" r="0.31" fill-opacity="0.34"/><circle cx="647.09" cy="163.69" r="0.44" fill-opacity="0.23"/><circle cx="630.06" cy="169.2" r="0.37" fill-opacity="0.25"/><circle cx="616.17" cy="187.84" r="0.35" fill-opacity="0.26"/><circle cx="638.15" cy="193.93" r="0.36" fill-opacity="0.23"/><circle cx="645.31" cy="180.96" r="0.41" fill-opacity="0.14"/><circle cx="608.35" cy="180.45" r="0.39" fill-opacity="0.28"/><circle cx="636.77" cy="151.82" r="0.36" fill-opacity="0.20"/><circle cx="633.62" cy="172.63" r="0.37" fill-opacity="0.17"/><circle cx="613.05" cy="169.08" r="0.43" fill-opacity="0.23"/><circle cx="630.93" cy="170" r="0.4" fill-opacity="0.33"/><circle cx="620.13" cy="164.86" r="0.38" fill-opacity="0.20"/><circle cx="638.39" cy="186.92" r="0.42" fill-opacity="0.23"/><circle cx="652.92" cy="181.49" r="0.42" fill-opacity="0.26"/><circle cx="644.06" cy="199.23" r="0.33" fill-opacity="0.23"/><circle cx="623.44" cy="179.28" r="0.34" fill-opacity="0.15"/><circle cx="636.06" cy="181.19" r="0.4" fill-opacity="0.27"/><circle cx="633.25" cy="201.58" r="0.36" fill-opacity="0.21"/><circle cx="651.94" cy="167.64" r="0.37" fill-opacity="0.29"/><circle cx="632.64" cy="162.57" r="0.31" fill-opacity="0.28"/><circle cx="633.25" cy="156.94" r="0.32" fill-opacity="0.29"/><circle cx="643.8" cy="197.01" r="0.39" fill-opacity="0.26"/><circle cx="647.22" cy="183.7" r="0.41" fill-opacity="0.13"/><circle cx="649.41" cy="180.64" r="0.43" fill-opacity="0.26"/><circle cx="634.42" cy="183.93" r="0.43" fill-opacity="0.31"/><circle cx="630" cy="165.64" r="0.41" fill-opacity="0.10"/><circle cx="640.26" cy="189.44" r="0.44" fill-opacity="0.11"/><circle cx="645.11" cy="195.21" r="0.41" fill-opacity="0.17"/></g>
<circle cx="633.5" cy="176.7" r="27.7" fill="none" stroke="#1c1c1c" stroke-width="1.5"/>
<text x="13.5" y="247" font-size="17.5" font-weight="bold" text-anchor="start" fill="#000">D</text>
<text x="360" y="246.5" font-size="17.5" font-weight="bold" text-anchor="start" fill="#000">E</text>
<rect x="58.5" y="289.2" width="18.2" height="95.4" fill="#c8c9f0" stroke="#1a1a1a" stroke-width="1.2"/>
<rect x="85.35" y="318.77" width="17.7" height="65.83" fill="#8e97da" stroke="#1a1a1a" stroke-width="1.2"/>
<rect x="112.35" y="377.44" width="16.9" height="7.16" fill="#5d69b0" stroke="#1a1a1a" stroke-width="1.2"/>
<rect x="138.75" y="381.26" width="16.9" height="3.34" fill="#3f4b8d" stroke="#1a1a1a" stroke-width="1.2"/>
<line x1="94.2" y1="310.67" x2="94.2" y2="328.79" stroke="#1a1a1a" stroke-width="1.2"/>
<line x1="89.6" y1="310.67" x2="98.8" y2="310.67" stroke="#1a1a1a" stroke-width="1.2"/>
<line x1="89.6" y1="328.79" x2="98.8" y2="328.79" stroke="#1a1a1a" stroke-width="1.2"/>
<line x1="120.8" y1="371.24" x2="120.8" y2="384.6" stroke="#1a1a1a" stroke-width="1.2"/>
<line x1="116.2" y1="371.24" x2="125.4" y2="371.24" stroke="#1a1a1a" stroke-width="1.2"/>
<circle cx="61.5" cy="289.2" r="2.3" fill="#c8c9f0" stroke="#1a1a1a" stroke-width="1.05"/>
<circle cx="67.6" cy="289.2" r="2.3" fill="#c8c9f0" stroke="#1a1a1a" stroke-width="1.05"/>
<circle cx="73.7" cy="289.2" r="2.3" fill="#c8c9f0" stroke="#1a1a1a" stroke-width="1.05"/>
<circle cx="94.2" cy="303.51" r="2.3" fill="#8e97da" stroke="#1a1a1a" stroke-width="1.05"/>
<circle cx="94.2" cy="318.77" r="2.3" fill="#8e97da" stroke="#1a1a1a" stroke-width="1.05"/>
<circle cx="94.2" cy="334.99" r="2.3" fill="#8e97da" stroke="#1a1a1a" stroke-width="1.05"/>
<circle cx="120.8" cy="371.24" r="2.3" fill="#5d69b0" stroke="#1a1a1a" stroke-width="1.05"/>
<circle cx="120.8" cy="381.74" r="2.3" fill="#5d69b0" stroke="#1a1a1a" stroke-width="1.05"/>
<circle cx="144.2" cy="382.69" r="2.3" fill="#3f4b8d" stroke="#1a1a1a" stroke-width="1.05"/>
<circle cx="149.2" cy="382.22" r="2.3" fill="#3f4b8d" stroke="#1a1a1a" stroke-width="1.05"/>
<circle cx="152.7" cy="380.31" r="2.3" fill="#3f4b8d" stroke="#1a1a1a" stroke-width="1.05"/>
<line x1="53.4" y1="288.7" x2="53.4" y2="385.2" stroke="#1a1a1a" stroke-width="1.3"/>
<line x1="53.4" y1="384.6" x2="166.4" y2="384.6" stroke="#1a1a1a" stroke-width="1.3"/>
<line x1="47.4" y1="384.6" x2="53.4" y2="384.6" stroke="#1a1a1a" stroke-width="1.1"/>
<text x="44.6" y="387.9" font-size="9.6" text-anchor="end" fill="#222" stroke="#222" stroke-width="0.22">0</text>
<line x1="47.4" y1="336.9" x2="53.4" y2="336.9" stroke="#1a1a1a" stroke-width="1.1"/>
<text x="44.6" y="340.2" font-size="9.6" text-anchor="end" fill="#222" stroke="#222" stroke-width="0.22">50</text>
<line x1="47.4" y1="289.2" x2="53.4" y2="289.2" stroke="#1a1a1a" stroke-width="1.1"/>
<text x="44.6" y="292.5" font-size="9.6" text-anchor="end" fill="#222" stroke="#222" stroke-width="0.22">100</text>
<line x1="67.6" y1="384.6" x2="67.6" y2="388.6" stroke="#1a1a1a" stroke-width="1.1"/>
<text x="67.6" y="397.5" font-size="9.2" text-anchor="middle" fill="#222" stroke="#222" stroke-width="0.22">0µM</text>
<line x1="94.2" y1="384.6" x2="94.2" y2="388.6" stroke="#1a1a1a" stroke-width="1.1"/>
<text x="94.2" y="397.5" font-size="9.2" text-anchor="middle" fill="#222" stroke="#222" stroke-width="0.22">2µM</text>
<line x1="120.8" y1="384.6" x2="120.8" y2="388.6" stroke="#1a1a1a" stroke-width="1.1"/>
<text x="120.8" y="397.5" font-size="9.2" text-anchor="middle" fill="#222" stroke="#222" stroke-width="0.22">4µM</text>
<line x1="147.2" y1="384.6" x2="147.2" y2="388.6" stroke="#1a1a1a" stroke-width="1.1"/>
<text x="147.2" y="397.5" font-size="9.2" text-anchor="middle" fill="#222" stroke="#222" stroke-width="0.22">8µM</text>
<text x="103.6" y="414.5" font-size="9.2" text-anchor="middle" fill="#222" stroke="#222" stroke-width="0.22">FB23-2</text>
<text x="23.6" y="330.9" font-size="9.55" text-anchor="middle" fill="#222" stroke="#222" stroke-width="0.22" transform="rotate(-90 23.6 330.9)">colony number (%)</text>
<path d="M67.4 262.2 L67.4 257.7 L147.4 257.7 L147.4 306" fill="none" stroke="#1a1a1a" stroke-width="1.2"/>
<path d="M101.5 249.6 L101.5 254.4 M99.42 250.8 L103.58 253.2 M103.58 250.8 L99.42 253.2 " fill="none" stroke="#1a1a1a" stroke-width="1"/>
<path d="M108.5 249.6 L108.5 254.4 M106.42 250.8 L110.58 253.2 M110.58 250.8 L106.42 253.2 " fill="none" stroke="#1a1a1a" stroke-width="1"/>
<path d="M115.5 249.6 L115.5 254.4 M113.42 250.8 L117.58 253.2 M117.58 250.8 L113.42 253.2 " fill="none" stroke="#1a1a1a" stroke-width="1"/>
<path d="M67.4 273.1 L67.4 268.6 L121 268.6 L121 304.4" fill="none" stroke="#1a1a1a" stroke-width="1.2"/>
<path d="M90.4 261.5 L90.4 266.3 M88.32 262.7 L92.48 265.1 M92.48 262.7 L88.32 265.1 " fill="none" stroke="#1a1a1a" stroke-width="1"/>
<path d="M97.4 261.5 L97.4 266.3 M95.32 262.7 L99.48 265.1 M99.48 262.7 L95.32 265.1 " fill="none" stroke="#1a1a1a" stroke-width="1"/>
<path d="M104.4 261.5 L104.4 266.3 M102.32 262.7 L106.48 265.1 M106.48 262.7 L102.32 265.1 " fill="none" stroke="#1a1a1a" stroke-width="1"/>
<path d="M67.4 284.1 L67.4 279.6 L94.5 279.6 L94.5 290.3" fill="none" stroke="#1a1a1a" stroke-width="1.2"/>
<path d="M81.6 272.5 L81.6 277.3 M79.52 273.7 L83.68 276.1 M83.68 273.7 L79.52 276.1 " fill="none" stroke="#1a1a1a" stroke-width="1"/>
<text x="193.8" y="242" font-size="9.5" font-weight="bold" text-anchor="middle" fill="#1a1a1a">SU-DIPGXIII</text>
<rect x="224.4" y="287.3" width="18.4" height="94.7" fill="#c8c9f0" stroke="#1a1a1a" stroke-width="1.2"/>
<rect x="252" y="339.38" width="18.4" height="42.62" fill="#8e97da" stroke="#1a1a1a" stroke-width="1.2"/>
<rect x="279.6" y="357.38" width="18.4" height="24.62" fill="#5d69b0" stroke="#1a1a1a" stroke-width="1.2"/>
<line x1="261.2" y1="328.97" x2="261.2" y2="350.75" stroke="#1a1a1a" stroke-width="1.2"/>
<line x1="256.6" y1="328.97" x2="265.8" y2="328.97" stroke="#1a1a1a" stroke-width="1.2"/>
<line x1="256.6" y1="350.75" x2="265.8" y2="350.75" stroke="#1a1a1a" stroke-width="1.2"/>
<line x1="288.8" y1="344.12" x2="288.8" y2="370.64" stroke="#1a1a1a" stroke-width="1.2"/>
<line x1="284.2" y1="344.12" x2="293.4" y2="344.12" stroke="#1a1a1a" stroke-width="1.2"/>
<line x1="284.2" y1="370.64" x2="293.4" y2="370.64" stroke="#1a1a1a" stroke-width="1.2"/>
<circle cx="227.5" cy="287.3" r="2.3" fill="#c8c9f0" stroke="#1a1a1a" stroke-width="1.05"/>
<circle cx="233.6" cy="287.3" r="2.3" fill="#c8c9f0" stroke="#1a1a1a" stroke-width="1.05"/>
<circle cx="239.7" cy="287.3" r="2.3" fill="#c8c9f0" stroke="#1a1a1a" stroke-width="1.05"/>
<circle cx="261.2" cy="323.29" r="2.3" fill="#8e97da" stroke="#1a1a1a" stroke-width="1.05"/>
<circle cx="261.2" cy="337.49" r="2.3" fill="#8e97da" stroke="#1a1a1a" stroke-width="1.05"/>
<circle cx="261.2" cy="358.32" r="2.3" fill="#8e97da" stroke="#1a1a1a" stroke-width="1.05"/>
<circle cx="288.8" cy="344.12" r="2.3" fill="#5d69b0" stroke="#1a1a1a" stroke-width="1.05"/>
<circle cx="288.8" cy="370.64" r="2.3" fill="#5d69b0" stroke="#1a1a1a" stroke-width="1.05"/>
<circle cx="311.9" cy="382" r="2.3" fill="#3f4b8d" stroke="#1a1a1a" stroke-width="1.05"/>
<circle cx="316.4" cy="382" r="2.3" fill="#3f4b8d" stroke="#1a1a1a" stroke-width="1.05"/>
<circle cx="320.9" cy="382" r="2.3" fill="#3f4b8d" stroke="#1a1a1a" stroke-width="1.05"/>
<line x1="219" y1="286.8" x2="219" y2="382.6" stroke="#1a1a1a" stroke-width="1.3"/>
<line x1="219" y1="382" x2="334.7" y2="382" stroke="#1a1a1a" stroke-width="1.3"/>
<line x1="213" y1="382" x2="219" y2="382" stroke="#1a1a1a" stroke-width="1.1"/>
<text x="208.3" y="385.3" font-size="9.6" text-anchor="end" fill="#222" stroke="#222" stroke-width="0.22">0</text>
<line x1="213" y1="334.65" x2="219" y2="334.65" stroke="#1a1a1a" stroke-width="1.1"/>
<text x="208.3" y="337.95" font-size="9.6" text-anchor="end" fill="#222" stroke="#222" stroke-width="0.22">50</text>
<line x1="213" y1="287.3" x2="219" y2="287.3" stroke="#1a1a1a" stroke-width="1.1"/>
<text x="208.3" y="290.6" font-size="9.6" text-anchor="end" fill="#222" stroke="#222" stroke-width="0.22">100</text>
<line x1="233.6" y1="382" x2="233.6" y2="386" stroke="#1a1a1a" stroke-width="1.1"/>
<text x="233.6" y="395.3" font-size="9.2" text-anchor="middle" fill="#222" stroke="#222" stroke-width="0.22">0µM</text>
<line x1="261.2" y1="382" x2="261.2" y2="386" stroke="#1a1a1a" stroke-width="1.1"/>
<text x="261.2" y="395.3" font-size="9.2" text-anchor="middle" fill="#222" stroke="#222" stroke-width="0.22">2µM</text>
<line x1="288.8" y1="382" x2="288.8" y2="386" stroke="#1a1a1a" stroke-width="1.1"/>
<text x="288.8" y="395.3" font-size="9.2" text-anchor="middle" fill="#222" stroke="#222" stroke-width="0.22">4µM</text>
<line x1="316.4" y1="382" x2="316.4" y2="386" stroke="#1a1a1a" stroke-width="1.1"/>
<text x="316.4" y="395.3" font-size="9.2" text-anchor="middle" fill="#222" stroke="#222" stroke-width="0.22">8µM</text>
<text x="273" y="411.5" font-size="9.2" text-anchor="middle" fill="#222" stroke="#222" stroke-width="0.22">FB23-2</text>
<text x="188.2" y="330.5" font-size="9.55" text-anchor="middle" fill="#222" stroke="#222" stroke-width="0.22" transform="rotate(-90 188.2 330.5)">colony size (% )</text>
<path d="M233 261.5 L233 257 L316.9 257 L316.9 304" fill="none" stroke="#1a1a1a" stroke-width="1.2"/>
<path d="M267.8 249.6 L267.8 254.4 M265.72 250.8 L269.88 253.2 M269.88 250.8 L265.72 253.2 " fill="none" stroke="#1a1a1a" stroke-width="1"/>
<path d="M274.8 249.6 L274.8 254.4 M272.72 250.8 L276.88 253.2 M276.88 250.8 L272.72 253.2 " fill="none" stroke="#1a1a1a" stroke-width="1"/>
<path d="M281.8 249.6 L281.8 254.4 M279.72 250.8 L283.88 253.2 M283.88 250.8 L279.72 253.2 " fill="none" stroke="#1a1a1a" stroke-width="1"/>
<path d="M233 272.1 L233 267.6 L288.7 267.6 L288.7 304" fill="none" stroke="#1a1a1a" stroke-width="1.2"/>
<path d="M259 260.2 L259 265 M256.92 261.4 L261.08 263.8 M261.08 261.4 L256.92 263.8 " fill="none" stroke="#1a1a1a" stroke-width="1"/>
<path d="M266 260.2 L266 265 M263.92 261.4 L268.08 263.8 M268.08 261.4 L263.92 263.8 " fill="none" stroke="#1a1a1a" stroke-width="1"/>
<path d="M233 282.5 L233 278 L261 278 L261 298" fill="none" stroke="#1a1a1a" stroke-width="1.2"/>
<path d="M244 271.2 L244 276 M241.92 272.4 L246.08 274.8 M246.08 272.4 L241.92 274.8 " fill="none" stroke="#1a1a1a" stroke-width="1"/>
<path d="M251 271.2 L251 276 M248.92 272.4 L253.08 274.8 M253.08 272.4 L248.92 274.8 " fill="none" stroke="#1a1a1a" stroke-width="1"/>
<rect x="410.3" y="286.7" width="16.4" height="95.4" fill="#c8c9f0" stroke="#1a1a1a" stroke-width="1.2"/>
<rect x="436.8" y="324.86" width="16.4" height="57.24" fill="#8e97da" stroke="#1a1a1a" stroke-width="1.2"/>
<rect x="463.6" y="355.39" width="16.4" height="26.71" fill="#5d69b0" stroke="#1a1a1a" stroke-width="1.2"/>
<rect x="490.8" y="369.7" width="16.4" height="12.4" fill="#3f4b8d" stroke="#1a1a1a" stroke-width="1.2"/>
<line x1="445" y1="309.6" x2="445" y2="341.08" stroke="#1a1a1a" stroke-width="1.2"/>
<line x1="440.4" y1="309.6" x2="449.6" y2="309.6" stroke="#1a1a1a" stroke-width="1.2"/>
<line x1="440.4" y1="341.08" x2="449.6" y2="341.08" stroke="#1a1a1a" stroke-width="1.2"/>
<line x1="471.8" y1="339.17" x2="471.8" y2="371.61" stroke="#1a1a1a" stroke-width="1.2"/>
<line x1="467.2" y1="339.17" x2="476.4" y2="339.17" stroke="#1a1a1a" stroke-width="1.2"/>
<line x1="467.2" y1="371.61" x2="476.4" y2="371.61" stroke="#1a1a1a" stroke-width="1.2"/>
<line x1="499" y1="362.07" x2="499" y2="377.33" stroke="#1a1a1a" stroke-width="1.2"/>
<line x1="494.4" y1="362.07" x2="503.6" y2="362.07" stroke="#1a1a1a" stroke-width="1.2"/>
<line x1="494.4" y1="377.33" x2="503.6" y2="377.33" stroke="#1a1a1a" stroke-width="1.2"/>
<circle cx="412.4" cy="286.7" r="2.3" fill="#c8c9f0" stroke="#1a1a1a" stroke-width="1.05"/>
<circle cx="418.5" cy="286.7" r="2.3" fill="#c8c9f0" stroke="#1a1a1a" stroke-width="1.05"/>
<circle cx="424.6" cy="286.7" r="2.3" fill="#c8c9f0" stroke="#1a1a1a" stroke-width="1.05"/>
<circle cx="445" cy="293.38" r="2.3" fill="#8e97da" stroke="#1a1a1a" stroke-width="1.05"/>
<circle cx="445" cy="338.22" r="2.3" fill="#8e97da" stroke="#1a1a1a" stroke-width="1.05"/>
<circle cx="445" cy="344.42" r="2.3" fill="#8e97da" stroke="#1a1a1a" stroke-width="1.05"/>
<circle cx="471.8" cy="322.95" r="2.3" fill="#5d69b0" stroke="#1a1a1a" stroke-width="1.05"/>
<circle cx="466.8" cy="369.7" r="2.3" fill="#5d69b0" stroke="#1a1a1a" stroke-width="1.05"/>
<circle cx="476.8" cy="373.04" r="2.3" fill="#5d69b0" stroke="#1a1a1a" stroke-width="1.05"/>
<circle cx="499" cy="354.43" r="2.3" fill="#3f4b8d" stroke="#1a1a1a" stroke-width="1.05"/>
<circle cx="494" cy="377.33" r="2.3" fill="#3f4b8d" stroke="#1a1a1a" stroke-width="1.05"/>
<circle cx="504" cy="377.81" r="2.3" fill="#3f4b8d" stroke="#1a1a1a" stroke-width="1.05"/>
<line x1="402.5" y1="286.2" x2="402.5" y2="382.7" stroke="#1a1a1a" stroke-width="1.3"/>
<line x1="402.5" y1="382.1" x2="519.5" y2="382.1" stroke="#1a1a1a" stroke-width="1.3"/>
<line x1="396.5" y1="382.1" x2="402.5" y2="382.1" stroke="#1a1a1a" stroke-width="1.1"/>
<text x="392.2" y="385.4" font-size="9.6" text-anchor="end" fill="#222" stroke="#222" stroke-width="0.22">0</text>
<line x1="396.5" y1="334.4" x2="402.5" y2="334.4" stroke="#1a1a1a" stroke-width="1.1"/>
<text x="392.2" y="337.7" font-size="9.6" text-anchor="end" fill="#222" stroke="#222" stroke-width="0.22">50</text>
<text x="392.2" y="290" font-size="9.6" text-anchor="end" fill="#222" stroke="#222" stroke-width="0.22">100</text>
<line x1="418.5" y1="382.1" x2="418.5" y2="386.1" stroke="#1a1a1a" stroke-width="1.1"/>
<text x="418.5" y="396.3" font-size="9.2" text-anchor="middle" fill="#222" stroke="#222" stroke-width="0.22">0µM</text>
<line x1="445" y1="382.1" x2="445" y2="386.1" stroke="#1a1a1a" stroke-width="1.1"/>
<text x="445" y="396.3" font-size="9.2" text-anchor="middle" fill="#222" stroke="#222" stroke-width="0.22">2µM</text>
<line x1="471.8" y1="382.1" x2="471.8" y2="386.1" stroke="#1a1a1a" stroke-width="1.1"/>
<text x="471.8" y="396.3" font-size="9.2" text-anchor="middle" fill="#222" stroke="#222" stroke-width="0.22">4µM</text>
<line x1="499" y1="382.1" x2="499" y2="386.1" stroke="#1a1a1a" stroke-width="1.1"/>
<text x="499" y="396.3" font-size="9.2" text-anchor="middle" fill="#222" stroke="#222" stroke-width="0.22">8µM</text>
<text x="457.7" y="411" font-size="9.2" text-anchor="middle" fill="#222" stroke="#222" stroke-width="0.22">FB23-2</text>
<text x="370.6" y="327.2" font-size="9.55" text-anchor="middle" fill="#222" stroke="#222" stroke-width="0.22" transform="rotate(-90 370.6 327.2)">colony number (%)</text>
<path d="M416.7 269.5 L416.7 265 L497.6 265 L497.6 295.4" fill="none" stroke="#1a1a1a" stroke-width="1.2"/>
<path d="M449.9 257.6 L449.9 262.4 M447.82 258.8 L451.98 261.2 M451.98 258.8 L447.82 261.2 " fill="none" stroke="#1a1a1a" stroke-width="1"/>
<path d="M456.9 257.6 L456.9 262.4 M454.82 258.8 L458.98 261.2 M458.98 258.8 L454.82 261.2 " fill="none" stroke="#1a1a1a" stroke-width="1"/>
<path d="M463.9 257.6 L463.9 262.4 M461.82 258.8 L465.98 261.2 M465.98 258.8 L461.82 261.2 " fill="none" stroke="#1a1a1a" stroke-width="1"/>
<path d="M416.7 279.5 L416.7 275 L471.4 275 L471.4 296" fill="none" stroke="#1a1a1a" stroke-width="1.2"/>
<path d="M439.5 269.4 L439.5 274.2 M437.42 270.6 L441.58 273 M441.58 270.6 L437.42 273 " fill="none" stroke="#1a1a1a" stroke-width="1"/>
<path d="M446.5 269.4 L446.5 274.2 M444.42 270.6 L448.58 273 M448.58 270.6 L444.42 273 " fill="none" stroke="#1a1a1a" stroke-width="1"/>
<text x="533" y="246" font-size="9.5" font-weight="bold" text-anchor="middle" fill="#1a1a1a">SU-DIPGXVII</text>
<rect x="581" y="285" width="16.6" height="98.2" fill="#c8c9f0" stroke="#1a1a1a" stroke-width="1.2"/>
<rect x="607.3" y="355.02" width="16.6" height="28.18" fill="#8e97da" stroke="#1a1a1a" stroke-width="1.2"/>
<rect x="634.2" y="376.03" width="16.6" height="7.17" fill="#5d69b0" stroke="#1a1a1a" stroke-width="1.2"/>
<line x1="615.6" y1="333.51" x2="615.6" y2="376.33" stroke="#1a1a1a" stroke-width="1.2"/>
<line x1="611" y1="333.51" x2="620.2" y2="333.51" stroke="#1a1a1a" stroke-width="1.2"/>
<line x1="611" y1="376.33" x2="620.2" y2="376.33" stroke="#1a1a1a" stroke-width="1.2"/>
<line x1="642.5" y1="368.96" x2="642.5" y2="383.2" stroke="#1a1a1a" stroke-width="1.2"/>
<line x1="637.9" y1="368.96" x2="647.1" y2="368.96" stroke="#1a1a1a" stroke-width="1.2"/>
<circle cx="583.2" cy="285" r="2.3" fill="#c8c9f0" stroke="#1a1a1a" stroke-width="1.05"/>
<circle cx="589.3" cy="285" r="2.3" fill="#c8c9f0" stroke="#1a1a1a" stroke-width="1.05"/>
<circle cx="595.4" cy="285" r="2.3" fill="#c8c9f0" stroke="#1a1a1a" stroke-width="1.05"/>
<circle cx="615.6" cy="312.5" r="2.3" fill="#8e97da" stroke="#1a1a1a" stroke-width="1.05"/>
<circle cx="609.6" cy="377.31" r="2.3" fill="#8e97da" stroke="#1a1a1a" stroke-width="1.05"/>
<circle cx="621.6" cy="375.34" r="2.3" fill="#8e97da" stroke="#1a1a1a" stroke-width="1.05"/>
<circle cx="642.5" cy="361.6" r="2.3" fill="#5d69b0" stroke="#1a1a1a" stroke-width="1.05"/>
<circle cx="636.5" cy="382.91" r="2.3" fill="#5d69b0" stroke="#1a1a1a" stroke-width="1.05"/>
<circle cx="648.5" cy="382.91" r="2.3" fill="#5d69b0" stroke="#1a1a1a" stroke-width="1.05"/>
<circle cx="663.2" cy="382.91" r="2.3" fill="#3f4b8d" stroke="#1a1a1a" stroke-width="1.05"/>
<circle cx="669.2" cy="382.91" r="2.3" fill="#3f4b8d" stroke="#1a1a1a" stroke-width="1.05"/>
<circle cx="675.2" cy="382.91" r="2.3" fill="#3f4b8d" stroke="#1a1a1a" stroke-width="1.05"/>
<line x1="570.7" y1="284.5" x2="570.7" y2="383.8" stroke="#1a1a1a" stroke-width="1.3"/>
<line x1="570.7" y1="383.2" x2="683.7" y2="383.2" stroke="#1a1a1a" stroke-width="1.3"/>
<line x1="564.7" y1="383.2" x2="570.7" y2="383.2" stroke="#1a1a1a" stroke-width="1.1"/>
<text x="559.4" y="386.5" font-size="9.6" text-anchor="end" fill="#222" stroke="#222" stroke-width="0.22">0</text>
<line x1="564.7" y1="334.1" x2="570.7" y2="334.1" stroke="#1a1a1a" stroke-width="1.1"/>
<text x="559.4" y="337.4" font-size="9.6" text-anchor="end" fill="#222" stroke="#222" stroke-width="0.22">50</text>
<line x1="564.7" y1="285" x2="570.7" y2="285" stroke="#1a1a1a" stroke-width="1.1"/>
<text x="559.4" y="288.3" font-size="9.6" text-anchor="end" fill="#222" stroke="#222" stroke-width="0.22">100</text>
<line x1="589.3" y1="383.2" x2="589.3" y2="387.2" stroke="#1a1a1a" stroke-width="1.1"/>
<text x="589.3" y="396.3" font-size="9.2" text-anchor="middle" fill="#222" stroke="#222" stroke-width="0.22">0µM</text>
<line x1="615.6" y1="383.2" x2="615.6" y2="387.2" stroke="#1a1a1a" stroke-width="1.1"/>
<text x="615.6" y="396.3" font-size="9.2" text-anchor="middle" fill="#222" stroke="#222" stroke-width="0.22">2µM</text>
<line x1="642.5" y1="383.2" x2="642.5" y2="387.2" stroke="#1a1a1a" stroke-width="1.1"/>
<text x="642.5" y="396.3" font-size="9.2" text-anchor="middle" fill="#222" stroke="#222" stroke-width="0.22">4µM</text>
<line x1="669.2" y1="383.2" x2="669.2" y2="387.2" stroke="#1a1a1a" stroke-width="1.1"/>
<text x="669.2" y="396.3" font-size="9.2" text-anchor="middle" fill="#222" stroke="#222" stroke-width="0.22">8µM</text>
<text x="628" y="411" font-size="9.2" text-anchor="middle" fill="#222" stroke="#222" stroke-width="0.22">FB23-2</text>
<text x="540.5" y="329.4" font-size="9.55" text-anchor="middle" fill="#222" stroke="#222" stroke-width="0.22" transform="rotate(-90 540.5 329.4)">colony size (% )</text>
<path d="M587 257.1 L587 252.6 L669.7 252.6 L669.7 293.8" fill="none" stroke="#1a1a1a" stroke-width="1.2"/>
<path d="M618.9 245.7 L618.9 250.5 M616.82 246.9 L620.98 249.3 M620.98 246.9 L616.82 249.3 " fill="none" stroke="#1a1a1a" stroke-width="1"/>
<path d="M625.9 245.7 L625.9 250.5 M623.82 246.9 L627.98 249.3 M627.98 246.9 L623.82 249.3 " fill="none" stroke="#1a1a1a" stroke-width="1"/>
<path d="M632.9 245.7 L632.9 250.5 M630.82 246.9 L634.98 249.3 M634.98 246.9 L630.82 249.3 " fill="none" stroke="#1a1a1a" stroke-width="1"/>
<path d="M587 268.9 L587 264.4 L642 264.4 L642 293.8" fill="none" stroke="#1a1a1a" stroke-width="1.2"/>
<path d="M607.8 257.3 L607.8 262.1 M605.72 258.5 L609.88 260.9 M609.88 258.5 L605.72 260.9 " fill="none" stroke="#1a1a1a" stroke-width="1"/>
<path d="M614.8 257.3 L614.8 262.1 M612.72 258.5 L616.88 260.9 M616.88 258.5 L612.72 260.9 " fill="none" stroke="#1a1a1a" stroke-width="1"/>
<path d="M621.8 257.3 L621.8 262.1 M619.72 258.5 L623.88 260.9 M623.88 258.5 L619.72 260.9 " fill="none" stroke="#1a1a1a" stroke-width="1"/>
<path d="M587 278.5 L587 274 L615.3 274 L615.3 293.8" fill="none" stroke="#1a1a1a" stroke-width="1.2"/>
<path d="M600 267.8 L600 272.6 M597.92 269 L602.08 271.4 M602.08 269 L597.92 271.4 " fill="none" stroke="#1a1a1a" stroke-width="1"/>
<path d="M607 267.8 L607 272.6 M604.92 269 L609.08 271.4 M609.08 269 L604.92 271.4 " fill="none" stroke="#1a1a1a" stroke-width="1"/>
<text x="3.5" y="435" font-size="17.5" font-weight="bold" text-anchor="start" fill="#000">F</text>
<text x="8.5" y="498.8" font-size="9.2" font-weight="bold" text-anchor="middle" fill="#1a1a1a" transform="rotate(-90 8.5 498.8)">SU-DIPGXIII</text>
<text x="21.5" y="503.3" font-size="9.6" text-anchor="middle" fill="#222" stroke="#222" stroke-width="0.22" transform="rotate(-90 21.5 503.3)">Count</text>
<text x="8.5" y="637.8" font-size="9.2" font-weight="bold" text-anchor="middle" fill="#1a1a1a" transform="rotate(-90 8.5 637.8)">SU-DIPGXVII</text>
<text x="21.9" y="638.4" font-size="9.6" text-anchor="middle" fill="#222" stroke="#222" stroke-width="0.22" transform="rotate(-90 21.9 638.4)">Count</text>
<path d="M45.62 551.3 L45.62 546.17 L46.42 547.78 L47.23 549.71 L48.83 550.67 L56.06 550.99 L64.09 550.67 L66.02 548.58 L66.98 544.57 L68.1 534.93 L69.23 517.27 L70.51 496.39 L71.48 477.12 L72.44 461.06 L73.24 457.04 L74.05 464.27 L75.01 485.15 L76.13 506.02 L77.26 520.48 L78.54 528.51 L80.15 532.52 L82.07 534.13 L84.16 535.25 L88.18 535.25 L91.39 534.13 L95.4 533.33 L97.01 534.93 L98.62 536.54 L100.22 539.75 L101.83 543.76 L103.43 547.46 L105.84 549.71 L109.05 550.67 L117.08 550.99 L145.99 551.3 L145.99 551.3 Z" fill="#d2d1f3" stroke="none" stroke-width="1"/>
<rect x="45.3" y="450.3" width="100.7" height="101" fill="none" stroke="#c4c4c4" stroke-width="0.9"/>
<line x1="42.3" y1="469.1" x2="45.3" y2="469.1" stroke="#555" stroke-width="0.9"/>
<text x="40.5" y="472.3" font-size="9" text-anchor="end" fill="#333" stroke="#333" stroke-width="0.22">600</text>
<line x1="42.3" y1="496.4" x2="45.3" y2="496.4" stroke="#555" stroke-width="0.9"/>
<text x="40.5" y="499.6" font-size="9" text-anchor="end" fill="#333" stroke="#333" stroke-width="0.22">400</text>
<line x1="42.3" y1="523.8" x2="45.3" y2="523.8" stroke="#555" stroke-width="0.9"/>
<text x="40.5" y="527" font-size="9" text-anchor="end" fill="#333" stroke="#333" stroke-width="0.22">200</text>
<line x1="42.3" y1="551.2" x2="45.3" y2="551.2" stroke="#555" stroke-width="0.9"/>
<text x="40.5" y="554.4" font-size="9" text-anchor="end" fill="#333" stroke="#333" stroke-width="0.22">0</text>
<line x1="44.1" y1="551.2" x2="45.3" y2="551.2" stroke="#777" stroke-width="0.7"/>
<line x1="44.1" y1="544.35" x2="45.3" y2="544.35" stroke="#777" stroke-width="0.7"/>
<line x1="44.1" y1="537.5" x2="45.3" y2="537.5" stroke="#777" stroke-width="0.7"/>
<line x1="44.1" y1="530.65" x2="45.3" y2="530.65" stroke="#777" stroke-width="0.7"/>
<line x1="44.1" y1="523.8" x2="45.3" y2="523.8" stroke="#777" stroke-width="0.7"/>
<line x1="44.1" y1="516.95" x2="45.3" y2="516.95" stroke="#777" stroke-width="0.7"/>
<line x1="44.1" y1="510.1" x2="45.3" y2="510.1" stroke="#777" stroke-width="0.7"/>
<line x1="44.1" y1="503.25" x2="45.3" y2="503.25" stroke="#777" stroke-width="0.7"/>
<line x1="44.1" y1="496.4" x2="45.3" y2="496.4" stroke="#777" stroke-width="0.7"/>
<line x1="44.1" y1="489.55" x2="45.3" y2="489.55" stroke="#777" stroke-width="0.7"/>
<line x1="44.1" y1="482.7" x2="45.3" y2="482.7" stroke="#777" stroke-width="0.7"/>
<line x1="44.1" y1="475.85" x2="45.3" y2="475.85" stroke="#777" stroke-width="0.7"/>
<line x1="44.1" y1="469" x2="45.3" y2="469" stroke="#777" stroke-width="0.7"/>
<line x1="44.1" y1="462.15" x2="45.3" y2="462.15" stroke="#777" stroke-width="0.7"/>
<line x1="44.1" y1="455.3" x2="45.3" y2="455.3" stroke="#777" stroke-width="0.7"/>
<line x1="45.5" y1="551.3" x2="45.5" y2="552.6" stroke="#777" stroke-width="0.7"/>
<line x1="51.24" y1="551.3" x2="51.24" y2="552.6" stroke="#777" stroke-width="0.7"/>
<line x1="56.98" y1="551.3" x2="56.98" y2="552.6" stroke="#777" stroke-width="0.7"/>
<line x1="62.72" y1="551.3" x2="62.72" y2="552.6" stroke="#777" stroke-width="0.7"/>
<line x1="68.46" y1="551.3" x2="68.46" y2="552.6" stroke="#777" stroke-width="0.7"/>
<line x1="74.2" y1="551.3" x2="74.2" y2="552.6" stroke="#777" stroke-width="0.7"/>
<line x1="79.94" y1="551.3" x2="79.94" y2="552.6" stroke="#777" stroke-width="0.7"/>
<line x1="85.68" y1="551.3" x2="85.68" y2="552.6" stroke="#777" stroke-width="0.7"/>
<line x1="91.42" y1="551.3" x2="91.42" y2="552.6" stroke="#777" stroke-width="0.7"/>
<line x1="97.16" y1="551.3" x2="97.16" y2="552.6" stroke="#777" stroke-width="0.7"/>
<line x1="102.9" y1="551.3" x2="102.9" y2="552.6" stroke="#777" stroke-width="0.7"/>
<line x1="108.64" y1="551.3" x2="108.64" y2="552.6" stroke="#777" stroke-width="0.7"/>
<line x1="114.38" y1="551.3" x2="114.38" y2="552.6" stroke="#777" stroke-width="0.7"/>
<line x1="120.12" y1="551.3" x2="120.12" y2="552.6" stroke="#777" stroke-width="0.7"/>
<line x1="125.86" y1="551.3" x2="125.86" y2="552.6" stroke="#777" stroke-width="0.7"/>
<line x1="131.6" y1="551.3" x2="131.6" y2="552.6" stroke="#777" stroke-width="0.7"/>
<line x1="137.34" y1="551.3" x2="137.34" y2="552.6" stroke="#777" stroke-width="0.7"/>
<line x1="143.08" y1="551.3" x2="143.08" y2="552.6" stroke="#777" stroke-width="0.7"/>
<line x1="45.5" y1="551.3" x2="45.5" y2="554.3" stroke="#555" stroke-width="0.9"/>
<text x="45.5" y="562.8" font-size="8.4" text-anchor="middle" fill="#333" stroke="#333" stroke-width="0.22">0</text>
<line x1="74.2" y1="551.3" x2="74.2" y2="554.3" stroke="#555" stroke-width="0.9"/>
<text x="75.2" y="562.8" font-size="8.4" text-anchor="middle" fill="#333" stroke="#333" stroke-width="0.22">50K</text>
<line x1="102.9" y1="551.3" x2="102.9" y2="554.3" stroke="#555" stroke-width="0.9"/>
<text x="103.9" y="562.8" font-size="8.4" text-anchor="middle" fill="#333" stroke="#333" stroke-width="0.22">100K</text>
<line x1="131.6" y1="551.3" x2="131.6" y2="554.3" stroke="#555" stroke-width="0.9"/>
<text x="132.6" y="562.8" font-size="8.4" text-anchor="middle" fill="#333" stroke="#333" stroke-width="0.22">150K</text>
<text x="87.2" y="568.5" font-size="10" text-anchor="middle" fill="#333" stroke="#333" stroke-width="0.22">PI</text>
<text x="92" y="447.5" font-size="10" text-anchor="middle" fill="#222" stroke="#222" stroke-width="0.22">0µM</text>
<rect x="67.8" y="470.56" width="8.96" height="23.5" fill="#ffffff" stroke="none" stroke-width="1" fill-opacity="0.68"/>
<line x1="45.62" y1="516.14" x2="65.69" y2="516.14" stroke="#555" stroke-width="1"/>
<line x1="45.62" y1="514.14" x2="45.62" y2="518.14" stroke="#555" stroke-width="0.9"/>
<line x1="65.69" y1="514.14" x2="65.69" y2="518.14" stroke="#555" stroke-width="0.9"/>
<line x1="67.3" y1="487.56" x2="77.26" y2="487.56" stroke="#555" stroke-width="1"/>
<line x1="67.3" y1="485.56" x2="67.3" y2="489.56" stroke="#555" stroke-width="0.9"/>
<line x1="77.26" y1="485.56" x2="77.26" y2="489.56" stroke="#555" stroke-width="0.9"/>
<line x1="77.26" y1="492.7" x2="90.59" y2="492.7" stroke="#555" stroke-width="1"/>
<line x1="77.26" y1="490.7" x2="77.26" y2="494.7" stroke="#555" stroke-width="0.9"/>
<line x1="90.59" y1="490.7" x2="90.59" y2="494.7" stroke="#555" stroke-width="0.9"/>
<line x1="90.59" y1="498" x2="109.38" y2="498" stroke="#555" stroke-width="1"/>
<line x1="90.59" y1="496" x2="90.59" y2="500" stroke="#555" stroke-width="0.9"/>
<line x1="109.38" y1="496" x2="109.38" y2="500" stroke="#555" stroke-width="0.9"/>
<text x="54.45" y="514.02" font-size="8.4" text-anchor="middle" fill="#333" stroke="#333" stroke-width="0.22">3</text>
<text x="71.64" y="477.89" font-size="8.6" font-weight="bold" text-anchor="middle" fill="#111">G1</text>
<text x="72.12" y="485.92" font-size="8.4" text-anchor="middle" fill="#333" stroke="#333" stroke-width="0.22">54</text>
<text x="83.68" y="482.71" font-size="8.6" font-weight="bold" text-anchor="middle" fill="#111">S</text>
<text x="84.97" y="491.38" font-size="8.4" text-anchor="middle" fill="#333" stroke="#333" stroke-width="0.22">21</text>
<text x="99.9" y="489.94" font-size="8.6" font-weight="bold" text-anchor="middle" fill="#111">G2</text>
<text x="100.22" y="497.96" font-size="8.4" text-anchor="middle" fill="#333" stroke="#333" stroke-width="0.22">20</text>
<path d="M179.34 551.3 L179.34 544.57 L180.14 547.78 L181.42 550.19 L184.64 550.99 L199.09 550.67 L201.5 549.38 L202.62 546.17 L203.59 538.14 L204.39 525.3 L205.19 509.24 L205.83 493.18 L206.64 473.91 L207.28 460.26 L208.08 469.09 L209.05 491.57 L210.01 509.24 L211.13 520.48 L212.26 526.9 L213.54 530.11 L215.95 533 L219.16 534.13 L221.57 534.93 L223.18 536.54 L225.59 537.34 L228 535.73 L231.21 533.33 L232.49 533 L233.62 537.34 L235.22 541.35 L236.83 545.37 L238.43 549.06 L240.84 550.67 L245.66 551.3 L280.99 551.3 L280.99 551.3 Z" fill="#adb4e6" stroke="none" stroke-width="1"/>
<rect x="179.3" y="451.4" width="101.4" height="99.9" fill="none" stroke="#c4c4c4" stroke-width="0.9"/>
<line x1="176.3" y1="475.4" x2="179.3" y2="475.4" stroke="#555" stroke-width="0.9"/>
<text x="173.9" y="478.6" font-size="9" text-anchor="end" fill="#333" stroke="#333" stroke-width="0.22">600</text>
<line x1="176.3" y1="500.5" x2="179.3" y2="500.5" stroke="#555" stroke-width="0.9"/>
<text x="173.9" y="503.7" font-size="9" text-anchor="end" fill="#333" stroke="#333" stroke-width="0.22">400</text>
<line x1="176.3" y1="525.7" x2="179.3" y2="525.7" stroke="#555" stroke-width="0.9"/>
<text x="173.9" y="528.9" font-size="9" text-anchor="end" fill="#333" stroke="#333" stroke-width="0.22">200</text>
<line x1="176.3" y1="551.6" x2="179.3" y2="551.6" stroke="#555" stroke-width="0.9"/>
<text x="173.9" y="554.8" font-size="9" text-anchor="end" fill="#333" stroke="#333" stroke-width="0.22">0</text>
<line x1="178.1" y1="551.6" x2="179.3" y2="551.6" stroke="#777" stroke-width="0.7"/>
<line x1="178.1" y1="545.12" x2="179.3" y2="545.12" stroke="#777" stroke-width="0.7"/>
<line x1="178.1" y1="538.65" x2="179.3" y2="538.65" stroke="#777" stroke-width="0.7"/>
<line x1="178.1" y1="532.17" x2="179.3" y2="532.17" stroke="#777" stroke-width="0.7"/>
<line x1="178.1" y1="525.7" x2="179.3" y2="525.7" stroke="#777" stroke-width="0.7"/>
<line x1="178.1" y1="519.22" x2="179.3" y2="519.22" stroke="#777" stroke-width="0.7"/>
<line x1="178.1" y1="512.75" x2="179.3" y2="512.75" stroke="#777" stroke-width="0.7"/>
<line x1="178.1" y1="506.27" x2="179.3" y2="506.27" stroke="#777" stroke-width="0.7"/>
<line x1="178.1" y1="499.8" x2="179.3" y2="499.8" stroke="#777" stroke-width="0.7"/>
<line x1="178.1" y1="493.32" x2="179.3" y2="493.32" stroke="#777" stroke-width="0.7"/>
<line x1="178.1" y1="486.85" x2="179.3" y2="486.85" stroke="#777" stroke-width="0.7"/>
<line x1="178.1" y1="480.37" x2="179.3" y2="480.37" stroke="#777" stroke-width="0.7"/>
<line x1="178.1" y1="473.9" x2="179.3" y2="473.9" stroke="#777" stroke-width="0.7"/>
<line x1="178.1" y1="467.42" x2="179.3" y2="467.42" stroke="#777" stroke-width="0.7"/>
<line x1="178.1" y1="460.95" x2="179.3" y2="460.95" stroke="#777" stroke-width="0.7"/>
<line x1="178.1" y1="454.47" x2="179.3" y2="454.47" stroke="#777" stroke-width="0.7"/>
<line x1="179.4" y1="551.3" x2="179.4" y2="552.6" stroke="#777" stroke-width="0.7"/>
<line x1="185.1" y1="551.3" x2="185.1" y2="552.6" stroke="#777" stroke-width="0.7"/>
<line x1="190.8" y1="551.3" x2="190.8" y2="552.6" stroke="#777" stroke-width="0.7"/>
<line x1="196.5" y1="551.3" x2="196.5" y2="552.6" stroke="#777" stroke-width="0.7"/>
<line x1="202.2" y1="551.3" x2="202.2" y2="552.6" stroke="#777" stroke-width="0.7"/>
<line x1="207.9" y1="551.3" x2="207.9" y2="552.6" stroke="#777" stroke-width="0.7"/>
<line x1="213.6" y1="551.3" x2="213.6" y2="552.6" stroke="#777" stroke-width="0.7"/>
<line x1="219.3" y1="551.3" x2="219.3" y2="552.6" stroke="#777" stroke-width="0.7"/>
<line x1="225" y1="551.3" x2="225" y2="552.6" stroke="#777" stroke-width="0.7"/>
<line x1="230.7" y1="551.3" x2="230.7" y2="552.6" stroke="#777" stroke-width="0.7"/>
<line x1="236.4" y1="551.3" x2="236.4" y2="552.6" stroke="#777" stroke-width="0.7"/>
<line x1="242.1" y1="551.3" x2="242.1" y2="552.6" stroke="#777" stroke-width="0.7"/>
<line x1="247.8" y1="551.3" x2="247.8" y2="552.6" stroke="#777" stroke-width="0.7"/>
<line x1="253.5" y1="551.3" x2="253.5" y2="552.6" stroke="#777" stroke-width="0.7"/>
<line x1="259.2" y1="551.3" x2="259.2" y2="552.6" stroke="#777" stroke-width="0.7"/>
<line x1="264.9" y1="551.3" x2="264.9" y2="552.6" stroke="#777" stroke-width="0.7"/>
<line x1="270.6" y1="551.3" x2="270.6" y2="552.6" stroke="#777" stroke-width="0.7"/>
<line x1="276.3" y1="551.3" x2="276.3" y2="552.6" stroke="#777" stroke-width="0.7"/>
<line x1="179.4" y1="551.3" x2="179.4" y2="554.3" stroke="#555" stroke-width="0.9"/>
<text x="179.4" y="562.8" font-size="8.4" text-anchor="middle" fill="#333" stroke="#333" stroke-width="0.22">0</text>
<line x1="207.9" y1="551.3" x2="207.9" y2="554.3" stroke="#555" stroke-width="0.9"/>
<text x="208.9" y="562.8" font-size="8.4" text-anchor="middle" fill="#333" stroke="#333" stroke-width="0.22">50K</text>
<line x1="236.3" y1="551.3" x2="236.3" y2="554.3" stroke="#555" stroke-width="0.9"/>
<text x="237.3" y="562.8" font-size="8.4" text-anchor="middle" fill="#333" stroke="#333" stroke-width="0.22">100K</text>
<line x1="264.8" y1="551.3" x2="264.8" y2="554.3" stroke="#555" stroke-width="0.9"/>
<text x="265.8" y="562.8" font-size="8.4" text-anchor="middle" fill="#333" stroke="#333" stroke-width="0.22">150K</text>
<text x="224.3" y="573.2" font-size="10" text-anchor="middle" fill="#333" stroke="#333" stroke-width="0.22">PI</text>
<text x="227.6" y="447.8" font-size="10" text-anchor="middle" fill="#222" stroke="#222" stroke-width="0.22">2µM</text>
<rect x="202.16" y="470.07" width="9.6" height="23.5" fill="#ffffff" stroke="none" stroke-width="1" fill-opacity="0.68"/>
<line x1="179.34" y1="518.55" x2="200.37" y2="518.55" stroke="#555" stroke-width="1"/>
<line x1="179.34" y1="516.55" x2="179.34" y2="520.55" stroke="#555" stroke-width="0.9"/>
<line x1="200.37" y1="516.55" x2="200.37" y2="520.55" stroke="#555" stroke-width="0.9"/>
<line x1="201.66" y1="487.07" x2="212.26" y2="487.07" stroke="#555" stroke-width="1"/>
<line x1="201.66" y1="485.07" x2="201.66" y2="489.07" stroke="#555" stroke-width="0.9"/>
<line x1="212.26" y1="485.07" x2="212.26" y2="489.07" stroke="#555" stroke-width="0.9"/>
<line x1="212.26" y1="492.37" x2="225.59" y2="492.37" stroke="#555" stroke-width="1"/>
<line x1="212.26" y1="490.37" x2="212.26" y2="494.37" stroke="#555" stroke-width="0.9"/>
<line x1="225.59" y1="490.37" x2="225.59" y2="494.37" stroke="#555" stroke-width="0.9"/>
<line x1="225.59" y1="497.51" x2="244.38" y2="497.51" stroke="#555" stroke-width="1"/>
<line x1="225.59" y1="495.51" x2="225.59" y2="499.51" stroke="#555" stroke-width="0.9"/>
<line x1="244.38" y1="495.51" x2="244.38" y2="499.51" stroke="#555" stroke-width="0.9"/>
<text x="189.77" y="516.75" font-size="8.4" text-anchor="middle" fill="#333" stroke="#333" stroke-width="0.22">4</text>
<text x="207.12" y="473.07" font-size="8.6" font-weight="bold" text-anchor="middle" fill="#111">G1</text>
<text x="207.12" y="482.23" font-size="8.4" text-anchor="middle" fill="#333" stroke="#333" stroke-width="0.22">51</text>
<text x="218.68" y="481.75" font-size="8.6" font-weight="bold" text-anchor="middle" fill="#111">S</text>
<text x="219.32" y="490.26" font-size="8.4" text-anchor="middle" fill="#333" stroke="#333" stroke-width="0.22">25</text>
<text x="235.22" y="488.65" font-size="8.6" font-weight="bold" text-anchor="middle" fill="#111">G2</text>
<text x="235.22" y="496.68" font-size="8.4" text-anchor="middle" fill="#333" stroke="#333" stroke-width="0.22">18</text>
<path d="M315.3 551.8 L315.3 540.55 L315.78 544.57 L316.74 549.38 L318.03 550.99 L326.06 550.99 L334.09 550.67 L337.62 549.38 L338.91 546.17 L339.71 538.14 L340.51 517.27 L341.48 493.18 L342.44 472.3 L343.4 460.26 L344.21 470.69 L345.33 491.57 L346.61 506.02 L347.74 512.45 L348.86 517.27 L350.15 520.48 L351.43 525.3 L353.04 526.9 L354.97 528.51 L357.37 530.11 L359.78 532.52 L363 534.93 L366.21 535.73 L369.42 535.41 L371.02 539.75 L372.63 543.76 L374.24 546.98 L376.65 550.19 L380.66 551.31 L415.99 551.79 L415.99 551.8 Z" fill="#8890c6" stroke="none" stroke-width="1"/>
<rect x="315.3" y="451.4" width="100.7" height="100.4" fill="none" stroke="#c4c4c4" stroke-width="0.9"/>
<line x1="312.3" y1="464.4" x2="315.3" y2="464.4" stroke="#555" stroke-width="0.9"/>
<text x="310" y="467.6" font-size="9" text-anchor="end" fill="#333" stroke="#333" stroke-width="0.22">600</text>
<line x1="312.3" y1="493.5" x2="315.3" y2="493.5" stroke="#555" stroke-width="0.9"/>
<text x="310" y="496.7" font-size="9" text-anchor="end" fill="#333" stroke="#333" stroke-width="0.22">400</text>
<line x1="312.3" y1="522.9" x2="315.3" y2="522.9" stroke="#555" stroke-width="0.9"/>
<text x="310" y="526.1" font-size="9" text-anchor="end" fill="#333" stroke="#333" stroke-width="0.22">200</text>
<line x1="312.3" y1="552" x2="315.3" y2="552" stroke="#555" stroke-width="0.9"/>
<text x="310" y="555.2" font-size="9" text-anchor="end" fill="#333" stroke="#333" stroke-width="0.22">0</text>
<line x1="314.1" y1="552" x2="315.3" y2="552" stroke="#777" stroke-width="0.7"/>
<line x1="314.1" y1="544.73" x2="315.3" y2="544.73" stroke="#777" stroke-width="0.7"/>
<line x1="314.1" y1="537.45" x2="315.3" y2="537.45" stroke="#777" stroke-width="0.7"/>
<line x1="314.1" y1="530.18" x2="315.3" y2="530.18" stroke="#777" stroke-width="0.7"/>
<line x1="314.1" y1="522.9" x2="315.3" y2="522.9" stroke="#777" stroke-width="0.7"/>
<line x1="314.1" y1="515.63" x2="315.3" y2="515.63" stroke="#777" stroke-width="0.7"/>
<line x1="314.1" y1="508.35" x2="315.3" y2="508.35" stroke="#777" stroke-width="0.7"/>
<line x1="314.1" y1="501.08" x2="315.3" y2="501.08" stroke="#777" stroke-width="0.7"/>
<line x1="314.1" y1="493.8" x2="315.3" y2="493.8" stroke="#777" stroke-width="0.7"/>
<line x1="314.1" y1="486.53" x2="315.3" y2="486.53" stroke="#777" stroke-width="0.7"/>
<line x1="314.1" y1="479.25" x2="315.3" y2="479.25" stroke="#777" stroke-width="0.7"/>
<line x1="314.1" y1="471.98" x2="315.3" y2="471.98" stroke="#777" stroke-width="0.7"/>
<line x1="314.1" y1="464.7" x2="315.3" y2="464.7" stroke="#777" stroke-width="0.7"/>
<line x1="314.1" y1="457.43" x2="315.3" y2="457.43" stroke="#777" stroke-width="0.7"/>
<line x1="315.3" y1="551.8" x2="315.3" y2="553.1" stroke="#777" stroke-width="0.7"/>
<line x1="320.82" y1="551.8" x2="320.82" y2="553.1" stroke="#777" stroke-width="0.7"/>
<line x1="326.34" y1="551.8" x2="326.34" y2="553.1" stroke="#777" stroke-width="0.7"/>
<line x1="331.86" y1="551.8" x2="331.86" y2="553.1" stroke="#777" stroke-width="0.7"/>
<line x1="337.38" y1="551.8" x2="337.38" y2="553.1" stroke="#777" stroke-width="0.7"/>
<line x1="342.9" y1="551.8" x2="342.9" y2="553.1" stroke="#777" stroke-width="0.7"/>
<line x1="348.42" y1="551.8" x2="348.42" y2="553.1" stroke="#777" stroke-width="0.7"/>
<line x1="353.94" y1="551.8" x2="353.94" y2="553.1" stroke="#777" stroke-width="0.7"/>
<line x1="359.46" y1="551.8" x2="359.46" y2="553.1" stroke="#777" stroke-width="0.7"/>
<line x1="364.98" y1="551.8" x2="364.98" y2="553.1" stroke="#777" stroke-width="0.7"/>
<line x1="370.5" y1="551.8" x2="370.5" y2="553.1" stroke="#777" stroke-width="0.7"/>
<line x1="376.02" y1="551.8" x2="376.02" y2="553.1" stroke="#777" stroke-width="0.7"/>
<line x1="381.54" y1="551.8" x2="381.54" y2="553.1" stroke="#777" stroke-width="0.7"/>
<line x1="387.06" y1="551.8" x2="387.06" y2="553.1" stroke="#777" stroke-width="0.7"/>
<line x1="392.58" y1="551.8" x2="392.58" y2="553.1" stroke="#777" stroke-width="0.7"/>
<line x1="398.1" y1="551.8" x2="398.1" y2="553.1" stroke="#777" stroke-width="0.7"/>
<line x1="403.62" y1="551.8" x2="403.62" y2="553.1" stroke="#777" stroke-width="0.7"/>
<line x1="409.14" y1="551.8" x2="409.14" y2="553.1" stroke="#777" stroke-width="0.7"/>
<line x1="414.66" y1="551.8" x2="414.66" y2="553.1" stroke="#777" stroke-width="0.7"/>
<line x1="315.3" y1="551.8" x2="315.3" y2="554.8" stroke="#555" stroke-width="0.9"/>
<text x="315.3" y="563.3" font-size="8.4" text-anchor="middle" fill="#333" stroke="#333" stroke-width="0.22">0</text>
<line x1="342.9" y1="551.8" x2="342.9" y2="554.8" stroke="#555" stroke-width="0.9"/>
<text x="343.9" y="563.3" font-size="8.4" text-anchor="middle" fill="#333" stroke="#333" stroke-width="0.22">50K</text>
<line x1="371.3" y1="551.8" x2="371.3" y2="554.8" stroke="#555" stroke-width="0.9"/>
<text x="372.3" y="563.3" font-size="8.4" text-anchor="middle" fill="#333" stroke="#333" stroke-width="0.22">100K</text>
<line x1="400.9" y1="551.8" x2="400.9" y2="554.8" stroke="#555" stroke-width="0.9"/>
<text x="401.9" y="563.3" font-size="8.4" text-anchor="middle" fill="#333" stroke="#333" stroke-width="0.22">150K</text>
<text x="358.9" y="573.2" font-size="10" text-anchor="middle" fill="#333" stroke="#333" stroke-width="0.22">PI</text>
<text x="364.3" y="447.5" font-size="10" text-anchor="middle" fill="#222" stroke="#222" stroke-width="0.22">4µM</text>
<rect x="339.41" y="470.56" width="9.44" height="23.5" fill="#ffffff" stroke="none" stroke-width="1" fill-opacity="0.68"/>
<line x1="315.3" y1="515.98" x2="336.5" y2="515.98" stroke="#555" stroke-width="1"/>
<line x1="315.3" y1="513.98" x2="315.3" y2="517.98" stroke="#555" stroke-width="0.9"/>
<line x1="336.5" y1="513.98" x2="336.5" y2="517.98" stroke="#555" stroke-width="0.9"/>
<line x1="338.91" y1="487.56" x2="349.34" y2="487.56" stroke="#555" stroke-width="1"/>
<line x1="338.91" y1="485.56" x2="338.91" y2="489.56" stroke="#555" stroke-width="0.9"/>
<line x1="349.34" y1="485.56" x2="349.34" y2="489.56" stroke="#555" stroke-width="0.9"/>
<line x1="349.34" y1="492.37" x2="365.08" y2="492.37" stroke="#555" stroke-width="1"/>
<line x1="349.34" y1="490.37" x2="349.34" y2="494.37" stroke="#555" stroke-width="0.9"/>
<line x1="365.08" y1="490.37" x2="365.08" y2="494.37" stroke="#555" stroke-width="0.9"/>
<line x1="365.08" y1="498" x2="380.66" y2="498" stroke="#555" stroke-width="1"/>
<line x1="365.08" y1="496" x2="365.08" y2="500" stroke="#555" stroke-width="0.9"/>
<line x1="380.66" y1="496" x2="380.66" y2="500" stroke="#555" stroke-width="0.9"/>
<text x="325.58" y="514.35" font-size="8.4" text-anchor="middle" fill="#333" stroke="#333" stroke-width="0.22">5</text>
<text x="343.24" y="475.8" font-size="8.6" font-weight="bold" text-anchor="middle" fill="#111">G1</text>
<text x="343.72" y="484.64" font-size="8.4" text-anchor="middle" fill="#333" stroke="#333" stroke-width="0.22">45</text>
<text x="356.89" y="481.42" font-size="8.6" font-weight="bold" text-anchor="middle" fill="#111">S</text>
<text x="357.86" y="490.26" font-size="8.4" text-anchor="middle" fill="#333" stroke="#333" stroke-width="0.22">33</text>
<text x="373.11" y="488.17" font-size="8.6" font-weight="bold" text-anchor="middle" fill="#111">G2</text>
<text x="373.11" y="496.68" font-size="8.4" text-anchor="middle" fill="#333" stroke="#333" stroke-width="0.22">15</text>
<path d="M447.82 551.8 L447.82 538.14 L448.46 542.96 L449.42 547.78 L451.03 549.06 L459.06 549.71 L467.09 549.38 L470.62 547.78 L471.59 542.96 L472.39 528.51 L473.19 509.24 L473.83 496.39 L474.64 477.12 L475.6 458.65 L476.4 469.09 L477.53 493.18 L479.13 499.6 L480.74 509.24 L482.34 514.05 L484.43 518.87 L486.36 523.69 L488.77 528.51 L491.18 532.52 L494.39 535.73 L498.4 537.34 L500.81 538.14 L503.22 539.75 L505.63 542.96 L507.24 546.17 L508.84 549.38 L512.05 550.67 L520.08 550.99 L531.33 551.31 L548.99 551.79 L548.99 551.8 Z" fill="#7076a8" stroke="none" stroke-width="1"/>
<rect x="447.8" y="451.4" width="100.9" height="100.4" fill="none" stroke="#c4c4c4" stroke-width="0.9"/>
<line x1="444.8" y1="460" x2="447.8" y2="460" stroke="#555" stroke-width="0.9"/>
<text x="442.8" y="463.2" font-size="9" text-anchor="end" fill="#333" stroke="#333" stroke-width="0.22">600</text>
<line x1="444.8" y1="490.3" x2="447.8" y2="490.3" stroke="#555" stroke-width="0.9"/>
<text x="442.8" y="493.5" font-size="9" text-anchor="end" fill="#333" stroke="#333" stroke-width="0.22">400</text>
<line x1="444.8" y1="520.9" x2="447.8" y2="520.9" stroke="#555" stroke-width="0.9"/>
<text x="442.8" y="524.1" font-size="9" text-anchor="end" fill="#333" stroke="#333" stroke-width="0.22">200</text>
<line x1="444.8" y1="552" x2="447.8" y2="552" stroke="#555" stroke-width="0.9"/>
<text x="442.8" y="555.2" font-size="9" text-anchor="end" fill="#333" stroke="#333" stroke-width="0.22">0</text>
<line x1="446.6" y1="552" x2="447.8" y2="552" stroke="#777" stroke-width="0.7"/>
<line x1="446.6" y1="544.23" x2="447.8" y2="544.23" stroke="#777" stroke-width="0.7"/>
<line x1="446.6" y1="536.45" x2="447.8" y2="536.45" stroke="#777" stroke-width="0.7"/>
<line x1="446.6" y1="528.68" x2="447.8" y2="528.68" stroke="#777" stroke-width="0.7"/>
<line x1="446.6" y1="520.9" x2="447.8" y2="520.9" stroke="#777" stroke-width="0.7"/>
<line x1="446.6" y1="513.13" x2="447.8" y2="513.13" stroke="#777" stroke-width="0.7"/>
<line x1="446.6" y1="505.35" x2="447.8" y2="505.35" stroke="#777" stroke-width="0.7"/>
<line x1="446.6" y1="497.58" x2="447.8" y2="497.58" stroke="#777" stroke-width="0.7"/>
<line x1="446.6" y1="489.8" x2="447.8" y2="489.8" stroke="#777" stroke-width="0.7"/>
<line x1="446.6" y1="482.03" x2="447.8" y2="482.03" stroke="#777" stroke-width="0.7"/>
<line x1="446.6" y1="474.25" x2="447.8" y2="474.25" stroke="#777" stroke-width="0.7"/>
<line x1="446.6" y1="466.48" x2="447.8" y2="466.48" stroke="#777" stroke-width="0.7"/>
<line x1="446.6" y1="458.7" x2="447.8" y2="458.7" stroke="#777" stroke-width="0.7"/>
<line x1="447.8" y1="551.8" x2="447.8" y2="553.1" stroke="#777" stroke-width="0.7"/>
<line x1="453.38" y1="551.8" x2="453.38" y2="553.1" stroke="#777" stroke-width="0.7"/>
<line x1="458.96" y1="551.8" x2="458.96" y2="553.1" stroke="#777" stroke-width="0.7"/>
<line x1="464.54" y1="551.8" x2="464.54" y2="553.1" stroke="#777" stroke-width="0.7"/>
<line x1="470.12" y1="551.8" x2="470.12" y2="553.1" stroke="#777" stroke-width="0.7"/>
<line x1="475.7" y1="551.8" x2="475.7" y2="553.1" stroke="#777" stroke-width="0.7"/>
<line x1="481.28" y1="551.8" x2="481.28" y2="553.1" stroke="#777" stroke-width="0.7"/>
<line x1="486.86" y1="551.8" x2="486.86" y2="553.1" stroke="#777" stroke-width="0.7"/>
<line x1="492.44" y1="551.8" x2="492.44" y2="553.1" stroke="#777" stroke-width="0.7"/>
<line x1="498.02" y1="551.8" x2="498.02" y2="553.1" stroke="#777" stroke-width="0.7"/>
<line x1="503.6" y1="551.8" x2="503.6" y2="553.1" stroke="#777" stroke-width="0.7"/>
<line x1="509.18" y1="551.8" x2="509.18" y2="553.1" stroke="#777" stroke-width="0.7"/>
<line x1="514.76" y1="551.8" x2="514.76" y2="553.1" stroke="#777" stroke-width="0.7"/>
<line x1="520.34" y1="551.8" x2="520.34" y2="553.1" stroke="#777" stroke-width="0.7"/>
<line x1="525.92" y1="551.8" x2="525.92" y2="553.1" stroke="#777" stroke-width="0.7"/>
<line x1="531.5" y1="551.8" x2="531.5" y2="553.1" stroke="#777" stroke-width="0.7"/>
<line x1="537.08" y1="551.8" x2="537.08" y2="553.1" stroke="#777" stroke-width="0.7"/>
<line x1="542.66" y1="551.8" x2="542.66" y2="553.1" stroke="#777" stroke-width="0.7"/>
<line x1="447.8" y1="551.8" x2="447.8" y2="554.8" stroke="#555" stroke-width="0.9"/>
<text x="447.8" y="563.3" font-size="8.4" text-anchor="middle" fill="#333" stroke="#333" stroke-width="0.22">0</text>
<line x1="475.7" y1="551.8" x2="475.7" y2="554.8" stroke="#555" stroke-width="0.9"/>
<text x="476.7" y="563.3" font-size="8.4" text-anchor="middle" fill="#333" stroke="#333" stroke-width="0.22">50K</text>
<line x1="504.2" y1="551.8" x2="504.2" y2="554.8" stroke="#555" stroke-width="0.9"/>
<text x="505.2" y="563.3" font-size="8.4" text-anchor="middle" fill="#333" stroke="#333" stroke-width="0.22">100K</text>
<line x1="532.6" y1="551.8" x2="532.6" y2="554.8" stroke="#555" stroke-width="0.9"/>
<text x="533.6" y="563.3" font-size="8.4" text-anchor="middle" fill="#333" stroke="#333" stroke-width="0.22">150K</text>
<text x="489.9" y="573.2" font-size="10" text-anchor="middle" fill="#333" stroke="#333" stroke-width="0.22">PI</text>
<text x="494.3" y="447.5" font-size="10" text-anchor="middle" fill="#222" stroke="#222" stroke-width="0.22">8µM</text>
<rect x="470.8" y="471.36" width="10.24" height="23.5" fill="#ffffff" stroke="none" stroke-width="1" fill-opacity="0.68"/>
<line x1="447.82" y1="514.38" x2="468.69" y2="514.38" stroke="#555" stroke-width="1"/>
<line x1="447.82" y1="512.38" x2="447.82" y2="516.38" stroke="#555" stroke-width="0.9"/>
<line x1="468.69" y1="512.38" x2="468.69" y2="516.38" stroke="#555" stroke-width="0.9"/>
<line x1="470.3" y1="488.36" x2="481.54" y2="488.36" stroke="#555" stroke-width="1"/>
<line x1="470.3" y1="486.36" x2="470.3" y2="490.36" stroke="#555" stroke-width="0.9"/>
<line x1="481.54" y1="486.36" x2="481.54" y2="490.36" stroke="#555" stroke-width="0.9"/>
<line x1="481.54" y1="493.18" x2="497.6" y2="493.18" stroke="#555" stroke-width="1"/>
<line x1="481.54" y1="491.18" x2="481.54" y2="495.18" stroke="#555" stroke-width="0.9"/>
<line x1="497.6" y1="491.18" x2="497.6" y2="495.18" stroke="#555" stroke-width="0.9"/>
<line x1="497.6" y1="498.8" x2="512.38" y2="498.8" stroke="#555" stroke-width="1"/>
<line x1="497.6" y1="496.8" x2="497.6" y2="500.8" stroke="#555" stroke-width="0.9"/>
<line x1="512.38" y1="496.8" x2="512.38" y2="500.8" stroke="#555" stroke-width="0.9"/>
<text x="458.58" y="512.74" font-size="8.4" text-anchor="middle" fill="#333" stroke="#333" stroke-width="0.22">7</text>
<text x="475.44" y="477.41" font-size="8.6" font-weight="bold" text-anchor="middle" fill="#111">G1</text>
<text x="475.6" y="485.44" font-size="8.4" text-anchor="middle" fill="#333" stroke="#333" stroke-width="0.22">44</text>
<text x="489.09" y="482.71" font-size="8.6" font-weight="bold" text-anchor="middle" fill="#111">S</text>
<text x="489.57" y="491.38" font-size="8.4" text-anchor="middle" fill="#333" stroke="#333" stroke-width="0.22">35</text>
<text x="504.51" y="489.77" font-size="8.6" font-weight="bold" text-anchor="middle" fill="#111">G2</text>
<text x="504.83" y="497.8" font-size="8.4" text-anchor="middle" fill="#333" stroke="#333" stroke-width="0.22">12</text>
<path d="M583.15 551.2 L583.15 533.25 L583.62 538.72 L584.25 544.97 L585.81 546.53 L588.93 546.22 L593.62 543.72 L598.31 543.09 L602.99 541.06 L606.12 538.72 L607.37 534.03 L608.46 519.98 L609.24 491.86 L610.02 471.55 L610.8 457.5 L611.74 476.24 L612.68 499.67 L614.24 519.98 L615.8 529.35 L617.83 537.16 L620.17 541.84 L623.3 544.19 L627.98 546.22 L632.67 546.53 L637.36 545.75 L640.48 546.53 L643.6 548.87 L646.73 550.44 L652.98 550.9 L683.9 551.2 L683.9 551.2 Z" fill="#525c98" stroke="none" stroke-width="1"/>
<rect x="583.2" y="450.8" width="100.7" height="100.4" fill="none" stroke="#c4c4c4" stroke-width="0.9"/>
<line x1="580.2" y1="469.5" x2="583.2" y2="469.5" stroke="#555" stroke-width="0.9"/>
<text x="578.8" y="472.7" font-size="9" text-anchor="end" fill="#333" stroke="#333" stroke-width="0.22">800</text>
<line x1="580.2" y1="490" x2="583.2" y2="490" stroke="#555" stroke-width="0.9"/>
<text x="578.8" y="493.2" font-size="9" text-anchor="end" fill="#333" stroke="#333" stroke-width="0.22">600</text>
<line x1="580.2" y1="510.4" x2="583.2" y2="510.4" stroke="#555" stroke-width="0.9"/>
<text x="578.8" y="513.6" font-size="9" text-anchor="end" fill="#333" stroke="#333" stroke-width="0.22">400</text>
<line x1="580.2" y1="530.5" x2="583.2" y2="530.5" stroke="#555" stroke-width="0.9"/>
<text x="578.8" y="533.7" font-size="9" text-anchor="end" fill="#333" stroke="#333" stroke-width="0.22">200</text>
<line x1="580.2" y1="551.6" x2="583.2" y2="551.6" stroke="#555" stroke-width="0.9"/>
<text x="578.8" y="554.8" font-size="9" text-anchor="end" fill="#333" stroke="#333" stroke-width="0.22">0</text>
<line x1="582" y1="551.6" x2="583.2" y2="551.6" stroke="#777" stroke-width="0.7"/>
<line x1="582" y1="546.33" x2="583.2" y2="546.33" stroke="#777" stroke-width="0.7"/>
<line x1="582" y1="541.05" x2="583.2" y2="541.05" stroke="#777" stroke-width="0.7"/>
<line x1="582" y1="535.78" x2="583.2" y2="535.78" stroke="#777" stroke-width="0.7"/>
<line x1="582" y1="530.5" x2="583.2" y2="530.5" stroke="#777" stroke-width="0.7"/>
<line x1="582" y1="525.23" x2="583.2" y2="525.23" stroke="#777" stroke-width="0.7"/>
<line x1="582" y1="519.95" x2="583.2" y2="519.95" stroke="#777" stroke-width="0.7"/>
<line x1="582" y1="514.68" x2="583.2" y2="514.68" stroke="#777" stroke-width="0.7"/>
<line x1="582" y1="509.4" x2="583.2" y2="509.4" stroke="#777" stroke-width="0.7"/>
<line x1="582" y1="504.13" x2="583.2" y2="504.13" stroke="#777" stroke-width="0.7"/>
<line x1="582" y1="498.85" x2="583.2" y2="498.85" stroke="#777" stroke-width="0.7"/>
<line x1="582" y1="493.58" x2="583.2" y2="493.58" stroke="#777" stroke-width="0.7"/>
<line x1="582" y1="488.3" x2="583.2" y2="488.3" stroke="#777" stroke-width="0.7"/>
<line x1="582" y1="483.03" x2="583.2" y2="483.03" stroke="#777" stroke-width="0.7"/>
<line x1="582" y1="477.75" x2="583.2" y2="477.75" stroke="#777" stroke-width="0.7"/>
<line x1="582" y1="472.48" x2="583.2" y2="472.48" stroke="#777" stroke-width="0.7"/>
<line x1="582" y1="467.2" x2="583.2" y2="467.2" stroke="#777" stroke-width="0.7"/>
<line x1="582" y1="461.93" x2="583.2" y2="461.93" stroke="#777" stroke-width="0.7"/>
<line x1="582" y1="456.65" x2="583.2" y2="456.65" stroke="#777" stroke-width="0.7"/>
<line x1="583.2" y1="551.2" x2="583.2" y2="552.5" stroke="#777" stroke-width="0.7"/>
<line x1="588.88" y1="551.2" x2="588.88" y2="552.5" stroke="#777" stroke-width="0.7"/>
<line x1="594.56" y1="551.2" x2="594.56" y2="552.5" stroke="#777" stroke-width="0.7"/>
<line x1="600.24" y1="551.2" x2="600.24" y2="552.5" stroke="#777" stroke-width="0.7"/>
<line x1="605.92" y1="551.2" x2="605.92" y2="552.5" stroke="#777" stroke-width="0.7"/>
<line x1="611.6" y1="551.2" x2="611.6" y2="552.5" stroke="#777" stroke-width="0.7"/>
<line x1="617.28" y1="551.2" x2="617.28" y2="552.5" stroke="#777" stroke-width="0.7"/>
<line x1="622.96" y1="551.2" x2="622.96" y2="552.5" stroke="#777" stroke-width="0.7"/>
<line x1="628.64" y1="551.2" x2="628.64" y2="552.5" stroke="#777" stroke-width="0.7"/>
<line x1="634.32" y1="551.2" x2="634.32" y2="552.5" stroke="#777" stroke-width="0.7"/>
<line x1="640" y1="551.2" x2="640" y2="552.5" stroke="#777" stroke-width="0.7"/>
<line x1="645.68" y1="551.2" x2="645.68" y2="552.5" stroke="#777" stroke-width="0.7"/>
<line x1="651.36" y1="551.2" x2="651.36" y2="552.5" stroke="#777" stroke-width="0.7"/>
<line x1="657.04" y1="551.2" x2="657.04" y2="552.5" stroke="#777" stroke-width="0.7"/>
<line x1="662.72" y1="551.2" x2="662.72" y2="552.5" stroke="#777" stroke-width="0.7"/>
<line x1="668.4" y1="551.2" x2="668.4" y2="552.5" stroke="#777" stroke-width="0.7"/>
<line x1="674.08" y1="551.2" x2="674.08" y2="552.5" stroke="#777" stroke-width="0.7"/>
<line x1="679.76" y1="551.2" x2="679.76" y2="552.5" stroke="#777" stroke-width="0.7"/>
<line x1="583.2" y1="551.2" x2="583.2" y2="554.2" stroke="#555" stroke-width="0.9"/>
<text x="583.2" y="562.7" font-size="8.4" text-anchor="middle" fill="#333" stroke="#333" stroke-width="0.22">0</text>
<line x1="611.6" y1="551.2" x2="611.6" y2="554.2" stroke="#555" stroke-width="0.9"/>
<text x="612.6" y="562.7" font-size="8.4" text-anchor="middle" fill="#333" stroke="#333" stroke-width="0.22">50K</text>
<line x1="641.2" y1="551.2" x2="641.2" y2="554.2" stroke="#555" stroke-width="0.9"/>
<text x="642.2" y="562.7" font-size="8.4" text-anchor="middle" fill="#333" stroke="#333" stroke-width="0.22">100K</text>
<line x1="669.7" y1="551.2" x2="669.7" y2="554.2" stroke="#555" stroke-width="0.9"/>
<text x="670.7" y="562.7" font-size="8.4" text-anchor="middle" fill="#333" stroke="#333" stroke-width="0.22">150K</text>
<text x="622.6" y="573.2" font-size="10" text-anchor="middle" fill="#333" stroke="#333" stroke-width="0.22">PI</text>
<text x="624.8" y="447.5" font-size="10" text-anchor="middle" fill="#222" stroke="#222" stroke-width="0.22">12µM</text>
<rect x="607.08" y="470.17" width="8.68" height="23.5" fill="#ffffff" stroke="none" stroke-width="1" fill-opacity="0.68"/>
<line x1="583.15" y1="519.2" x2="605.34" y2="519.2" stroke="#555" stroke-width="1"/>
<line x1="583.15" y1="517.2" x2="583.15" y2="521.2" stroke="#555" stroke-width="0.9"/>
<line x1="605.34" y1="517.2" x2="605.34" y2="521.2" stroke="#555" stroke-width="0.9"/>
<line x1="606.58" y1="487.17" x2="616.27" y2="487.17" stroke="#555" stroke-width="1"/>
<line x1="606.58" y1="485.17" x2="606.58" y2="489.17" stroke="#555" stroke-width="0.9"/>
<line x1="616.27" y1="485.17" x2="616.27" y2="489.17" stroke="#555" stroke-width="0.9"/>
<line x1="616.27" y1="493.11" x2="630.33" y2="493.11" stroke="#555" stroke-width="1"/>
<line x1="616.27" y1="491.11" x2="616.27" y2="495.11" stroke="#555" stroke-width="0.9"/>
<line x1="630.33" y1="491.11" x2="630.33" y2="495.11" stroke="#555" stroke-width="0.9"/>
<line x1="630.33" y1="498.42" x2="647.82" y2="498.42" stroke="#555" stroke-width="1"/>
<line x1="630.33" y1="496.42" x2="630.33" y2="500.42" stroke="#555" stroke-width="0.9"/>
<line x1="647.82" y1="496.42" x2="647.82" y2="500.42" stroke="#555" stroke-width="0.9"/>
<text x="594.87" y="517.68" font-size="8.4" text-anchor="middle" fill="#333" stroke="#333" stroke-width="0.22">22</text>
<text x="611.27" y="475.04" font-size="8.6" font-weight="bold" text-anchor="middle" fill="#111">G1</text>
<text x="611.27" y="484.72" font-size="8.4" text-anchor="middle" fill="#333" stroke="#333" stroke-width="0.22">55</text>
<text x="622.83" y="483.94" font-size="8.6" font-weight="bold" text-anchor="middle" fill="#111">S</text>
<text x="623.3" y="491.12" font-size="8.4" text-anchor="middle" fill="#333" stroke="#333" stroke-width="0.22">13</text>
<text x="639.23" y="489.56" font-size="8.6" font-weight="bold" text-anchor="middle" fill="#111">G2</text>
<text x="639.23" y="497.68" font-size="8.4" text-anchor="middle" fill="#333" stroke="#333" stroke-width="0.22">8</text>
<path d="M45.62 684.1 L45.62 680.37 L46.74 678.76 L48.03 679.89 L51.24 681.98 L56.06 682.78 L62.48 682.78 L64.89 681.98 L66.5 679.57 L67.62 673.14 L68.59 657.08 L69.71 636.21 L70.83 612.12 L71.8 596.06 L72.92 592.53 L74.05 597.67 L75.33 628.18 L76.61 652.27 L77.74 665.11 L79.34 667.52 L80.95 670.73 L82.56 670.73 L84.16 672.34 L86.57 671.54 L88.98 669.13 L91.07 664.31 L93 660.3 L94.6 661.1 L96.53 664.31 L98.62 669.13 L100.7 673.95 L102.63 679.57 L104.24 683.58 L105.84 684.06 L145.19 684.06 L145.19 684.1 Z" fill="#d2d1f3" stroke="none" stroke-width="1"/>
<rect x="45.6" y="585.6" width="99.6" height="98.5" fill="none" stroke="#c4c4c4" stroke-width="0.9"/>
<line x1="42.6" y1="591.9" x2="45.6" y2="591.9" stroke="#555" stroke-width="0.9"/>
<text x="41.6" y="595.1" font-size="9" text-anchor="end" fill="#333" stroke="#333" stroke-width="0.22">1200</text>
<line x1="42.6" y1="610.5" x2="45.6" y2="610.5" stroke="#555" stroke-width="0.9"/>
<text x="41.6" y="613.7" font-size="9" text-anchor="end" fill="#333" stroke="#333" stroke-width="0.22">800</text>
<line x1="42.6" y1="628.7" x2="45.6" y2="628.7" stroke="#555" stroke-width="0.9"/>
<text x="41.6" y="631.9" font-size="9" text-anchor="end" fill="#333" stroke="#333" stroke-width="0.22">600</text>
<line x1="42.6" y1="647" x2="45.6" y2="647" stroke="#555" stroke-width="0.9"/>
<text x="41.6" y="650.2" font-size="9" text-anchor="end" fill="#333" stroke="#333" stroke-width="0.22">400</text>
<line x1="42.6" y1="665.5" x2="45.6" y2="665.5" stroke="#555" stroke-width="0.9"/>
<text x="41.6" y="668.7" font-size="9" text-anchor="end" fill="#333" stroke="#333" stroke-width="0.22">200</text>
<line x1="42.6" y1="684.3" x2="45.6" y2="684.3" stroke="#555" stroke-width="0.9"/>
<text x="41.6" y="687.5" font-size="9" text-anchor="end" fill="#333" stroke="#333" stroke-width="0.22">0</text>
<line x1="44.4" y1="684.3" x2="45.6" y2="684.3" stroke="#777" stroke-width="0.7"/>
<line x1="44.4" y1="679.6" x2="45.6" y2="679.6" stroke="#777" stroke-width="0.7"/>
<line x1="44.4" y1="674.9" x2="45.6" y2="674.9" stroke="#777" stroke-width="0.7"/>
<line x1="44.4" y1="670.2" x2="45.6" y2="670.2" stroke="#777" stroke-width="0.7"/>
<line x1="44.4" y1="665.5" x2="45.6" y2="665.5" stroke="#777" stroke-width="0.7"/>
<line x1="44.4" y1="660.8" x2="45.6" y2="660.8" stroke="#777" stroke-width="0.7"/>
<line x1="44.4" y1="656.1" x2="45.6" y2="656.1" stroke="#777" stroke-width="0.7"/>
<line x1="44.4" y1="651.4" x2="45.6" y2="651.4" stroke="#777" stroke-width="0.7"/>
<line x1="44.4" y1="646.7" x2="45.6" y2="646.7" stroke="#777" stroke-width="0.7"/>
<line x1="44.4" y1="642" x2="45.6" y2="642" stroke="#777" stroke-width="0.7"/>
<line x1="44.4" y1="637.3" x2="45.6" y2="637.3" stroke="#777" stroke-width="0.7"/>
<line x1="44.4" y1="632.6" x2="45.6" y2="632.6" stroke="#777" stroke-width="0.7"/>
<line x1="44.4" y1="627.9" x2="45.6" y2="627.9" stroke="#777" stroke-width="0.7"/>
<line x1="44.4" y1="623.2" x2="45.6" y2="623.2" stroke="#777" stroke-width="0.7"/>
<line x1="44.4" y1="618.5" x2="45.6" y2="618.5" stroke="#777" stroke-width="0.7"/>
<line x1="44.4" y1="613.8" x2="45.6" y2="613.8" stroke="#777" stroke-width="0.7"/>
<line x1="44.4" y1="609.1" x2="45.6" y2="609.1" stroke="#777" stroke-width="0.7"/>
<line x1="44.4" y1="604.4" x2="45.6" y2="604.4" stroke="#777" stroke-width="0.7"/>
<line x1="44.4" y1="599.7" x2="45.6" y2="599.7" stroke="#777" stroke-width="0.7"/>
<line x1="44.4" y1="595" x2="45.6" y2="595" stroke="#777" stroke-width="0.7"/>
<line x1="44.4" y1="590.3" x2="45.6" y2="590.3" stroke="#777" stroke-width="0.7"/>
<line x1="45.6" y1="684.1" x2="45.6" y2="685.4" stroke="#777" stroke-width="0.7"/>
<line x1="51.36" y1="684.1" x2="51.36" y2="685.4" stroke="#777" stroke-width="0.7"/>
<line x1="57.12" y1="684.1" x2="57.12" y2="685.4" stroke="#777" stroke-width="0.7"/>
<line x1="62.88" y1="684.1" x2="62.88" y2="685.4" stroke="#777" stroke-width="0.7"/>
<line x1="68.64" y1="684.1" x2="68.64" y2="685.4" stroke="#777" stroke-width="0.7"/>
<line x1="74.4" y1="684.1" x2="74.4" y2="685.4" stroke="#777" stroke-width="0.7"/>
<line x1="80.16" y1="684.1" x2="80.16" y2="685.4" stroke="#777" stroke-width="0.7"/>
<line x1="85.92" y1="684.1" x2="85.92" y2="685.4" stroke="#777" stroke-width="0.7"/>
<line x1="91.68" y1="684.1" x2="91.68" y2="685.4" stroke="#777" stroke-width="0.7"/>
<line x1="97.44" y1="684.1" x2="97.44" y2="685.4" stroke="#777" stroke-width="0.7"/>
<line x1="103.2" y1="684.1" x2="103.2" y2="685.4" stroke="#777" stroke-width="0.7"/>
<line x1="108.96" y1="684.1" x2="108.96" y2="685.4" stroke="#777" stroke-width="0.7"/>
<line x1="114.72" y1="684.1" x2="114.72" y2="685.4" stroke="#777" stroke-width="0.7"/>
<line x1="120.48" y1="684.1" x2="120.48" y2="685.4" stroke="#777" stroke-width="0.7"/>
<line x1="126.24" y1="684.1" x2="126.24" y2="685.4" stroke="#777" stroke-width="0.7"/>
<line x1="132" y1="684.1" x2="132" y2="685.4" stroke="#777" stroke-width="0.7"/>
<line x1="137.76" y1="684.1" x2="137.76" y2="685.4" stroke="#777" stroke-width="0.7"/>
<line x1="143.52" y1="684.1" x2="143.52" y2="685.4" stroke="#777" stroke-width="0.7"/>
<line x1="45.6" y1="684.1" x2="45.6" y2="687.1" stroke="#555" stroke-width="0.9"/>
<text x="45.6" y="695.6" font-size="8.4" text-anchor="middle" fill="#333" stroke="#333" stroke-width="0.22">0</text>
<line x1="74.4" y1="684.1" x2="74.4" y2="687.1" stroke="#555" stroke-width="0.9"/>
<text x="75.4" y="695.6" font-size="8.4" text-anchor="middle" fill="#333" stroke="#333" stroke-width="0.22">50K</text>
<line x1="102.5" y1="684.1" x2="102.5" y2="687.1" stroke="#555" stroke-width="0.9"/>
<text x="103.5" y="695.6" font-size="8.4" text-anchor="middle" fill="#333" stroke="#333" stroke-width="0.22">100K</text>
<line x1="131.4" y1="684.1" x2="131.4" y2="687.1" stroke="#555" stroke-width="0.9"/>
<text x="132.4" y="695.6" font-size="8.4" text-anchor="middle" fill="#333" stroke="#333" stroke-width="0.22">150K</text>
<text x="87.1" y="708.8" font-size="10" text-anchor="middle" fill="#333" stroke="#333" stroke-width="0.22">PI</text>
<text x="0" y="-50" font-size="10" text-anchor="middle" fill="#222" stroke="#222" stroke-width="0.22"></text>
<rect x="67" y="603.15" width="9.76" height="23.5" fill="#ffffff" stroke="none" stroke-width="1" fill-opacity="0.68"/>
<line x1="45.62" y1="646.16" x2="64.89" y2="646.16" stroke="#555" stroke-width="1"/>
<line x1="45.62" y1="644.16" x2="45.62" y2="648.16" stroke="#555" stroke-width="0.9"/>
<line x1="64.89" y1="644.16" x2="64.89" y2="648.16" stroke="#555" stroke-width="0.9"/>
<line x1="66.5" y1="620.15" x2="77.26" y2="620.15" stroke="#555" stroke-width="1"/>
<line x1="66.5" y1="618.15" x2="66.5" y2="622.15" stroke="#555" stroke-width="0.9"/>
<line x1="77.26" y1="618.15" x2="77.26" y2="622.15" stroke="#555" stroke-width="0.9"/>
<line x1="77.26" y1="626.09" x2="89.3" y2="626.09" stroke="#555" stroke-width="1"/>
<line x1="77.26" y1="624.09" x2="77.26" y2="628.09" stroke="#555" stroke-width="0.9"/>
<line x1="89.3" y1="624.09" x2="89.3" y2="628.09" stroke="#555" stroke-width="0.9"/>
<line x1="89.3" y1="631.71" x2="104.56" y2="631.71" stroke="#555" stroke-width="1"/>
<line x1="89.3" y1="629.71" x2="89.3" y2="633.71" stroke="#555" stroke-width="0.9"/>
<line x1="104.56" y1="629.71" x2="104.56" y2="633.71" stroke="#555" stroke-width="0.9"/>
<text x="55.26" y="644.53" font-size="8.4" text-anchor="middle" fill="#333" stroke="#333" stroke-width="0.22">4</text>
<text x="72.12" y="610.32" font-size="8.6" font-weight="bold" text-anchor="middle" fill="#111">G1</text>
<text x="72.12" y="618.83" font-size="8.4" text-anchor="middle" fill="#333" stroke="#333" stroke-width="0.22">56</text>
<text x="83.04" y="616.42" font-size="8.6" font-weight="bold" text-anchor="middle" fill="#111">S</text>
<text x="83.36" y="624.45" font-size="8.4" text-anchor="middle" fill="#333" stroke="#333" stroke-width="0.22">16</text>
<text x="97.81" y="622.85" font-size="8.6" font-weight="bold" text-anchor="middle" fill="#111">G2</text>
<text x="97.01" y="630.07" font-size="8.4" text-anchor="middle" fill="#333" stroke="#333" stroke-width="0.22">24</text>
<path d="M183.94 686.3 L183.94 681.98 L184.74 677.16 L185.71 677.96 L186.83 681.17 L189.24 684.38 L194.06 684.71 L202.09 685.19 L204.5 683.58 L206.1 679.57 L207.23 669.93 L208.19 653.87 L209.32 634.6 L210.6 615.33 L211.72 602.48 L212.37 595.26 L213.01 612.12 L214.13 631.39 L215.26 647.45 L216.54 655.48 L218.15 656.28 L220.07 653.87 L221.36 655.48 L223.77 658.69 L226.18 661.1 L229.39 662.7 L231 663.51 L232.6 665.92 L234.21 669.13 L236.13 673.14 L238.22 677.96 L240.63 682.78 L243.04 685.99 L283.19 686.3 L283.19 686.3 Z" fill="#adb4e6" stroke="none" stroke-width="1"/>
<rect x="183.9" y="586.7" width="99.3" height="99.6" fill="none" stroke="#c4c4c4" stroke-width="0.9"/>
<line x1="180.9" y1="595.2" x2="183.9" y2="595.2" stroke="#555" stroke-width="0.9"/>
<text x="179.4" y="598.4" font-size="9" text-anchor="end" fill="#333" stroke="#333" stroke-width="0.22">600</text>
<line x1="180.9" y1="625.8" x2="183.9" y2="625.8" stroke="#555" stroke-width="0.9"/>
<text x="179.4" y="629" font-size="9" text-anchor="end" fill="#333" stroke="#333" stroke-width="0.22">400</text>
<line x1="180.9" y1="656" x2="183.9" y2="656" stroke="#555" stroke-width="0.9"/>
<text x="179.4" y="659.2" font-size="9" text-anchor="end" fill="#333" stroke="#333" stroke-width="0.22">200</text>
<line x1="180.9" y1="686" x2="183.9" y2="686" stroke="#555" stroke-width="0.9"/>
<text x="179.4" y="689.2" font-size="9" text-anchor="end" fill="#333" stroke="#333" stroke-width="0.22">0</text>
<line x1="182.7" y1="686" x2="183.9" y2="686" stroke="#777" stroke-width="0.7"/>
<line x1="182.7" y1="678.5" x2="183.9" y2="678.5" stroke="#777" stroke-width="0.7"/>
<line x1="182.7" y1="671" x2="183.9" y2="671" stroke="#777" stroke-width="0.7"/>
<line x1="182.7" y1="663.5" x2="183.9" y2="663.5" stroke="#777" stroke-width="0.7"/>
<line x1="182.7" y1="656" x2="183.9" y2="656" stroke="#777" stroke-width="0.7"/>
<line x1="182.7" y1="648.5" x2="183.9" y2="648.5" stroke="#777" stroke-width="0.7"/>
<line x1="182.7" y1="641" x2="183.9" y2="641" stroke="#777" stroke-width="0.7"/>
<line x1="182.7" y1="633.5" x2="183.9" y2="633.5" stroke="#777" stroke-width="0.7"/>
<line x1="182.7" y1="626" x2="183.9" y2="626" stroke="#777" stroke-width="0.7"/>
<line x1="182.7" y1="618.5" x2="183.9" y2="618.5" stroke="#777" stroke-width="0.7"/>
<line x1="182.7" y1="611" x2="183.9" y2="611" stroke="#777" stroke-width="0.7"/>
<line x1="182.7" y1="603.5" x2="183.9" y2="603.5" stroke="#777" stroke-width="0.7"/>
<line x1="182.7" y1="596" x2="183.9" y2="596" stroke="#777" stroke-width="0.7"/>
<line x1="182.7" y1="588.5" x2="183.9" y2="588.5" stroke="#777" stroke-width="0.7"/>
<line x1="183.8" y1="686.3" x2="183.8" y2="687.6" stroke="#777" stroke-width="0.7"/>
<line x1="189.5" y1="686.3" x2="189.5" y2="687.6" stroke="#777" stroke-width="0.7"/>
<line x1="195.2" y1="686.3" x2="195.2" y2="687.6" stroke="#777" stroke-width="0.7"/>
<line x1="200.9" y1="686.3" x2="200.9" y2="687.6" stroke="#777" stroke-width="0.7"/>
<line x1="206.6" y1="686.3" x2="206.6" y2="687.6" stroke="#777" stroke-width="0.7"/>
<line x1="212.3" y1="686.3" x2="212.3" y2="687.6" stroke="#777" stroke-width="0.7"/>
<line x1="218" y1="686.3" x2="218" y2="687.6" stroke="#777" stroke-width="0.7"/>
<line x1="223.7" y1="686.3" x2="223.7" y2="687.6" stroke="#777" stroke-width="0.7"/>
<line x1="229.4" y1="686.3" x2="229.4" y2="687.6" stroke="#777" stroke-width="0.7"/>
<line x1="235.1" y1="686.3" x2="235.1" y2="687.6" stroke="#777" stroke-width="0.7"/>
<line x1="240.8" y1="686.3" x2="240.8" y2="687.6" stroke="#777" stroke-width="0.7"/>
<line x1="246.5" y1="686.3" x2="246.5" y2="687.6" stroke="#777" stroke-width="0.7"/>
<line x1="252.2" y1="686.3" x2="252.2" y2="687.6" stroke="#777" stroke-width="0.7"/>
<line x1="257.9" y1="686.3" x2="257.9" y2="687.6" stroke="#777" stroke-width="0.7"/>
<line x1="263.6" y1="686.3" x2="263.6" y2="687.6" stroke="#777" stroke-width="0.7"/>
<line x1="269.3" y1="686.3" x2="269.3" y2="687.6" stroke="#777" stroke-width="0.7"/>
<line x1="275" y1="686.3" x2="275" y2="687.6" stroke="#777" stroke-width="0.7"/>
<line x1="280.7" y1="686.3" x2="280.7" y2="687.6" stroke="#777" stroke-width="0.7"/>
<line x1="183.8" y1="686.3" x2="183.8" y2="689.3" stroke="#555" stroke-width="0.9"/>
<text x="183.8" y="697.8" font-size="8.4" text-anchor="middle" fill="#333" stroke="#333" stroke-width="0.22">0</text>
<line x1="212.3" y1="686.3" x2="212.3" y2="689.3" stroke="#555" stroke-width="0.9"/>
<text x="213.3" y="697.8" font-size="8.4" text-anchor="middle" fill="#333" stroke="#333" stroke-width="0.22">50K</text>
<line x1="240.7" y1="686.3" x2="240.7" y2="689.3" stroke="#555" stroke-width="0.9"/>
<text x="241.7" y="697.8" font-size="8.4" text-anchor="middle" fill="#333" stroke="#333" stroke-width="0.22">100K</text>
<line x1="269.2" y1="686.3" x2="269.2" y2="689.3" stroke="#555" stroke-width="0.9"/>
<text x="270.2" y="697.8" font-size="8.4" text-anchor="middle" fill="#333" stroke="#333" stroke-width="0.22">150K</text>
<text x="225.2" y="715" font-size="10" text-anchor="middle" fill="#333" stroke="#333" stroke-width="0.22">PI</text>
<text x="0" y="-50" font-size="10" text-anchor="middle" fill="#222" stroke="#222" stroke-width="0.22"></text>
<rect x="206.12" y="603.15" width="9.92" height="23.5" fill="#ffffff" stroke="none" stroke-width="1" fill-opacity="0.68"/>
<line x1="183.94" y1="646.16" x2="204.5" y2="646.16" stroke="#555" stroke-width="1"/>
<line x1="183.94" y1="644.16" x2="183.94" y2="648.16" stroke="#555" stroke-width="0.9"/>
<line x1="204.5" y1="644.16" x2="204.5" y2="648.16" stroke="#555" stroke-width="0.9"/>
<line x1="205.62" y1="620.15" x2="216.54" y2="620.15" stroke="#555" stroke-width="1"/>
<line x1="205.62" y1="618.15" x2="205.62" y2="622.15" stroke="#555" stroke-width="0.9"/>
<line x1="216.54" y1="618.15" x2="216.54" y2="622.15" stroke="#555" stroke-width="0.9"/>
<line x1="216.54" y1="624.97" x2="228.59" y2="624.97" stroke="#555" stroke-width="1"/>
<line x1="216.54" y1="622.97" x2="216.54" y2="626.97" stroke="#555" stroke-width="0.9"/>
<line x1="228.59" y1="622.97" x2="228.59" y2="626.97" stroke="#555" stroke-width="0.9"/>
<line x1="228.59" y1="630.26" x2="243.52" y2="630.26" stroke="#555" stroke-width="1"/>
<line x1="228.59" y1="628.26" x2="228.59" y2="632.26" stroke="#555" stroke-width="0.9"/>
<line x1="243.52" y1="628.26" x2="243.52" y2="632.26" stroke="#555" stroke-width="0.9"/>
<text x="195.67" y="645.33" font-size="8.4" text-anchor="middle" fill="#333" stroke="#333" stroke-width="0.22">5</text>
<text x="211.24" y="611.61" font-size="8.6" font-weight="bold" text-anchor="middle" fill="#111">G1</text>
<text x="211.24" y="618.83" font-size="8.4" text-anchor="middle" fill="#333" stroke="#333" stroke-width="0.22">49</text>
<text x="222.97" y="616.42" font-size="8.6" font-weight="bold" text-anchor="middle" fill="#111">S</text>
<text x="222.97" y="623.65" font-size="8.4" text-anchor="middle" fill="#333" stroke="#333" stroke-width="0.22">28</text>
<text x="234.53" y="621.24" font-size="8.6" font-weight="bold" text-anchor="middle" fill="#111">G2</text>
<text x="235.49" y="629.27" font-size="8.4" text-anchor="middle" fill="#333" stroke="#333" stroke-width="0.22">18</text>
<path d="M316.62 686.3 L316.62 681.98 L317.42 680.37 L318.39 679.57 L319.83 681.98 L322.24 684.38 L327.06 685.19 L335.09 685.67 L337.5 684.38 L339.1 680.37 L339.91 669.93 L340.71 652.27 L341.83 628.18 L343.12 605.69 L344.4 597.67 L345.21 593.65 L346.01 612.12 L347.13 633 L348.74 649.05 L350.34 653.87 L352.75 655.48 L355.16 657.08 L357.57 660.3 L359.18 663.51 L360.78 667.52 L362.39 669.13 L364.8 673.14 L367.21 676.35 L368.81 678.76 L371.22 681.98 L373.63 685.19 L375.24 686.3 L416.19 686.3 L416.19 686.3 Z" fill="#8890c6" stroke="none" stroke-width="1"/>
<rect x="316.6" y="587.2" width="100.1" height="99.1" fill="none" stroke="#c4c4c4" stroke-width="0.9"/>
<line x1="313.6" y1="606.1" x2="316.6" y2="606.1" stroke="#555" stroke-width="0.9"/>
<text x="312.2" y="609.3" font-size="9" text-anchor="end" fill="#333" stroke="#333" stroke-width="0.22">600</text>
<line x1="313.6" y1="633.5" x2="316.6" y2="633.5" stroke="#555" stroke-width="0.9"/>
<text x="312.2" y="636.7" font-size="9" text-anchor="end" fill="#333" stroke="#333" stroke-width="0.22">400</text>
<line x1="313.6" y1="659.8" x2="316.6" y2="659.8" stroke="#555" stroke-width="0.9"/>
<text x="312.2" y="663" font-size="9" text-anchor="end" fill="#333" stroke="#333" stroke-width="0.22">200</text>
<line x1="313.6" y1="686.5" x2="316.6" y2="686.5" stroke="#555" stroke-width="0.9"/>
<text x="312.2" y="689.7" font-size="9" text-anchor="end" fill="#333" stroke="#333" stroke-width="0.22">0</text>
<line x1="315.4" y1="686.5" x2="316.6" y2="686.5" stroke="#777" stroke-width="0.7"/>
<line x1="315.4" y1="679.83" x2="316.6" y2="679.83" stroke="#777" stroke-width="0.7"/>
<line x1="315.4" y1="673.15" x2="316.6" y2="673.15" stroke="#777" stroke-width="0.7"/>
<line x1="315.4" y1="666.48" x2="316.6" y2="666.48" stroke="#777" stroke-width="0.7"/>
<line x1="315.4" y1="659.8" x2="316.6" y2="659.8" stroke="#777" stroke-width="0.7"/>
<line x1="315.4" y1="653.13" x2="316.6" y2="653.13" stroke="#777" stroke-width="0.7"/>
<line x1="315.4" y1="646.45" x2="316.6" y2="646.45" stroke="#777" stroke-width="0.7"/>
<line x1="315.4" y1="639.78" x2="316.6" y2="639.78" stroke="#777" stroke-width="0.7"/>
<line x1="315.4" y1="633.1" x2="316.6" y2="633.1" stroke="#777" stroke-width="0.7"/>
<line x1="315.4" y1="626.43" x2="316.6" y2="626.43" stroke="#777" stroke-width="0.7"/>
<line x1="315.4" y1="619.75" x2="316.6" y2="619.75" stroke="#777" stroke-width="0.7"/>
<line x1="315.4" y1="613.08" x2="316.6" y2="613.08" stroke="#777" stroke-width="0.7"/>
<line x1="315.4" y1="606.4" x2="316.6" y2="606.4" stroke="#777" stroke-width="0.7"/>
<line x1="315.4" y1="599.73" x2="316.6" y2="599.73" stroke="#777" stroke-width="0.7"/>
<line x1="315.4" y1="593.05" x2="316.6" y2="593.05" stroke="#777" stroke-width="0.7"/>
<line x1="319.9" y1="686.3" x2="319.9" y2="687.6" stroke="#777" stroke-width="0.7"/>
<line x1="325.5" y1="686.3" x2="325.5" y2="687.6" stroke="#777" stroke-width="0.7"/>
<line x1="331.1" y1="686.3" x2="331.1" y2="687.6" stroke="#777" stroke-width="0.7"/>
<line x1="336.7" y1="686.3" x2="336.7" y2="687.6" stroke="#777" stroke-width="0.7"/>
<line x1="342.3" y1="686.3" x2="342.3" y2="687.6" stroke="#777" stroke-width="0.7"/>
<line x1="347.9" y1="686.3" x2="347.9" y2="687.6" stroke="#777" stroke-width="0.7"/>
<line x1="353.5" y1="686.3" x2="353.5" y2="687.6" stroke="#777" stroke-width="0.7"/>
<line x1="359.1" y1="686.3" x2="359.1" y2="687.6" stroke="#777" stroke-width="0.7"/>
<line x1="364.7" y1="686.3" x2="364.7" y2="687.6" stroke="#777" stroke-width="0.7"/>
<line x1="370.3" y1="686.3" x2="370.3" y2="687.6" stroke="#777" stroke-width="0.7"/>
<line x1="375.9" y1="686.3" x2="375.9" y2="687.6" stroke="#777" stroke-width="0.7"/>
<line x1="381.5" y1="686.3" x2="381.5" y2="687.6" stroke="#777" stroke-width="0.7"/>
<line x1="387.1" y1="686.3" x2="387.1" y2="687.6" stroke="#777" stroke-width="0.7"/>
<line x1="392.7" y1="686.3" x2="392.7" y2="687.6" stroke="#777" stroke-width="0.7"/>
<line x1="398.3" y1="686.3" x2="398.3" y2="687.6" stroke="#777" stroke-width="0.7"/>
<line x1="403.9" y1="686.3" x2="403.9" y2="687.6" stroke="#777" stroke-width="0.7"/>
<line x1="409.5" y1="686.3" x2="409.5" y2="687.6" stroke="#777" stroke-width="0.7"/>
<line x1="415.1" y1="686.3" x2="415.1" y2="687.6" stroke="#777" stroke-width="0.7"/>
<line x1="319.9" y1="686.3" x2="319.9" y2="689.3" stroke="#555" stroke-width="0.9"/>
<text x="319.9" y="697.8" font-size="8.4" text-anchor="middle" fill="#333" stroke="#333" stroke-width="0.22">0</text>
<line x1="347.9" y1="686.3" x2="347.9" y2="689.3" stroke="#555" stroke-width="0.9"/>
<text x="348.9" y="697.8" font-size="8.4" text-anchor="middle" fill="#333" stroke="#333" stroke-width="0.22">50K</text>
<line x1="375.7" y1="686.3" x2="375.7" y2="689.3" stroke="#555" stroke-width="0.9"/>
<text x="376.7" y="697.8" font-size="8.4" text-anchor="middle" fill="#333" stroke="#333" stroke-width="0.22">100K</text>
<line x1="404.2" y1="686.3" x2="404.2" y2="689.3" stroke="#555" stroke-width="0.9"/>
<text x="405.2" y="697.8" font-size="8.4" text-anchor="middle" fill="#333" stroke="#333" stroke-width="0.22">150K</text>
<text x="359.3" y="715" font-size="10" text-anchor="middle" fill="#333" stroke="#333" stroke-width="0.22">PI</text>
<text x="0" y="-50" font-size="10" text-anchor="middle" fill="#222" stroke="#222" stroke-width="0.22"></text>
<rect x="339.12" y="601.86" width="9.92" height="23.5" fill="#ffffff" stroke="none" stroke-width="1" fill-opacity="0.68"/>
<line x1="316.62" y1="644.72" x2="338.62" y2="644.72" stroke="#555" stroke-width="1"/>
<line x1="316.62" y1="642.72" x2="316.62" y2="646.72" stroke="#555" stroke-width="0.9"/>
<line x1="338.62" y1="642.72" x2="338.62" y2="646.72" stroke="#555" stroke-width="0.9"/>
<line x1="338.62" y1="618.86" x2="349.54" y2="618.86" stroke="#555" stroke-width="1"/>
<line x1="338.62" y1="616.86" x2="338.62" y2="620.86" stroke="#555" stroke-width="0.9"/>
<line x1="349.54" y1="616.86" x2="349.54" y2="620.86" stroke="#555" stroke-width="0.9"/>
<line x1="349.54" y1="623.68" x2="361.59" y2="623.68" stroke="#555" stroke-width="1"/>
<line x1="349.54" y1="621.68" x2="349.54" y2="625.68" stroke="#555" stroke-width="0.9"/>
<line x1="361.59" y1="621.68" x2="361.59" y2="625.68" stroke="#555" stroke-width="0.9"/>
<line x1="361.59" y1="628.98" x2="376.52" y2="628.98" stroke="#555" stroke-width="1"/>
<line x1="361.59" y1="626.98" x2="361.59" y2="630.98" stroke="#555" stroke-width="0.9"/>
<line x1="376.52" y1="626.98" x2="376.52" y2="630.98" stroke="#555" stroke-width="0.9"/>
<text x="327.86" y="643.4" font-size="8.4" text-anchor="middle" fill="#333" stroke="#333" stroke-width="0.22">6</text>
<text x="344.24" y="608.88" font-size="8.6" font-weight="bold" text-anchor="middle" fill="#111">G1</text>
<text x="344.72" y="616.75" font-size="8.4" text-anchor="middle" fill="#333" stroke="#333" stroke-width="0.22">51</text>
<text x="355.16" y="614.5" font-size="8.6" font-weight="bold" text-anchor="middle" fill="#111">S</text>
<text x="355.97" y="621.56" font-size="8.4" text-anchor="middle" fill="#333" stroke="#333" stroke-width="0.22">30</text>
<text x="369.13" y="619.96" font-size="8.6" font-weight="bold" text-anchor="middle" fill="#111">G2</text>
<text x="368.81" y="627.67" font-size="8.4" text-anchor="middle" fill="#333" stroke="#333" stroke-width="0.22">13</text>
<path d="M450.14 686.8 L450.14 682.78 L450.78 679.57 L451.74 678.28 L453.03 681.17 L454.64 683.58 L457.85 685.19 L464.27 685.99 L470.69 685.99 L472.3 682.78 L473.26 669.93 L474.23 649.05 L475.51 624.97 L476.64 604.09 L477.6 600.88 L478.24 596.06 L479.05 612.12 L480.33 636.21 L481.61 653.87 L483.54 656.28 L485.95 658.69 L487.56 663.51 L489.97 669.93 L492.37 673.14 L496.39 675.55 L498.8 677.16 L501.21 679.57 L503.62 682.78 L505.22 685.67 L507.63 686.79 L549.38 686.79 L549.38 686.8 Z" fill="#7076a8" stroke="none" stroke-width="1"/>
<rect x="450.1" y="587.7" width="99.6" height="99.1" fill="none" stroke="#c4c4c4" stroke-width="0.9"/>
<line x1="447.1" y1="595.6" x2="450.1" y2="595.6" stroke="#555" stroke-width="0.9"/>
<text x="445" y="598.8" font-size="9" text-anchor="end" fill="#333" stroke="#333" stroke-width="0.22">800</text>
<line x1="447.1" y1="618.6" x2="450.1" y2="618.6" stroke="#555" stroke-width="0.9"/>
<text x="445" y="621.8" font-size="9" text-anchor="end" fill="#333" stroke="#333" stroke-width="0.22">600</text>
<line x1="447.1" y1="641.2" x2="450.1" y2="641.2" stroke="#555" stroke-width="0.9"/>
<text x="445" y="644.4" font-size="9" text-anchor="end" fill="#333" stroke="#333" stroke-width="0.22">400</text>
<line x1="447.1" y1="664.2" x2="450.1" y2="664.2" stroke="#555" stroke-width="0.9"/>
<text x="445" y="667.4" font-size="9" text-anchor="end" fill="#333" stroke="#333" stroke-width="0.22">200</text>
<line x1="447.1" y1="687.1" x2="450.1" y2="687.1" stroke="#555" stroke-width="0.9"/>
<text x="445" y="690.3" font-size="9" text-anchor="end" fill="#333" stroke="#333" stroke-width="0.22">0</text>
<line x1="448.9" y1="687.1" x2="450.1" y2="687.1" stroke="#777" stroke-width="0.7"/>
<line x1="448.9" y1="681.38" x2="450.1" y2="681.38" stroke="#777" stroke-width="0.7"/>
<line x1="448.9" y1="675.65" x2="450.1" y2="675.65" stroke="#777" stroke-width="0.7"/>
<line x1="448.9" y1="669.92" x2="450.1" y2="669.92" stroke="#777" stroke-width="0.7"/>
<line x1="448.9" y1="664.2" x2="450.1" y2="664.2" stroke="#777" stroke-width="0.7"/>
<line x1="448.9" y1="658.47" x2="450.1" y2="658.47" stroke="#777" stroke-width="0.7"/>
<line x1="448.9" y1="652.75" x2="450.1" y2="652.75" stroke="#777" stroke-width="0.7"/>
<line x1="448.9" y1="647.02" x2="450.1" y2="647.02" stroke="#777" stroke-width="0.7"/>
<line x1="448.9" y1="641.3" x2="450.1" y2="641.3" stroke="#777" stroke-width="0.7"/>
<line x1="448.9" y1="635.57" x2="450.1" y2="635.57" stroke="#777" stroke-width="0.7"/>
<line x1="448.9" y1="629.85" x2="450.1" y2="629.85" stroke="#777" stroke-width="0.7"/>
<line x1="448.9" y1="624.12" x2="450.1" y2="624.12" stroke="#777" stroke-width="0.7"/>
<line x1="448.9" y1="618.4" x2="450.1" y2="618.4" stroke="#777" stroke-width="0.7"/>
<line x1="448.9" y1="612.67" x2="450.1" y2="612.67" stroke="#777" stroke-width="0.7"/>
<line x1="448.9" y1="606.95" x2="450.1" y2="606.95" stroke="#777" stroke-width="0.7"/>
<line x1="448.9" y1="601.22" x2="450.1" y2="601.22" stroke="#777" stroke-width="0.7"/>
<line x1="448.9" y1="595.5" x2="450.1" y2="595.5" stroke="#777" stroke-width="0.7"/>
<line x1="448.9" y1="589.77" x2="450.1" y2="589.77" stroke="#777" stroke-width="0.7"/>
<line x1="450.1" y1="686.8" x2="450.1" y2="688.1" stroke="#777" stroke-width="0.7"/>
<line x1="455.74" y1="686.8" x2="455.74" y2="688.1" stroke="#777" stroke-width="0.7"/>
<line x1="461.38" y1="686.8" x2="461.38" y2="688.1" stroke="#777" stroke-width="0.7"/>
<line x1="467.02" y1="686.8" x2="467.02" y2="688.1" stroke="#777" stroke-width="0.7"/>
<line x1="472.66" y1="686.8" x2="472.66" y2="688.1" stroke="#777" stroke-width="0.7"/>
<line x1="478.3" y1="686.8" x2="478.3" y2="688.1" stroke="#777" stroke-width="0.7"/>
<line x1="483.94" y1="686.8" x2="483.94" y2="688.1" stroke="#777" stroke-width="0.7"/>
<line x1="489.58" y1="686.8" x2="489.58" y2="688.1" stroke="#777" stroke-width="0.7"/>
<line x1="495.22" y1="686.8" x2="495.22" y2="688.1" stroke="#777" stroke-width="0.7"/>
<line x1="500.86" y1="686.8" x2="500.86" y2="688.1" stroke="#777" stroke-width="0.7"/>
<line x1="506.5" y1="686.8" x2="506.5" y2="688.1" stroke="#777" stroke-width="0.7"/>
<line x1="512.14" y1="686.8" x2="512.14" y2="688.1" stroke="#777" stroke-width="0.7"/>
<line x1="517.78" y1="686.8" x2="517.78" y2="688.1" stroke="#777" stroke-width="0.7"/>
<line x1="523.42" y1="686.8" x2="523.42" y2="688.1" stroke="#777" stroke-width="0.7"/>
<line x1="529.06" y1="686.8" x2="529.06" y2="688.1" stroke="#777" stroke-width="0.7"/>
<line x1="534.7" y1="686.8" x2="534.7" y2="688.1" stroke="#777" stroke-width="0.7"/>
<line x1="540.34" y1="686.8" x2="540.34" y2="688.1" stroke="#777" stroke-width="0.7"/>
<line x1="545.98" y1="686.8" x2="545.98" y2="688.1" stroke="#777" stroke-width="0.7"/>
<line x1="450.1" y1="686.8" x2="450.1" y2="689.8" stroke="#555" stroke-width="0.9"/>
<text x="450.1" y="698.3" font-size="8.4" text-anchor="middle" fill="#333" stroke="#333" stroke-width="0.22">0</text>
<line x1="478.3" y1="686.8" x2="478.3" y2="689.8" stroke="#555" stroke-width="0.9"/>
<text x="479.3" y="698.3" font-size="8.4" text-anchor="middle" fill="#333" stroke="#333" stroke-width="0.22">50K</text>
<line x1="506.3" y1="686.8" x2="506.3" y2="689.8" stroke="#555" stroke-width="0.9"/>
<text x="507.3" y="698.3" font-size="8.4" text-anchor="middle" fill="#333" stroke="#333" stroke-width="0.22">100K</text>
<line x1="534.8" y1="686.8" x2="534.8" y2="689.8" stroke="#555" stroke-width="0.9"/>
<text x="535.8" y="698.3" font-size="8.4" text-anchor="middle" fill="#333" stroke="#333" stroke-width="0.22">150K</text>
<text x="491" y="715" font-size="10" text-anchor="middle" fill="#333" stroke="#333" stroke-width="0.22">PI</text>
<text x="0" y="-50" font-size="10" text-anchor="middle" fill="#222" stroke="#222" stroke-width="0.22"></text>
<rect x="472" y="602.02" width="9.76" height="23.5" fill="#ffffff" stroke="none" stroke-width="1" fill-opacity="0.68"/>
<line x1="450.14" y1="644.72" x2="470.21" y2="644.72" stroke="#555" stroke-width="1"/>
<line x1="450.14" y1="642.72" x2="450.14" y2="646.72" stroke="#555" stroke-width="0.9"/>
<line x1="470.21" y1="642.72" x2="470.21" y2="646.72" stroke="#555" stroke-width="0.9"/>
<line x1="471.5" y1="619.02" x2="482.26" y2="619.02" stroke="#555" stroke-width="1"/>
<line x1="471.5" y1="617.02" x2="471.5" y2="621.02" stroke="#555" stroke-width="0.9"/>
<line x1="482.26" y1="617.02" x2="482.26" y2="621.02" stroke="#555" stroke-width="0.9"/>
<line x1="482.26" y1="624.16" x2="493.18" y2="624.16" stroke="#555" stroke-width="1"/>
<line x1="482.26" y1="622.16" x2="482.26" y2="626.16" stroke="#555" stroke-width="0.9"/>
<line x1="493.18" y1="622.16" x2="493.18" y2="626.16" stroke="#555" stroke-width="0.9"/>
<line x1="493.18" y1="629.46" x2="508.92" y2="629.46" stroke="#555" stroke-width="1"/>
<line x1="493.18" y1="627.46" x2="493.18" y2="631.46" stroke="#555" stroke-width="0.9"/>
<line x1="508.92" y1="627.46" x2="508.92" y2="631.46" stroke="#555" stroke-width="0.9"/>
<text x="459.77" y="643.4" font-size="8.4" text-anchor="middle" fill="#333" stroke="#333" stroke-width="0.22">6</text>
<text x="475.99" y="610.32" font-size="8.6" font-weight="bold" text-anchor="middle" fill="#111">G1</text>
<text x="476.64" y="617.71" font-size="8.4" text-anchor="middle" fill="#333" stroke="#333" stroke-width="0.22">54</text>
<text x="488.04" y="616.75" font-size="8.6" font-weight="bold" text-anchor="middle" fill="#111">S</text>
<text x="488.04" y="624.13" font-size="8.4" text-anchor="middle" fill="#333" stroke="#333" stroke-width="0.22">28</text>
<text x="501.53" y="621.56" font-size="8.6" font-weight="bold" text-anchor="middle" fill="#111">G2</text>
<text x="501.53" y="629.27" font-size="8.4" text-anchor="middle" fill="#333" stroke="#333" stroke-width="0.22">12</text>
<path d="M582.69 685.4 L582.69 683.87 L583.47 678.41 L584.25 675.28 L585.5 677.63 L587.37 681.53 L590.5 683.87 L596.74 684.34 L602.99 683.87 L604.24 681.53 L605.34 673.72 L606.43 654.98 L607.68 631.55 L608.93 611.24 L610.02 600.31 L611.11 592.5 L612.05 604.99 L613.15 623.74 L614.71 645.6 L616.27 650.29 L617.83 654.98 L619.39 661.22 L621.74 667.47 L624.08 671.38 L626.42 673.41 L629.55 672.94 L631.89 674.5 L634.23 677.63 L636.58 680.75 L638.92 683.09 L641.26 684.97 L643.6 685.4 L682.34 685.4 L682.34 685.4 Z" fill="#525c98" stroke="none" stroke-width="1"/>
<rect x="582.7" y="586.6" width="99.6" height="98.8" fill="none" stroke="#c4c4c4" stroke-width="0.9"/>
<line x1="579.7" y1="610.1" x2="582.7" y2="610.1" stroke="#555" stroke-width="0.9"/>
<text x="578.8" y="613.3" font-size="9" text-anchor="end" fill="#333" stroke="#333" stroke-width="0.22">600</text>
<line x1="579.7" y1="635.3" x2="582.7" y2="635.3" stroke="#555" stroke-width="0.9"/>
<text x="578.8" y="638.5" font-size="9" text-anchor="end" fill="#333" stroke="#333" stroke-width="0.22">400</text>
<line x1="579.7" y1="660.2" x2="582.7" y2="660.2" stroke="#555" stroke-width="0.9"/>
<text x="578.8" y="663.4" font-size="9" text-anchor="end" fill="#333" stroke="#333" stroke-width="0.22">200</text>
<line x1="579.7" y1="686" x2="582.7" y2="686" stroke="#555" stroke-width="0.9"/>
<text x="578.8" y="689.2" font-size="9" text-anchor="end" fill="#333" stroke="#333" stroke-width="0.22">0</text>
<line x1="581.5" y1="686" x2="582.7" y2="686" stroke="#777" stroke-width="0.7"/>
<line x1="581.5" y1="679.55" x2="582.7" y2="679.55" stroke="#777" stroke-width="0.7"/>
<line x1="581.5" y1="673.1" x2="582.7" y2="673.1" stroke="#777" stroke-width="0.7"/>
<line x1="581.5" y1="666.65" x2="582.7" y2="666.65" stroke="#777" stroke-width="0.7"/>
<line x1="581.5" y1="660.2" x2="582.7" y2="660.2" stroke="#777" stroke-width="0.7"/>
<line x1="581.5" y1="653.75" x2="582.7" y2="653.75" stroke="#777" stroke-width="0.7"/>
<line x1="581.5" y1="647.3" x2="582.7" y2="647.3" stroke="#777" stroke-width="0.7"/>
<line x1="581.5" y1="640.85" x2="582.7" y2="640.85" stroke="#777" stroke-width="0.7"/>
<line x1="581.5" y1="634.4" x2="582.7" y2="634.4" stroke="#777" stroke-width="0.7"/>
<line x1="581.5" y1="627.95" x2="582.7" y2="627.95" stroke="#777" stroke-width="0.7"/>
<line x1="581.5" y1="621.5" x2="582.7" y2="621.5" stroke="#777" stroke-width="0.7"/>
<line x1="581.5" y1="615.05" x2="582.7" y2="615.05" stroke="#777" stroke-width="0.7"/>
<line x1="581.5" y1="608.6" x2="582.7" y2="608.6" stroke="#777" stroke-width="0.7"/>
<line x1="581.5" y1="602.15" x2="582.7" y2="602.15" stroke="#777" stroke-width="0.7"/>
<line x1="581.5" y1="595.7" x2="582.7" y2="595.7" stroke="#777" stroke-width="0.7"/>
<line x1="581.5" y1="589.25" x2="582.7" y2="589.25" stroke="#777" stroke-width="0.7"/>
<line x1="582.7" y1="685.4" x2="582.7" y2="686.7" stroke="#777" stroke-width="0.7"/>
<line x1="588.26" y1="685.4" x2="588.26" y2="686.7" stroke="#777" stroke-width="0.7"/>
<line x1="593.82" y1="685.4" x2="593.82" y2="686.7" stroke="#777" stroke-width="0.7"/>
<line x1="599.38" y1="685.4" x2="599.38" y2="686.7" stroke="#777" stroke-width="0.7"/>
<line x1="604.94" y1="685.4" x2="604.94" y2="686.7" stroke="#777" stroke-width="0.7"/>
<line x1="610.5" y1="685.4" x2="610.5" y2="686.7" stroke="#777" stroke-width="0.7"/>
<line x1="616.06" y1="685.4" x2="616.06" y2="686.7" stroke="#777" stroke-width="0.7"/>
<line x1="621.62" y1="685.4" x2="621.62" y2="686.7" stroke="#777" stroke-width="0.7"/>
<line x1="627.18" y1="685.4" x2="627.18" y2="686.7" stroke="#777" stroke-width="0.7"/>
<line x1="632.74" y1="685.4" x2="632.74" y2="686.7" stroke="#777" stroke-width="0.7"/>
<line x1="638.3" y1="685.4" x2="638.3" y2="686.7" stroke="#777" stroke-width="0.7"/>
<line x1="643.86" y1="685.4" x2="643.86" y2="686.7" stroke="#777" stroke-width="0.7"/>
<line x1="649.42" y1="685.4" x2="649.42" y2="686.7" stroke="#777" stroke-width="0.7"/>
<line x1="654.98" y1="685.4" x2="654.98" y2="686.7" stroke="#777" stroke-width="0.7"/>
<line x1="660.54" y1="685.4" x2="660.54" y2="686.7" stroke="#777" stroke-width="0.7"/>
<line x1="666.1" y1="685.4" x2="666.1" y2="686.7" stroke="#777" stroke-width="0.7"/>
<line x1="671.66" y1="685.4" x2="671.66" y2="686.7" stroke="#777" stroke-width="0.7"/>
<line x1="677.22" y1="685.4" x2="677.22" y2="686.7" stroke="#777" stroke-width="0.7"/>
<line x1="582.7" y1="685.4" x2="582.7" y2="688.4" stroke="#555" stroke-width="0.9"/>
<text x="582.7" y="696.9" font-size="8.4" text-anchor="middle" fill="#333" stroke="#333" stroke-width="0.22">0</text>
<line x1="610.5" y1="685.4" x2="610.5" y2="688.4" stroke="#555" stroke-width="0.9"/>
<text x="611.5" y="696.9" font-size="8.4" text-anchor="middle" fill="#333" stroke="#333" stroke-width="0.22">50K</text>
<line x1="640.1" y1="685.4" x2="640.1" y2="688.4" stroke="#555" stroke-width="0.9"/>
<text x="641.1" y="696.9" font-size="8.4" text-anchor="middle" fill="#333" stroke="#333" stroke-width="0.22">100K</text>
<line x1="669" y1="685.4" x2="669" y2="688.4" stroke="#555" stroke-width="0.9"/>
<text x="670" y="696.9" font-size="8.4" text-anchor="middle" fill="#333" stroke="#333" stroke-width="0.22">150K</text>
<text x="623.7" y="715" font-size="10" text-anchor="middle" fill="#333" stroke="#333" stroke-width="0.22">PI</text>
<text x="0" y="-50" font-size="10" text-anchor="middle" fill="#222" stroke="#222" stroke-width="0.22"></text>
<rect x="605.05" y="600.02" width="9.93" height="23.5" fill="#ffffff" stroke="none" stroke-width="1" fill-opacity="0.68"/>
<line x1="582.69" y1="642.95" x2="603.46" y2="642.95" stroke="#555" stroke-width="1"/>
<line x1="582.69" y1="640.95" x2="582.69" y2="644.95" stroke="#555" stroke-width="0.9"/>
<line x1="603.46" y1="640.95" x2="603.46" y2="644.95" stroke="#555" stroke-width="0.9"/>
<line x1="604.55" y1="617.02" x2="615.49" y2="617.02" stroke="#555" stroke-width="1"/>
<line x1="604.55" y1="615.02" x2="604.55" y2="619.02" stroke="#555" stroke-width="0.9"/>
<line x1="615.49" y1="615.02" x2="615.49" y2="619.02" stroke="#555" stroke-width="0.9"/>
<line x1="615.49" y1="622.17" x2="626.89" y2="622.17" stroke="#555" stroke-width="1"/>
<line x1="615.49" y1="620.17" x2="615.49" y2="624.17" stroke="#555" stroke-width="0.9"/>
<line x1="626.89" y1="620.17" x2="626.89" y2="624.17" stroke="#555" stroke-width="0.9"/>
<line x1="626.89" y1="627.17" x2="642.35" y2="627.17" stroke="#555" stroke-width="1"/>
<line x1="626.89" y1="625.17" x2="626.89" y2="629.17" stroke="#555" stroke-width="0.9"/>
<line x1="642.35" y1="625.17" x2="642.35" y2="629.17" stroke="#555" stroke-width="0.9"/>
<text x="593.15" y="640.81" font-size="8.4" text-anchor="middle" fill="#333" stroke="#333" stroke-width="0.22">7</text>
<text x="610.33" y="607.69" font-size="8.6" font-weight="bold" text-anchor="middle" fill="#111">G1</text>
<text x="610.8" y="614.72" font-size="8.4" text-anchor="middle" fill="#333" stroke="#333" stroke-width="0.22">55</text>
<text x="620.96" y="614.72" font-size="8.6" font-weight="bold" text-anchor="middle" fill="#111">S</text>
<text x="621.42" y="621.75" font-size="8.4" text-anchor="middle" fill="#333" stroke="#333" stroke-width="0.22">25</text>
<text x="634.54" y="617.85" font-size="8.6" font-weight="bold" text-anchor="middle" fill="#111">G2</text>
<text x="634.54" y="625.66" font-size="8.4" text-anchor="middle" fill="#333" stroke="#333" stroke-width="0.22">12</text>
<text x="7.5" y="736.6" font-size="17.5" font-weight="bold" text-anchor="start" fill="#000">G</text>
<rect x="42.2" y="886.92" width="5.8" height="4.28" fill="#d4d5f5" stroke="none" stroke-width="1"/>
<line x1="45.1" y1="885.06" x2="45.1" y2="888.78" stroke="#1a1a1a" stroke-width="1"/>
<line x1="43.5" y1="885.06" x2="46.7" y2="885.06" stroke="#1a1a1a" stroke-width="1"/>
<line x1="43.5" y1="888.78" x2="46.7" y2="888.78" stroke="#1a1a1a" stroke-width="1"/>
<rect x="48.92" y="885.62" width="5.8" height="5.58" fill="#aab1e6" stroke="none" stroke-width="1"/>
<line x1="51.82" y1="883.2" x2="51.82" y2="888.04" stroke="#1a1a1a" stroke-width="1"/>
<line x1="50.22" y1="883.2" x2="53.42" y2="883.2" stroke="#1a1a1a" stroke-width="1"/>
<line x1="50.22" y1="888.04" x2="53.42" y2="888.04" stroke="#1a1a1a" stroke-width="1"/>
<rect x="55.64" y="885.25" width="5.8" height="5.95" fill="#8890c6" stroke="none" stroke-width="1"/>
<line x1="58.54" y1="881.53" x2="58.54" y2="888.97" stroke="#1a1a1a" stroke-width="1"/>
<line x1="56.94" y1="881.53" x2="60.14" y2="881.53" stroke="#1a1a1a" stroke-width="1"/>
<line x1="56.94" y1="888.97" x2="60.14" y2="888.97" stroke="#1a1a1a" stroke-width="1"/>
<rect x="62.36" y="878.55" width="5.8" height="12.65" fill="#6c73a8" stroke="none" stroke-width="1"/>
<line x1="65.26" y1="877.62" x2="65.26" y2="879.48" stroke="#1a1a1a" stroke-width="1"/>
<line x1="63.66" y1="877.62" x2="66.86" y2="877.62" stroke="#1a1a1a" stroke-width="1"/>
<line x1="63.66" y1="879.48" x2="66.86" y2="879.48" stroke="#1a1a1a" stroke-width="1"/>
<rect x="69.08" y="842.84" width="5.8" height="48.36" fill="#4f5a98" stroke="none" stroke-width="1"/>
<line x1="71.98" y1="829.82" x2="71.98" y2="855.86" stroke="#1a1a1a" stroke-width="1"/>
<line x1="70.38" y1="829.82" x2="73.58" y2="829.82" stroke="#1a1a1a" stroke-width="1"/>
<line x1="70.38" y1="855.86" x2="73.58" y2="855.86" stroke="#1a1a1a" stroke-width="1"/>
<rect x="82" y="790.76" width="5.8" height="100.44" fill="#d4d5f5" stroke="none" stroke-width="1"/>
<line x1="84.9" y1="789.83" x2="84.9" y2="791.69" stroke="#1a1a1a" stroke-width="1"/>
<line x1="83.3" y1="789.83" x2="86.5" y2="789.83" stroke="#1a1a1a" stroke-width="1"/>
<line x1="83.3" y1="791.69" x2="86.5" y2="791.69" stroke="#1a1a1a" stroke-width="1"/>
<rect x="88.72" y="795.04" width="5.8" height="96.16" fill="#aab1e6" stroke="none" stroke-width="1"/>
<line x1="91.62" y1="792.25" x2="91.62" y2="797.83" stroke="#1a1a1a" stroke-width="1"/>
<line x1="90.02" y1="792.25" x2="93.22" y2="792.25" stroke="#1a1a1a" stroke-width="1"/>
<line x1="90.02" y1="797.83" x2="93.22" y2="797.83" stroke="#1a1a1a" stroke-width="1"/>
<rect x="95.44" y="801.18" width="5.8" height="90.02" fill="#8890c6" stroke="none" stroke-width="1"/>
<line x1="98.34" y1="789.09" x2="98.34" y2="813.27" stroke="#1a1a1a" stroke-width="1"/>
<line x1="96.74" y1="789.09" x2="99.94" y2="789.09" stroke="#1a1a1a" stroke-width="1"/>
<line x1="96.74" y1="813.27" x2="99.94" y2="813.27" stroke="#1a1a1a" stroke-width="1"/>
<rect x="102.16" y="805.27" width="5.8" height="85.93" fill="#6c73a8" stroke="none" stroke-width="1"/>
<line x1="105.06" y1="795.97" x2="105.06" y2="814.57" stroke="#1a1a1a" stroke-width="1"/>
<line x1="103.46" y1="795.97" x2="106.66" y2="795.97" stroke="#1a1a1a" stroke-width="1"/>
<line x1="103.46" y1="814.57" x2="106.66" y2="814.57" stroke="#1a1a1a" stroke-width="1"/>
<rect x="108.88" y="792.62" width="5.8" height="98.58" fill="#4f5a98" stroke="none" stroke-width="1"/>
<line x1="111.78" y1="787.04" x2="111.78" y2="798.2" stroke="#1a1a1a" stroke-width="1"/>
<line x1="110.18" y1="787.04" x2="113.38" y2="787.04" stroke="#1a1a1a" stroke-width="1"/>
<line x1="110.18" y1="798.2" x2="113.38" y2="798.2" stroke="#1a1a1a" stroke-width="1"/>
<rect x="121.7" y="852.33" width="5.8" height="38.87" fill="#d4d5f5" stroke="none" stroke-width="1"/>
<line x1="124.6" y1="851.58" x2="124.6" y2="853.07" stroke="#1a1a1a" stroke-width="1"/>
<line x1="123" y1="851.58" x2="126.2" y2="851.58" stroke="#1a1a1a" stroke-width="1"/>
<line x1="123" y1="853.07" x2="126.2" y2="853.07" stroke="#1a1a1a" stroke-width="1"/>
<rect x="128.42" y="846.93" width="5.8" height="44.27" fill="#aab1e6" stroke="none" stroke-width="1"/>
<line x1="131.32" y1="845.44" x2="131.32" y2="848.42" stroke="#1a1a1a" stroke-width="1"/>
<line x1="129.72" y1="845.44" x2="132.92" y2="845.44" stroke="#1a1a1a" stroke-width="1"/>
<line x1="129.72" y1="848.42" x2="132.92" y2="848.42" stroke="#1a1a1a" stroke-width="1"/>
<rect x="135.14" y="832.42" width="5.8" height="58.78" fill="#8890c6" stroke="none" stroke-width="1"/>
<line x1="138.04" y1="829.63" x2="138.04" y2="835.21" stroke="#1a1a1a" stroke-width="1"/>
<line x1="136.44" y1="829.63" x2="139.64" y2="829.63" stroke="#1a1a1a" stroke-width="1"/>
<line x1="136.44" y1="835.21" x2="139.64" y2="835.21" stroke="#1a1a1a" stroke-width="1"/>
<rect x="141.86" y="830.56" width="5.8" height="60.64" fill="#6c73a8" stroke="none" stroke-width="1"/>
<line x1="144.76" y1="824.05" x2="144.76" y2="837.07" stroke="#1a1a1a" stroke-width="1"/>
<line x1="143.16" y1="824.05" x2="146.36" y2="824.05" stroke="#1a1a1a" stroke-width="1"/>
<line x1="143.16" y1="837.07" x2="146.36" y2="837.07" stroke="#1a1a1a" stroke-width="1"/>
<rect x="148.58" y="871.67" width="5.8" height="19.53" fill="#4f5a98" stroke="none" stroke-width="1"/>
<line x1="151.48" y1="865.72" x2="151.48" y2="877.62" stroke="#1a1a1a" stroke-width="1"/>
<line x1="149.88" y1="865.72" x2="153.08" y2="865.72" stroke="#1a1a1a" stroke-width="1"/>
<line x1="149.88" y1="877.62" x2="153.08" y2="877.62" stroke="#1a1a1a" stroke-width="1"/>
<rect x="161" y="853.63" width="5.8" height="37.57" fill="#d4d5f5" stroke="none" stroke-width="1"/>
<line x1="163.9" y1="851.77" x2="163.9" y2="855.49" stroke="#1a1a1a" stroke-width="1"/>
<line x1="162.3" y1="851.77" x2="165.5" y2="851.77" stroke="#1a1a1a" stroke-width="1"/>
<line x1="162.3" y1="855.49" x2="165.5" y2="855.49" stroke="#1a1a1a" stroke-width="1"/>
<rect x="167.72" y="856.05" width="5.8" height="35.15" fill="#aab1e6" stroke="none" stroke-width="1"/>
<line x1="170.62" y1="854.93" x2="170.62" y2="857.16" stroke="#1a1a1a" stroke-width="1"/>
<line x1="169.02" y1="854.93" x2="172.22" y2="854.93" stroke="#1a1a1a" stroke-width="1"/>
<line x1="169.02" y1="857.16" x2="172.22" y2="857.16" stroke="#1a1a1a" stroke-width="1"/>
<rect x="174.44" y="867.02" width="5.8" height="24.18" fill="#8890c6" stroke="none" stroke-width="1"/>
<line x1="177.34" y1="860.88" x2="177.34" y2="873.16" stroke="#1a1a1a" stroke-width="1"/>
<line x1="175.74" y1="860.88" x2="178.94" y2="860.88" stroke="#1a1a1a" stroke-width="1"/>
<line x1="175.74" y1="873.16" x2="178.94" y2="873.16" stroke="#1a1a1a" stroke-width="1"/>
<rect x="181.16" y="871.67" width="5.8" height="19.53" fill="#6c73a8" stroke="none" stroke-width="1"/>
<line x1="184.06" y1="869.81" x2="184.06" y2="873.53" stroke="#1a1a1a" stroke-width="1"/>
<line x1="182.46" y1="869.81" x2="185.66" y2="869.81" stroke="#1a1a1a" stroke-width="1"/>
<line x1="182.46" y1="873.53" x2="185.66" y2="873.53" stroke="#1a1a1a" stroke-width="1"/>
<rect x="187.88" y="878.92" width="5.8" height="12.28" fill="#4f5a98" stroke="none" stroke-width="1"/>
<line x1="190.78" y1="875.39" x2="190.78" y2="882.46" stroke="#1a1a1a" stroke-width="1"/>
<line x1="189.18" y1="875.39" x2="192.38" y2="875.39" stroke="#1a1a1a" stroke-width="1"/>
<line x1="189.18" y1="882.46" x2="192.38" y2="882.46" stroke="#1a1a1a" stroke-width="1"/>
<line x1="39.5" y1="779.1" x2="39.5" y2="891.8" stroke="#1a1a1a" stroke-width="1.3"/>
<line x1="39.5" y1="891.2" x2="197.4" y2="891.2" stroke="#1a1a1a" stroke-width="1.3"/>
<line x1="35.5" y1="891.2" x2="39.5" y2="891.2" stroke="#1a1a1a" stroke-width="1.1"/>
<text x="33.8" y="894.4" font-size="8.8" text-anchor="end" fill="#222" stroke="#222" stroke-width="0.22">0</text>
<line x1="35.5" y1="854" x2="39.5" y2="854" stroke="#1a1a1a" stroke-width="1.1"/>
<text x="33.8" y="857.2" font-size="8.8" text-anchor="end" fill="#222" stroke="#222" stroke-width="0.22">20</text>
<line x1="35.5" y1="816.8" x2="39.5" y2="816.8" stroke="#1a1a1a" stroke-width="1.1"/>
<text x="33.8" y="820" font-size="8.8" text-anchor="end" fill="#222" stroke="#222" stroke-width="0.22">40</text>
<line x1="35.5" y1="779.6" x2="39.5" y2="779.6" stroke="#1a1a1a" stroke-width="1.1"/>
<text x="33.8" y="782.8" font-size="8.8" text-anchor="end" fill="#222" stroke="#222" stroke-width="0.22">60</text>
<line x1="58.8" y1="891.2" x2="58.8" y2="895.2" stroke="#1a1a1a" stroke-width="1.1"/>
<text x="58.8" y="909.6" font-size="8.8" text-anchor="middle" fill="#222" stroke="#222" stroke-width="0.22">subG1</text>
<line x1="98.4" y1="891.2" x2="98.4" y2="895.2" stroke="#1a1a1a" stroke-width="1.1"/>
<text x="98.4" y="909.6" font-size="8.8" text-anchor="middle" fill="#222" stroke="#222" stroke-width="0.22">G1</text>
<line x1="137.7" y1="891.2" x2="137.7" y2="895.2" stroke="#1a1a1a" stroke-width="1.1"/>
<text x="137.7" y="909.6" font-size="8.8" text-anchor="middle" fill="#222" stroke="#222" stroke-width="0.22">S</text>
<line x1="178" y1="891.2" x2="178" y2="895.2" stroke="#1a1a1a" stroke-width="1.1"/>
<text x="178" y="909.6" font-size="8.8" text-anchor="middle" fill="#222" stroke="#222" stroke-width="0.22">G2M</text>
<text x="20.5" y="831" font-size="11.5" font-weight="bold" text-anchor="middle" fill="#1a1a1a" transform="rotate(-90 20.5 831)">%</text>
<text x="115" y="758.5" font-size="9.5" font-weight="bold" text-anchor="middle" fill="#1a1a1a">SU-DIPGXIII</text>
<path d="M45.1 884.2 L45.1 779.5 L72.8 779.5 L72.8 829.5" fill="none" stroke="#1a1a1a" stroke-width="1.1"/>
<path d="M50.3 771.75 L50.3 776.65 M48.18 772.98 L52.42 775.43 M52.42 772.98 L48.18 775.43 " fill="none" stroke="#1a1a1a" stroke-width="0.95"/>
<path d="M55.7 771.75 L55.7 776.65 M53.58 772.98 L57.82 775.43 M57.82 772.98 L53.58 775.43 " fill="none" stroke="#1a1a1a" stroke-width="0.95"/>
<path d="M61.1 771.75 L61.1 776.65 M58.98 772.98 L63.22 775.43 M63.22 772.98 L58.98 775.43 " fill="none" stroke="#1a1a1a" stroke-width="0.95"/>
<path d="M66.5 771.75 L66.5 776.65 M64.38 772.98 L68.62 775.43 M68.62 772.98 L64.38 775.43 " fill="none" stroke="#1a1a1a" stroke-width="0.95"/>
<path d="M84.9 787.9 L84.9 779.5 L105.6 779.5 L105.6 788.3" fill="none" stroke="#1a1a1a" stroke-width="1.1"/>
<path d="M96.4 771.75 L96.4 776.65 M94.28 772.98 L98.52 775.43 M98.52 772.98 L94.28 775.43 " fill="none" stroke="#1a1a1a" stroke-width="0.95"/>
<path d="M124.6 787.9 L124.6 779.5 L152.3 779.5 L152.3 861.5" fill="none" stroke="#1a1a1a" stroke-width="1.1"/>
<path d="M137.5 771.75 L137.5 776.65 M135.38 772.98 L139.62 775.43 M139.62 772.98 L135.38 775.43 " fill="none" stroke="#1a1a1a" stroke-width="0.95"/>
<path d="M142.9 771.75 L142.9 776.65 M140.78 772.98 L145.02 775.43 M145.02 772.98 L140.78 775.43 " fill="none" stroke="#1a1a1a" stroke-width="0.95"/>
<path d="M124.6 806 L124.6 797.5 L145.3 797.5 L145.3 819.5" fill="none" stroke="#1a1a1a" stroke-width="1.1"/>
<path d="M129.6 790.95 L129.6 795.85 M127.48 792.17 L131.72 794.62 M131.72 792.17 L127.48 794.62 " fill="none" stroke="#1a1a1a" stroke-width="0.95"/>
<path d="M135 790.95 L135 795.85 M132.88 792.17 L137.12 794.62 M137.12 792.17 L132.88 794.62 " fill="none" stroke="#1a1a1a" stroke-width="0.95"/>
<path d="M140.4 790.95 L140.4 795.85 M138.28 792.17 L142.52 794.62 M142.52 792.17 L138.28 794.62 " fill="none" stroke="#1a1a1a" stroke-width="0.95"/>
<path d="M124.6 850.5 L124.6 816.3 L138.6 816.3 L138.6 825" fill="none" stroke="#1a1a1a" stroke-width="1.1"/>
<path d="M129.1 808.75 L129.1 813.65 M126.98 809.98 L131.22 812.43 M131.22 809.98 L126.98 812.43 " fill="none" stroke="#1a1a1a" stroke-width="0.95"/>
<path d="M134.5 808.75 L134.5 813.65 M132.38 809.98 L136.62 812.43 M136.62 809.98 L132.38 812.43 " fill="none" stroke="#1a1a1a" stroke-width="0.95"/>
<path d="M163.1 790.3 L163.1 781.4 L192 781.4 L192 875.8" fill="none" stroke="#1a1a1a" stroke-width="1.1"/>
<path d="M171.7 775.05 L171.7 779.95 M169.58 776.27 L173.82 778.73 M173.82 776.27 L169.58 778.73 " fill="none" stroke="#1a1a1a" stroke-width="0.95"/>
<path d="M177.1 775.05 L177.1 779.95 M174.98 776.27 L179.22 778.73 M179.22 776.27 L174.98 778.73 " fill="none" stroke="#1a1a1a" stroke-width="0.95"/>
<path d="M182.5 775.05 L182.5 779.95 M180.38 776.27 L184.62 778.73 M184.62 776.27 L180.38 778.73 " fill="none" stroke="#1a1a1a" stroke-width="0.95"/>
<path d="M167 850.5 L167 799.2 L187.5 799.2 L187.5 866.2" fill="none" stroke="#1a1a1a" stroke-width="1.1"/>
<path d="M174.9 791.95 L174.9 796.85 M172.78 793.17 L177.02 795.62 M177.02 793.17 L172.78 795.62 " fill="none" stroke="#1a1a1a" stroke-width="0.95"/>
<path d="M180.3 791.95 L180.3 796.85 M178.18 793.17 L182.42 795.62 M182.42 793.17 L178.18 795.62 " fill="none" stroke="#1a1a1a" stroke-width="0.95"/>
<rect x="251.5" y="888.73" width="5.8" height="3.57" fill="#d4d5f5" stroke="none" stroke-width="1"/>
<line x1="254.4" y1="885.88" x2="254.4" y2="891.59" stroke="#1a1a1a" stroke-width="1"/>
<line x1="252.8" y1="885.88" x2="256" y2="885.88" stroke="#1a1a1a" stroke-width="1"/>
<line x1="252.8" y1="891.59" x2="256" y2="891.59" stroke="#1a1a1a" stroke-width="1"/>
<rect x="258.22" y="888.02" width="5.8" height="4.28" fill="#aab1e6" stroke="none" stroke-width="1"/>
<line x1="261.12" y1="884.45" x2="261.12" y2="891.59" stroke="#1a1a1a" stroke-width="1"/>
<line x1="259.52" y1="884.45" x2="262.72" y2="884.45" stroke="#1a1a1a" stroke-width="1"/>
<line x1="259.52" y1="891.59" x2="262.72" y2="891.59" stroke="#1a1a1a" stroke-width="1"/>
<rect x="264.94" y="887.3" width="5.8" height="5" fill="#8890c6" stroke="none" stroke-width="1"/>
<line x1="267.84" y1="883.73" x2="267.84" y2="890.87" stroke="#1a1a1a" stroke-width="1"/>
<line x1="266.24" y1="883.73" x2="269.44" y2="883.73" stroke="#1a1a1a" stroke-width="1"/>
<line x1="266.24" y1="890.87" x2="269.44" y2="890.87" stroke="#1a1a1a" stroke-width="1"/>
<rect x="271.66" y="886.59" width="5.8" height="5.71" fill="#6c73a8" stroke="none" stroke-width="1"/>
<line x1="274.56" y1="883.02" x2="274.56" y2="890.16" stroke="#1a1a1a" stroke-width="1"/>
<line x1="272.96" y1="883.02" x2="276.16" y2="883.02" stroke="#1a1a1a" stroke-width="1"/>
<line x1="272.96" y1="890.16" x2="276.16" y2="890.16" stroke="#1a1a1a" stroke-width="1"/>
<rect x="278.38" y="885.88" width="5.8" height="6.42" fill="#4f5a98" stroke="none" stroke-width="1"/>
<line x1="281.28" y1="883.02" x2="281.28" y2="888.73" stroke="#1a1a1a" stroke-width="1"/>
<line x1="279.68" y1="883.02" x2="282.88" y2="883.02" stroke="#1a1a1a" stroke-width="1"/>
<line x1="279.68" y1="888.73" x2="282.88" y2="888.73" stroke="#1a1a1a" stroke-width="1"/>
<rect x="290.8" y="810.65" width="5.8" height="81.65" fill="#d4d5f5" stroke="none" stroke-width="1"/>
<line x1="293.7" y1="805.65" x2="293.7" y2="815.64" stroke="#1a1a1a" stroke-width="1"/>
<line x1="292.1" y1="805.65" x2="295.3" y2="805.65" stroke="#1a1a1a" stroke-width="1"/>
<line x1="292.1" y1="815.64" x2="295.3" y2="815.64" stroke="#1a1a1a" stroke-width="1"/>
<rect x="297.52" y="824.92" width="5.8" height="67.38" fill="#aab1e6" stroke="none" stroke-width="1"/>
<line x1="300.42" y1="823.49" x2="300.42" y2="826.35" stroke="#1a1a1a" stroke-width="1"/>
<line x1="298.82" y1="823.49" x2="302.02" y2="823.49" stroke="#1a1a1a" stroke-width="1"/>
<line x1="298.82" y1="826.35" x2="302.02" y2="826.35" stroke="#1a1a1a" stroke-width="1"/>
<rect x="304.24" y="821.07" width="5.8" height="71.23" fill="#8890c6" stroke="none" stroke-width="1"/>
<line x1="307.14" y1="820.35" x2="307.14" y2="821.78" stroke="#1a1a1a" stroke-width="1"/>
<line x1="305.54" y1="820.35" x2="308.74" y2="820.35" stroke="#1a1a1a" stroke-width="1"/>
<line x1="305.54" y1="821.78" x2="308.74" y2="821.78" stroke="#1a1a1a" stroke-width="1"/>
<rect x="310.96" y="815.36" width="5.8" height="76.94" fill="#6c73a8" stroke="none" stroke-width="1"/>
<line x1="313.86" y1="814.93" x2="313.86" y2="815.79" stroke="#1a1a1a" stroke-width="1"/>
<line x1="312.26" y1="814.93" x2="315.46" y2="814.93" stroke="#1a1a1a" stroke-width="1"/>
<line x1="312.26" y1="815.79" x2="315.46" y2="815.79" stroke="#1a1a1a" stroke-width="1"/>
<rect x="317.68" y="810.93" width="5.8" height="81.37" fill="#4f5a98" stroke="none" stroke-width="1"/>
<line x1="320.58" y1="805.22" x2="320.58" y2="816.64" stroke="#1a1a1a" stroke-width="1"/>
<line x1="318.98" y1="805.22" x2="322.18" y2="805.22" stroke="#1a1a1a" stroke-width="1"/>
<line x1="318.98" y1="816.64" x2="322.18" y2="816.64" stroke="#1a1a1a" stroke-width="1"/>
<rect x="329.7" y="870.32" width="5.8" height="21.98" fill="#d4d5f5" stroke="none" stroke-width="1"/>
<line x1="332.6" y1="869.17" x2="332.6" y2="871.46" stroke="#1a1a1a" stroke-width="1"/>
<line x1="331" y1="869.17" x2="334.2" y2="869.17" stroke="#1a1a1a" stroke-width="1"/>
<line x1="331" y1="871.46" x2="334.2" y2="871.46" stroke="#1a1a1a" stroke-width="1"/>
<rect x="336.42" y="853.33" width="5.8" height="38.97" fill="#aab1e6" stroke="none" stroke-width="1"/>
<line x1="339.32" y1="851.9" x2="339.32" y2="854.76" stroke="#1a1a1a" stroke-width="1"/>
<line x1="337.72" y1="851.9" x2="340.92" y2="851.9" stroke="#1a1a1a" stroke-width="1"/>
<line x1="337.72" y1="854.76" x2="340.92" y2="854.76" stroke="#1a1a1a" stroke-width="1"/>
<rect x="343.14" y="848.05" width="5.8" height="44.25" fill="#8890c6" stroke="none" stroke-width="1"/>
<line x1="346.04" y1="843.76" x2="346.04" y2="852.33" stroke="#1a1a1a" stroke-width="1"/>
<line x1="344.44" y1="843.76" x2="347.64" y2="843.76" stroke="#1a1a1a" stroke-width="1"/>
<line x1="344.44" y1="852.33" x2="347.64" y2="852.33" stroke="#1a1a1a" stroke-width="1"/>
<rect x="349.86" y="851.47" width="5.8" height="40.83" fill="#6c73a8" stroke="none" stroke-width="1"/>
<line x1="352.76" y1="846.48" x2="352.76" y2="856.47" stroke="#1a1a1a" stroke-width="1"/>
<line x1="351.16" y1="846.48" x2="354.36" y2="846.48" stroke="#1a1a1a" stroke-width="1"/>
<line x1="351.16" y1="856.47" x2="354.36" y2="856.47" stroke="#1a1a1a" stroke-width="1"/>
<rect x="356.58" y="856.76" width="5.8" height="35.54" fill="#4f5a98" stroke="none" stroke-width="1"/>
<line x1="359.48" y1="855.33" x2="359.48" y2="858.18" stroke="#1a1a1a" stroke-width="1"/>
<line x1="357.88" y1="855.33" x2="361.08" y2="855.33" stroke="#1a1a1a" stroke-width="1"/>
<line x1="357.88" y1="858.18" x2="361.08" y2="858.18" stroke="#1a1a1a" stroke-width="1"/>
<rect x="368.6" y="861.18" width="5.8" height="31.12" fill="#d4d5f5" stroke="none" stroke-width="1"/>
<line x1="371.5" y1="858.33" x2="371.5" y2="864.04" stroke="#1a1a1a" stroke-width="1"/>
<line x1="369.9" y1="858.33" x2="373.1" y2="858.33" stroke="#1a1a1a" stroke-width="1"/>
<line x1="369.9" y1="864.04" x2="373.1" y2="864.04" stroke="#1a1a1a" stroke-width="1"/>
<rect x="375.32" y="865.03" width="5.8" height="27.27" fill="#aab1e6" stroke="none" stroke-width="1"/>
<line x1="378.22" y1="860.75" x2="378.22" y2="869.32" stroke="#1a1a1a" stroke-width="1"/>
<line x1="376.62" y1="860.75" x2="379.82" y2="860.75" stroke="#1a1a1a" stroke-width="1"/>
<line x1="376.62" y1="869.32" x2="379.82" y2="869.32" stroke="#1a1a1a" stroke-width="1"/>
<rect x="382.04" y="873.46" width="5.8" height="18.84" fill="#8890c6" stroke="none" stroke-width="1"/>
<line x1="384.94" y1="873.03" x2="384.94" y2="873.89" stroke="#1a1a1a" stroke-width="1"/>
<line x1="383.34" y1="873.03" x2="386.54" y2="873.03" stroke="#1a1a1a" stroke-width="1"/>
<line x1="383.34" y1="873.89" x2="386.54" y2="873.89" stroke="#1a1a1a" stroke-width="1"/>
<rect x="388.76" y="877.31" width="5.8" height="14.99" fill="#6c73a8" stroke="none" stroke-width="1"/>
<line x1="391.66" y1="875.88" x2="391.66" y2="878.74" stroke="#1a1a1a" stroke-width="1"/>
<line x1="390.06" y1="875.88" x2="393.26" y2="875.88" stroke="#1a1a1a" stroke-width="1"/>
<line x1="390.06" y1="878.74" x2="393.26" y2="878.74" stroke="#1a1a1a" stroke-width="1"/>
<rect x="395.48" y="877.31" width="5.8" height="14.99" fill="#4f5a98" stroke="none" stroke-width="1"/>
<line x1="398.38" y1="874.46" x2="398.38" y2="880.17" stroke="#1a1a1a" stroke-width="1"/>
<line x1="396.78" y1="874.46" x2="399.98" y2="874.46" stroke="#1a1a1a" stroke-width="1"/>
<line x1="396.78" y1="880.17" x2="399.98" y2="880.17" stroke="#1a1a1a" stroke-width="1"/>
<line x1="247.1" y1="777.6" x2="247.1" y2="892.9" stroke="#1a1a1a" stroke-width="1.3"/>
<line x1="247.1" y1="892.3" x2="403.2" y2="892.3" stroke="#1a1a1a" stroke-width="1.3"/>
<line x1="243.1" y1="892.3" x2="247.1" y2="892.3" stroke="#1a1a1a" stroke-width="1.1"/>
<text x="243.7" y="895.5" font-size="8.8" text-anchor="end" fill="#222" stroke="#222" stroke-width="0.22">0</text>
<line x1="243.1" y1="863.75" x2="247.1" y2="863.75" stroke="#1a1a1a" stroke-width="1.1"/>
<text x="243.7" y="866.95" font-size="8.8" text-anchor="end" fill="#222" stroke="#222" stroke-width="0.22">20</text>
<line x1="243.1" y1="835.2" x2="247.1" y2="835.2" stroke="#1a1a1a" stroke-width="1.1"/>
<text x="243.7" y="838.4" font-size="8.8" text-anchor="end" fill="#222" stroke="#222" stroke-width="0.22">40</text>
<line x1="243.1" y1="806.65" x2="247.1" y2="806.65" stroke="#1a1a1a" stroke-width="1.1"/>
<text x="243.7" y="809.85" font-size="8.8" text-anchor="end" fill="#222" stroke="#222" stroke-width="0.22">60</text>
<line x1="243.1" y1="778.1" x2="247.1" y2="778.1" stroke="#1a1a1a" stroke-width="1.1"/>
<text x="243.7" y="781.3" font-size="8.8" text-anchor="end" fill="#222" stroke="#222" stroke-width="0.22">80</text>
<line x1="266.6" y1="892.3" x2="266.6" y2="896.3" stroke="#1a1a1a" stroke-width="1.1"/>
<text x="266.6" y="908.2" font-size="8.8" text-anchor="middle" fill="#222" stroke="#222" stroke-width="0.22">subG1</text>
<line x1="304.8" y1="892.3" x2="304.8" y2="896.3" stroke="#1a1a1a" stroke-width="1.1"/>
<text x="304.8" y="908.2" font-size="8.8" text-anchor="middle" fill="#222" stroke="#222" stroke-width="0.22">G1</text>
<line x1="344.5" y1="892.3" x2="344.5" y2="896.3" stroke="#1a1a1a" stroke-width="1.1"/>
<text x="344.5" y="908.2" font-size="8.8" text-anchor="middle" fill="#222" stroke="#222" stroke-width="0.22">S</text>
<line x1="385.4" y1="892.3" x2="385.4" y2="896.3" stroke="#1a1a1a" stroke-width="1.1"/>
<text x="385.4" y="908.2" font-size="8.8" text-anchor="middle" fill="#222" stroke="#222" stroke-width="0.22">G2M</text>
<text x="228.5" y="820.6" font-size="11.5" font-weight="bold" text-anchor="middle" fill="#1a1a1a" transform="rotate(-90 228.5 820.6)">%</text>
<text x="336" y="762" font-size="9.5" font-weight="bold" text-anchor="middle" fill="#1a1a1a">SU-DIPGXVII</text>
<path d="M293.3 805.8 L293.3 783.6 L307.1 783.6 L307.1 820" fill="none" stroke="#1a1a1a" stroke-width="1.1"/>
<path d="M297.2 776.75 L297.2 781.65 M295.08 777.98 L299.32 780.43 M299.32 777.98 L295.08 780.43 " fill="none" stroke="#1a1a1a" stroke-width="0.95"/>
<path d="M302.6 776.75 L302.6 781.65 M300.48 777.98 L304.72 780.43 M304.72 777.98 L300.48 780.43 " fill="none" stroke="#1a1a1a" stroke-width="0.95"/>
<path d="M293.3 805.8 L293.3 797.6 L300.3 797.6 L300.3 823.8" fill="none" stroke="#1a1a1a" stroke-width="1.1"/>
<path d="M292.1 791.05 L292.1 795.95 M289.98 792.27 L294.22 794.73 M294.22 792.27 L289.98 794.73 " fill="none" stroke="#1a1a1a" stroke-width="0.95"/>
<path d="M297.5 791.05 L297.5 795.95 M295.38 792.27 L299.62 794.73 M299.62 792.27 L295.38 794.73 " fill="none" stroke="#1a1a1a" stroke-width="0.95"/>
<path d="M302.9 791.05 L302.9 795.95 M300.78 792.27 L305.02 794.73 M305.02 792.27 L300.78 794.73 " fill="none" stroke="#1a1a1a" stroke-width="0.95"/>
<path d="M331.8 864.6 L331.8 785 L359.3 785 L359.3 849.5" fill="none" stroke="#1a1a1a" stroke-width="1.1"/>
<path d="M340.1 778.65 L340.1 783.55 M337.98 779.88 L342.22 782.33 M342.22 779.88 L337.98 782.33 " fill="none" stroke="#1a1a1a" stroke-width="0.95"/>
<path d="M345.5 778.65 L345.5 783.55 M343.38 779.88 L347.62 782.33 M347.62 779.88 L343.38 782.33 " fill="none" stroke="#1a1a1a" stroke-width="0.95"/>
<path d="M350.9 778.65 L350.9 783.55 M348.78 779.88 L353.02 782.33 M353.02 779.88 L348.78 782.33 " fill="none" stroke="#1a1a1a" stroke-width="0.95"/>
<path d="M331.8 864.6 L331.8 799.5 L352.5 799.5 L352.5 844.7" fill="none" stroke="#1a1a1a" stroke-width="1.1"/>
<path d="M334.5 791.95 L334.5 796.85 M332.38 793.17 L336.62 795.62 M336.62 793.17 L332.38 795.62 " fill="none" stroke="#1a1a1a" stroke-width="0.95"/>
<path d="M339.9 791.95 L339.9 796.85 M337.78 793.17 L342.02 795.62 M342.02 793.17 L337.78 795.62 " fill="none" stroke="#1a1a1a" stroke-width="0.95"/>
<path d="M345.3 791.95 L345.3 796.85 M343.18 793.17 L347.42 795.62 M347.42 793.17 L343.18 795.62 " fill="none" stroke="#1a1a1a" stroke-width="0.95"/>
<path d="M350.7 791.95 L350.7 796.85 M348.58 793.17 L352.82 795.62 M352.82 793.17 L348.58 795.62 " fill="none" stroke="#1a1a1a" stroke-width="0.95"/>
<path d="M331.8 864.6 L331.8 814.7 L345.5 814.7 L345.5 840.9" fill="none" stroke="#1a1a1a" stroke-width="1.1"/>
<path d="M330.7 808.05 L330.7 812.95 M328.58 809.27 L332.82 811.73 M332.82 809.27 L328.58 811.73 " fill="none" stroke="#1a1a1a" stroke-width="0.95"/>
<path d="M336.1 808.05 L336.1 812.95 M333.98 809.27 L338.22 811.73 M338.22 809.27 L333.98 811.73 " fill="none" stroke="#1a1a1a" stroke-width="0.95"/>
<path d="M341.5 808.05 L341.5 812.95 M339.38 809.27 L343.62 811.73 M343.62 809.27 L339.38 811.73 " fill="none" stroke="#1a1a1a" stroke-width="0.95"/>
<path d="M346.9 808.05 L346.9 812.95 M344.78 809.27 L349.02 811.73 M349.02 809.27 L344.78 811.73 " fill="none" stroke="#1a1a1a" stroke-width="0.95"/>
<path d="M331.8 864.6 L331.8 831 L338.8 831 L338.8 851.4" fill="none" stroke="#1a1a1a" stroke-width="1.1"/>
<path d="M326.9 823.25 L326.9 828.15 M324.78 824.48 L329.02 826.93 M329.02 824.48 L324.78 826.93 " fill="none" stroke="#1a1a1a" stroke-width="0.95"/>
<path d="M332.3 823.25 L332.3 828.15 M330.18 824.48 L334.42 826.93 M334.42 824.48 L330.18 826.93 " fill="none" stroke="#1a1a1a" stroke-width="0.95"/>
<path d="M337.7 823.25 L337.7 828.15 M335.58 824.48 L339.82 826.93 M339.82 824.48 L335.58 826.93 " fill="none" stroke="#1a1a1a" stroke-width="0.95"/>
<path d="M343.1 823.25 L343.1 828.15 M340.98 824.48 L345.22 826.93 M345.22 824.48 L340.98 826.93 " fill="none" stroke="#1a1a1a" stroke-width="0.95"/>
<path d="M370.5 858 L370.5 785 L397.7 785 L397.7 874.1" fill="none" stroke="#1a1a1a" stroke-width="1.1"/>
<path d="M377.2 777.75 L377.2 782.65 M375.08 778.98 L379.32 781.43 M379.32 778.98 L375.08 781.43 " fill="none" stroke="#1a1a1a" stroke-width="0.95"/>
<path d="M382.6 777.75 L382.6 782.65 M380.48 778.98 L384.72 781.43 M384.72 778.98 L380.48 781.43 " fill="none" stroke="#1a1a1a" stroke-width="0.95"/>
<path d="M388 777.75 L388 782.65 M385.88 778.98 L390.12 781.43 M390.12 778.98 L385.88 781.43 " fill="none" stroke="#1a1a1a" stroke-width="0.95"/>
<path d="M393.4 777.75 L393.4 782.65 M391.28 778.98 L395.52 781.43 M395.52 778.98 L391.28 781.43 " fill="none" stroke="#1a1a1a" stroke-width="0.95"/>
<path d="M370.5 858 L370.5 800.1 L391 800.1 L391 875" fill="none" stroke="#1a1a1a" stroke-width="1.1"/>
<path d="M373.4 792.95 L373.4 797.85 M371.28 794.17 L375.52 796.62 M375.52 794.17 L371.28 796.62 " fill="none" stroke="#1a1a1a" stroke-width="0.95"/>
<path d="M378.8 792.95 L378.8 797.85 M376.68 794.17 L380.92 796.62 M380.92 794.17 L376.68 796.62 " fill="none" stroke="#1a1a1a" stroke-width="0.95"/>
<path d="M384.2 792.95 L384.2 797.85 M382.08 794.17 L386.32 796.62 M386.32 794.17 L382.08 796.62 " fill="none" stroke="#1a1a1a" stroke-width="0.95"/>
<path d="M389.6 792.95 L389.6 797.85 M387.48 794.17 L391.72 796.62 M391.72 794.17 L387.48 796.62 " fill="none" stroke="#1a1a1a" stroke-width="0.95"/>
<path d="M370.5 858 L370.5 815.9 L384 815.9 L384 873.2" fill="none" stroke="#1a1a1a" stroke-width="1.1"/>
<path d="M372.3 809.05 L372.3 813.95 M370.18 810.27 L374.42 812.73 M374.42 810.27 L370.18 812.73 " fill="none" stroke="#1a1a1a" stroke-width="0.95"/>
<path d="M377.7 809.05 L377.7 813.95 M375.58 810.27 L379.82 812.73 M379.82 810.27 L375.58 812.73 " fill="none" stroke="#1a1a1a" stroke-width="0.95"/>
<path d="M383.1 809.05 L383.1 813.95 M380.98 810.27 L385.22 812.73 M385.22 810.27 L380.98 812.73 " fill="none" stroke="#1a1a1a" stroke-width="0.95"/>
<rect x="112.8" y="936.8" width="7.6" height="7.2" fill="#d4d5f5" stroke="none" stroke-width="1"/>
<text x="122.5" y="943.5" font-size="9.2" text-anchor="start" fill="#222" stroke="#222" stroke-width="0.22">0µM</text>
<rect x="152.3" y="936.8" width="7.6" height="7.2" fill="#aab1e6" stroke="none" stroke-width="1"/>
<text x="161.7" y="943.5" font-size="9.2" text-anchor="start" fill="#222" stroke="#222" stroke-width="0.22">2µM</text>
<rect x="189.3" y="936.8" width="7.6" height="7.2" fill="#8890c6" stroke="none" stroke-width="1"/>
<text x="198.7" y="943.5" font-size="9.2" text-anchor="start" fill="#222" stroke="#222" stroke-width="0.22">4µM</text>
<rect x="225.9" y="936.8" width="7.6" height="7.2" fill="#6c73a8" stroke="none" stroke-width="1"/>
<text x="235" y="943.5" font-size="9.2" text-anchor="start" fill="#222" stroke="#222" stroke-width="0.22">8µM</text>
<rect x="263.8" y="936.8" width="7.6" height="7.2" fill="#4f5a98" stroke="none" stroke-width="1"/>
<text x="273.4" y="943.5" font-size="9.2" text-anchor="start" fill="#222" stroke="#222" stroke-width="0.22">12µM</text>
<text x="437.5" y="745" font-size="17.5" font-weight="bold" text-anchor="start" fill="#000">H</text>
<rect x="480.9" y="887.61" width="12.3" height="7.09" fill="#c8c9f0" stroke="none" stroke-width="1"/>
<rect x="500.3" y="888.76" width="13.3" height="5.94" fill="#8e97da" stroke="none" stroke-width="1"/>
<rect x="520.1" y="871.8" width="13.3" height="22.9" fill="#5d69b0" stroke="none" stroke-width="1"/>
<rect x="540" y="822.18" width="13.3" height="72.52" fill="#3f4b8d" stroke="none" stroke-width="1"/>
<line x1="526.75" y1="861.17" x2="526.75" y2="883.2" stroke="#1a1a1a" stroke-width="1.2"/>
<line x1="523.35" y1="861.17" x2="530.15" y2="861.17" stroke="#1a1a1a" stroke-width="1.2"/>
<line x1="523.35" y1="883.2" x2="530.15" y2="883.2" stroke="#1a1a1a" stroke-width="1.2"/>
<line x1="546.65" y1="811.83" x2="546.65" y2="833.39" stroke="#1a1a1a" stroke-width="1.2"/>
<line x1="543.25" y1="811.83" x2="550.05" y2="811.83" stroke="#1a1a1a" stroke-width="1.2"/>
<line x1="543.25" y1="833.39" x2="550.05" y2="833.39" stroke="#1a1a1a" stroke-width="1.2"/>
<circle cx="482.3" cy="886.65" r="2.1" fill="#c8c9f0" stroke="#1a1a1a" stroke-width="1"/>
<circle cx="487.4" cy="884.74" r="2.1" fill="#c8c9f0" stroke="#1a1a1a" stroke-width="1"/>
<circle cx="491.5" cy="886.27" r="2.1" fill="#c8c9f0" stroke="#1a1a1a" stroke-width="1"/>
<circle cx="501.7" cy="887.61" r="2.1" fill="#8e97da" stroke="#1a1a1a" stroke-width="1"/>
<circle cx="506.9" cy="886.65" r="2.1" fill="#8e97da" stroke="#1a1a1a" stroke-width="1"/>
<circle cx="511.4" cy="887.23" r="2.1" fill="#8e97da" stroke="#1a1a1a" stroke-width="1"/>
<circle cx="526.6" cy="861.17" r="2.1" fill="#5d69b0" stroke="#1a1a1a" stroke-width="1"/>
<circle cx="526.6" cy="880.62" r="2.1" fill="#5d69b0" stroke="#1a1a1a" stroke-width="1"/>
<circle cx="526.6" cy="884.74" r="2.1" fill="#5d69b0" stroke="#1a1a1a" stroke-width="1"/>
<circle cx="546.7" cy="812.6" r="2.1" fill="#3f4b8d" stroke="#1a1a1a" stroke-width="1"/>
<circle cx="546.7" cy="819.69" r="2.1" fill="#3f4b8d" stroke="#1a1a1a" stroke-width="1"/>
<circle cx="546.7" cy="833.58" r="2.1" fill="#3f4b8d" stroke="#1a1a1a" stroke-width="1"/>
<line x1="478.9" y1="798.4" x2="478.9" y2="895.3" stroke="#1a1a1a" stroke-width="1.3"/>
<line x1="478.9" y1="894.7" x2="559" y2="894.7" stroke="#1a1a1a" stroke-width="1.3"/>
<line x1="474.4" y1="894.7" x2="478.9" y2="894.7" stroke="#1a1a1a" stroke-width="1.1"/>
<text x="473.5" y="897.9" font-size="8.8" text-anchor="end" fill="#222" stroke="#222" stroke-width="0.22">0</text>
<line x1="474.4" y1="846.8" x2="478.9" y2="846.8" stroke="#1a1a1a" stroke-width="1.1"/>
<text x="473.5" y="850" font-size="8.8" text-anchor="end" fill="#222" stroke="#222" stroke-width="0.22">50</text>
<line x1="474.4" y1="798.9" x2="478.9" y2="798.9" stroke="#1a1a1a" stroke-width="1.1"/>
<text x="473.5" y="802.1" font-size="8.8" text-anchor="end" fill="#222" stroke="#222" stroke-width="0.22">100</text>
<line x1="487.05" y1="894.7" x2="487.05" y2="898.7" stroke="#1a1a1a" stroke-width="1.1"/>
<text x="487.05" y="908.4" font-size="8.6" text-anchor="middle" fill="#222" stroke="#222" stroke-width="0.22">0µM</text>
<line x1="506.95" y1="894.7" x2="506.95" y2="898.7" stroke="#1a1a1a" stroke-width="1.1"/>
<text x="506.95" y="908.4" font-size="8.6" text-anchor="middle" fill="#222" stroke="#222" stroke-width="0.22">2µM</text>
<line x1="526.75" y1="894.7" x2="526.75" y2="898.7" stroke="#1a1a1a" stroke-width="1.1"/>
<text x="526.75" y="908.4" font-size="8.6" text-anchor="middle" fill="#222" stroke="#222" stroke-width="0.22">4µM</text>
<line x1="546.65" y1="894.7" x2="546.65" y2="898.7" stroke="#1a1a1a" stroke-width="1.1"/>
<text x="546.65" y="908.4" font-size="8.6" text-anchor="middle" fill="#222" stroke="#222" stroke-width="0.22">8µM</text>
<text x="515.6" y="921" font-size="9" text-anchor="middle" fill="#222" stroke="#222" stroke-width="0.22">FB23-2</text>
<text x="457.2" y="845.8" font-size="9.8" text-anchor="middle" fill="#222" stroke="#222" stroke-width="0.22" transform="rotate(-90 457.2 845.8)">Apoptotic cells (%)</text>
<text x="515.6" y="775" font-size="9.5" font-weight="bold" text-anchor="middle" fill="#1a1a1a">SU-DIPGXIII</text>
<path d="M486.4 883 L486.4 795.2 L546.7 795.2 L546.7 806.4" fill="none" stroke="#1a1a1a" stroke-width="1.2"/>
<path d="M513.1 787.6 L513.1 792.4 M511.02 788.8 L515.18 791.2 M515.18 788.8 L511.02 791.2 " fill="none" stroke="#1a1a1a" stroke-width="1"/>
<path d="M520.1 787.6 L520.1 792.4 M518.02 788.8 L522.18 791.2 M522.18 788.8 L518.02 791.2 " fill="none" stroke="#1a1a1a" stroke-width="1"/>
<path d="M527.1 787.6 L527.1 792.4 M525.02 788.8 L529.18 791.2 M529.18 788.8 L525.02 791.2 " fill="none" stroke="#1a1a1a" stroke-width="1"/>
<rect x="605.2" y="864.4" width="13" height="29.7" fill="#c8c9f0" stroke="none" stroke-width="1"/>
<rect x="624.6" y="862.04" width="13" height="32.06" fill="#8e97da" stroke="none" stroke-width="1"/>
<rect x="643.9" y="854.18" width="13" height="39.92" fill="#5d69b0" stroke="none" stroke-width="1"/>
<rect x="663.3" y="835.33" width="12.7" height="58.77" fill="#3f4b8d" stroke="none" stroke-width="1"/>
<line x1="631.1" y1="854.81" x2="631.1" y2="865.81" stroke="#1a1a1a" stroke-width="1.2"/>
<line x1="627.7" y1="854.81" x2="634.5" y2="854.81" stroke="#1a1a1a" stroke-width="1.2"/>
<line x1="627.7" y1="865.81" x2="634.5" y2="865.81" stroke="#1a1a1a" stroke-width="1.2"/>
<line x1="650.4" y1="852.3" x2="650.4" y2="855.44" stroke="#1a1a1a" stroke-width="1.2"/>
<line x1="647" y1="852.3" x2="653.8" y2="852.3" stroke="#1a1a1a" stroke-width="1.2"/>
<line x1="647" y1="855.44" x2="653.8" y2="855.44" stroke="#1a1a1a" stroke-width="1.2"/>
<line x1="669.65" y1="824.01" x2="669.65" y2="845.38" stroke="#1a1a1a" stroke-width="1.2"/>
<line x1="666.25" y1="824.01" x2="673.05" y2="824.01" stroke="#1a1a1a" stroke-width="1.2"/>
<line x1="666.25" y1="845.38" x2="673.05" y2="845.38" stroke="#1a1a1a" stroke-width="1.2"/>
<circle cx="607.2" cy="866.76" r="2.1" fill="#c8c9f0" stroke="#1a1a1a" stroke-width="1"/>
<circle cx="612.2" cy="863.93" r="2.1" fill="#c8c9f0" stroke="#1a1a1a" stroke-width="1"/>
<circle cx="616.8" cy="866.13" r="2.1" fill="#c8c9f0" stroke="#1a1a1a" stroke-width="1"/>
<circle cx="626.2" cy="865.5" r="2.1" fill="#8e97da" stroke="#1a1a1a" stroke-width="1"/>
<circle cx="631.2" cy="854.81" r="2.1" fill="#8e97da" stroke="#1a1a1a" stroke-width="1"/>
<circle cx="635.6" cy="865.5" r="2.1" fill="#8e97da" stroke="#1a1a1a" stroke-width="1"/>
<circle cx="645.7" cy="852.3" r="2.1" fill="#5d69b0" stroke="#1a1a1a" stroke-width="1"/>
<circle cx="650.9" cy="854.81" r="2.1" fill="#5d69b0" stroke="#1a1a1a" stroke-width="1"/>
<circle cx="654.9" cy="854.81" r="2.1" fill="#5d69b0" stroke="#1a1a1a" stroke-width="1"/>
<circle cx="664.9" cy="827.78" r="2.1" fill="#3f4b8d" stroke="#1a1a1a" stroke-width="1"/>
<circle cx="669.7" cy="848.21" r="2.1" fill="#3f4b8d" stroke="#1a1a1a" stroke-width="1"/>
<circle cx="674.4" cy="829.67" r="2.1" fill="#3f4b8d" stroke="#1a1a1a" stroke-width="1"/>
<line x1="602.7" y1="799.31" x2="602.7" y2="894.7" stroke="#1a1a1a" stroke-width="1.3"/>
<line x1="602.7" y1="894.1" x2="681.4" y2="894.1" stroke="#1a1a1a" stroke-width="1.3"/>
<line x1="598.2" y1="894.1" x2="602.7" y2="894.1" stroke="#1a1a1a" stroke-width="1.1"/>
<text x="598.1" y="897.3" font-size="8.8" text-anchor="end" fill="#222" stroke="#222" stroke-width="0.22">0</text>
<line x1="598.2" y1="862.67" x2="602.7" y2="862.67" stroke="#1a1a1a" stroke-width="1.1"/>
<text x="598.1" y="865.87" font-size="8.8" text-anchor="end" fill="#222" stroke="#222" stroke-width="0.22">10</text>
<line x1="598.2" y1="831.24" x2="602.7" y2="831.24" stroke="#1a1a1a" stroke-width="1.1"/>
<text x="598.1" y="834.44" font-size="8.8" text-anchor="end" fill="#222" stroke="#222" stroke-width="0.22">20</text>
<line x1="598.2" y1="799.81" x2="602.7" y2="799.81" stroke="#1a1a1a" stroke-width="1.1"/>
<text x="598.1" y="803.01" font-size="8.8" text-anchor="end" fill="#222" stroke="#222" stroke-width="0.22">30</text>
<line x1="611.7" y1="894.1" x2="611.7" y2="898.1" stroke="#1a1a1a" stroke-width="1.1"/>
<text x="611.7" y="907.8" font-size="8.6" text-anchor="middle" fill="#222" stroke="#222" stroke-width="0.22">0µM</text>
<line x1="631.1" y1="894.1" x2="631.1" y2="898.1" stroke="#1a1a1a" stroke-width="1.1"/>
<text x="631.1" y="907.8" font-size="8.6" text-anchor="middle" fill="#222" stroke="#222" stroke-width="0.22">2µM</text>
<line x1="650.4" y1="894.1" x2="650.4" y2="898.1" stroke="#1a1a1a" stroke-width="1.1"/>
<text x="650.4" y="907.8" font-size="8.6" text-anchor="middle" fill="#222" stroke="#222" stroke-width="0.22">4µM</text>
<line x1="669.65" y1="894.1" x2="669.65" y2="898.1" stroke="#1a1a1a" stroke-width="1.1"/>
<text x="669.65" y="907.8" font-size="8.6" text-anchor="middle" fill="#222" stroke="#222" stroke-width="0.22">8µM</text>
<text x="638.2" y="921" font-size="9" text-anchor="middle" fill="#222" stroke="#222" stroke-width="0.22">FB23-2</text>
<text x="583.2" y="846.7" font-size="9.8" text-anchor="middle" fill="#222" stroke="#222" stroke-width="0.22" transform="rotate(-90 583.2 846.7)">Apoptotic cells (%)</text>
<text x="640.3" y="775.4" font-size="9.5" font-weight="bold" text-anchor="middle" fill="#1a1a1a">SU-DIPGXVII</text>
<path d="M611.6 858.4 L611.6 807.6 L669.7 807.6 L669.7 818.8" fill="none" stroke="#1a1a1a" stroke-width="1.2"/>
<path d="M640.8 797.8 L640.8 802.6 M638.72 799 L642.88 801.4 M642.88 799 L638.72 801.4 " fill="none" stroke="#1a1a1a" stroke-width="1"/>
<path d="M647.8 797.8 L647.8 802.6 M645.72 799 L649.88 801.4 M649.88 799 L645.72 801.4 " fill="none" stroke="#1a1a1a" stroke-width="1"/>
</svg></body></html>
